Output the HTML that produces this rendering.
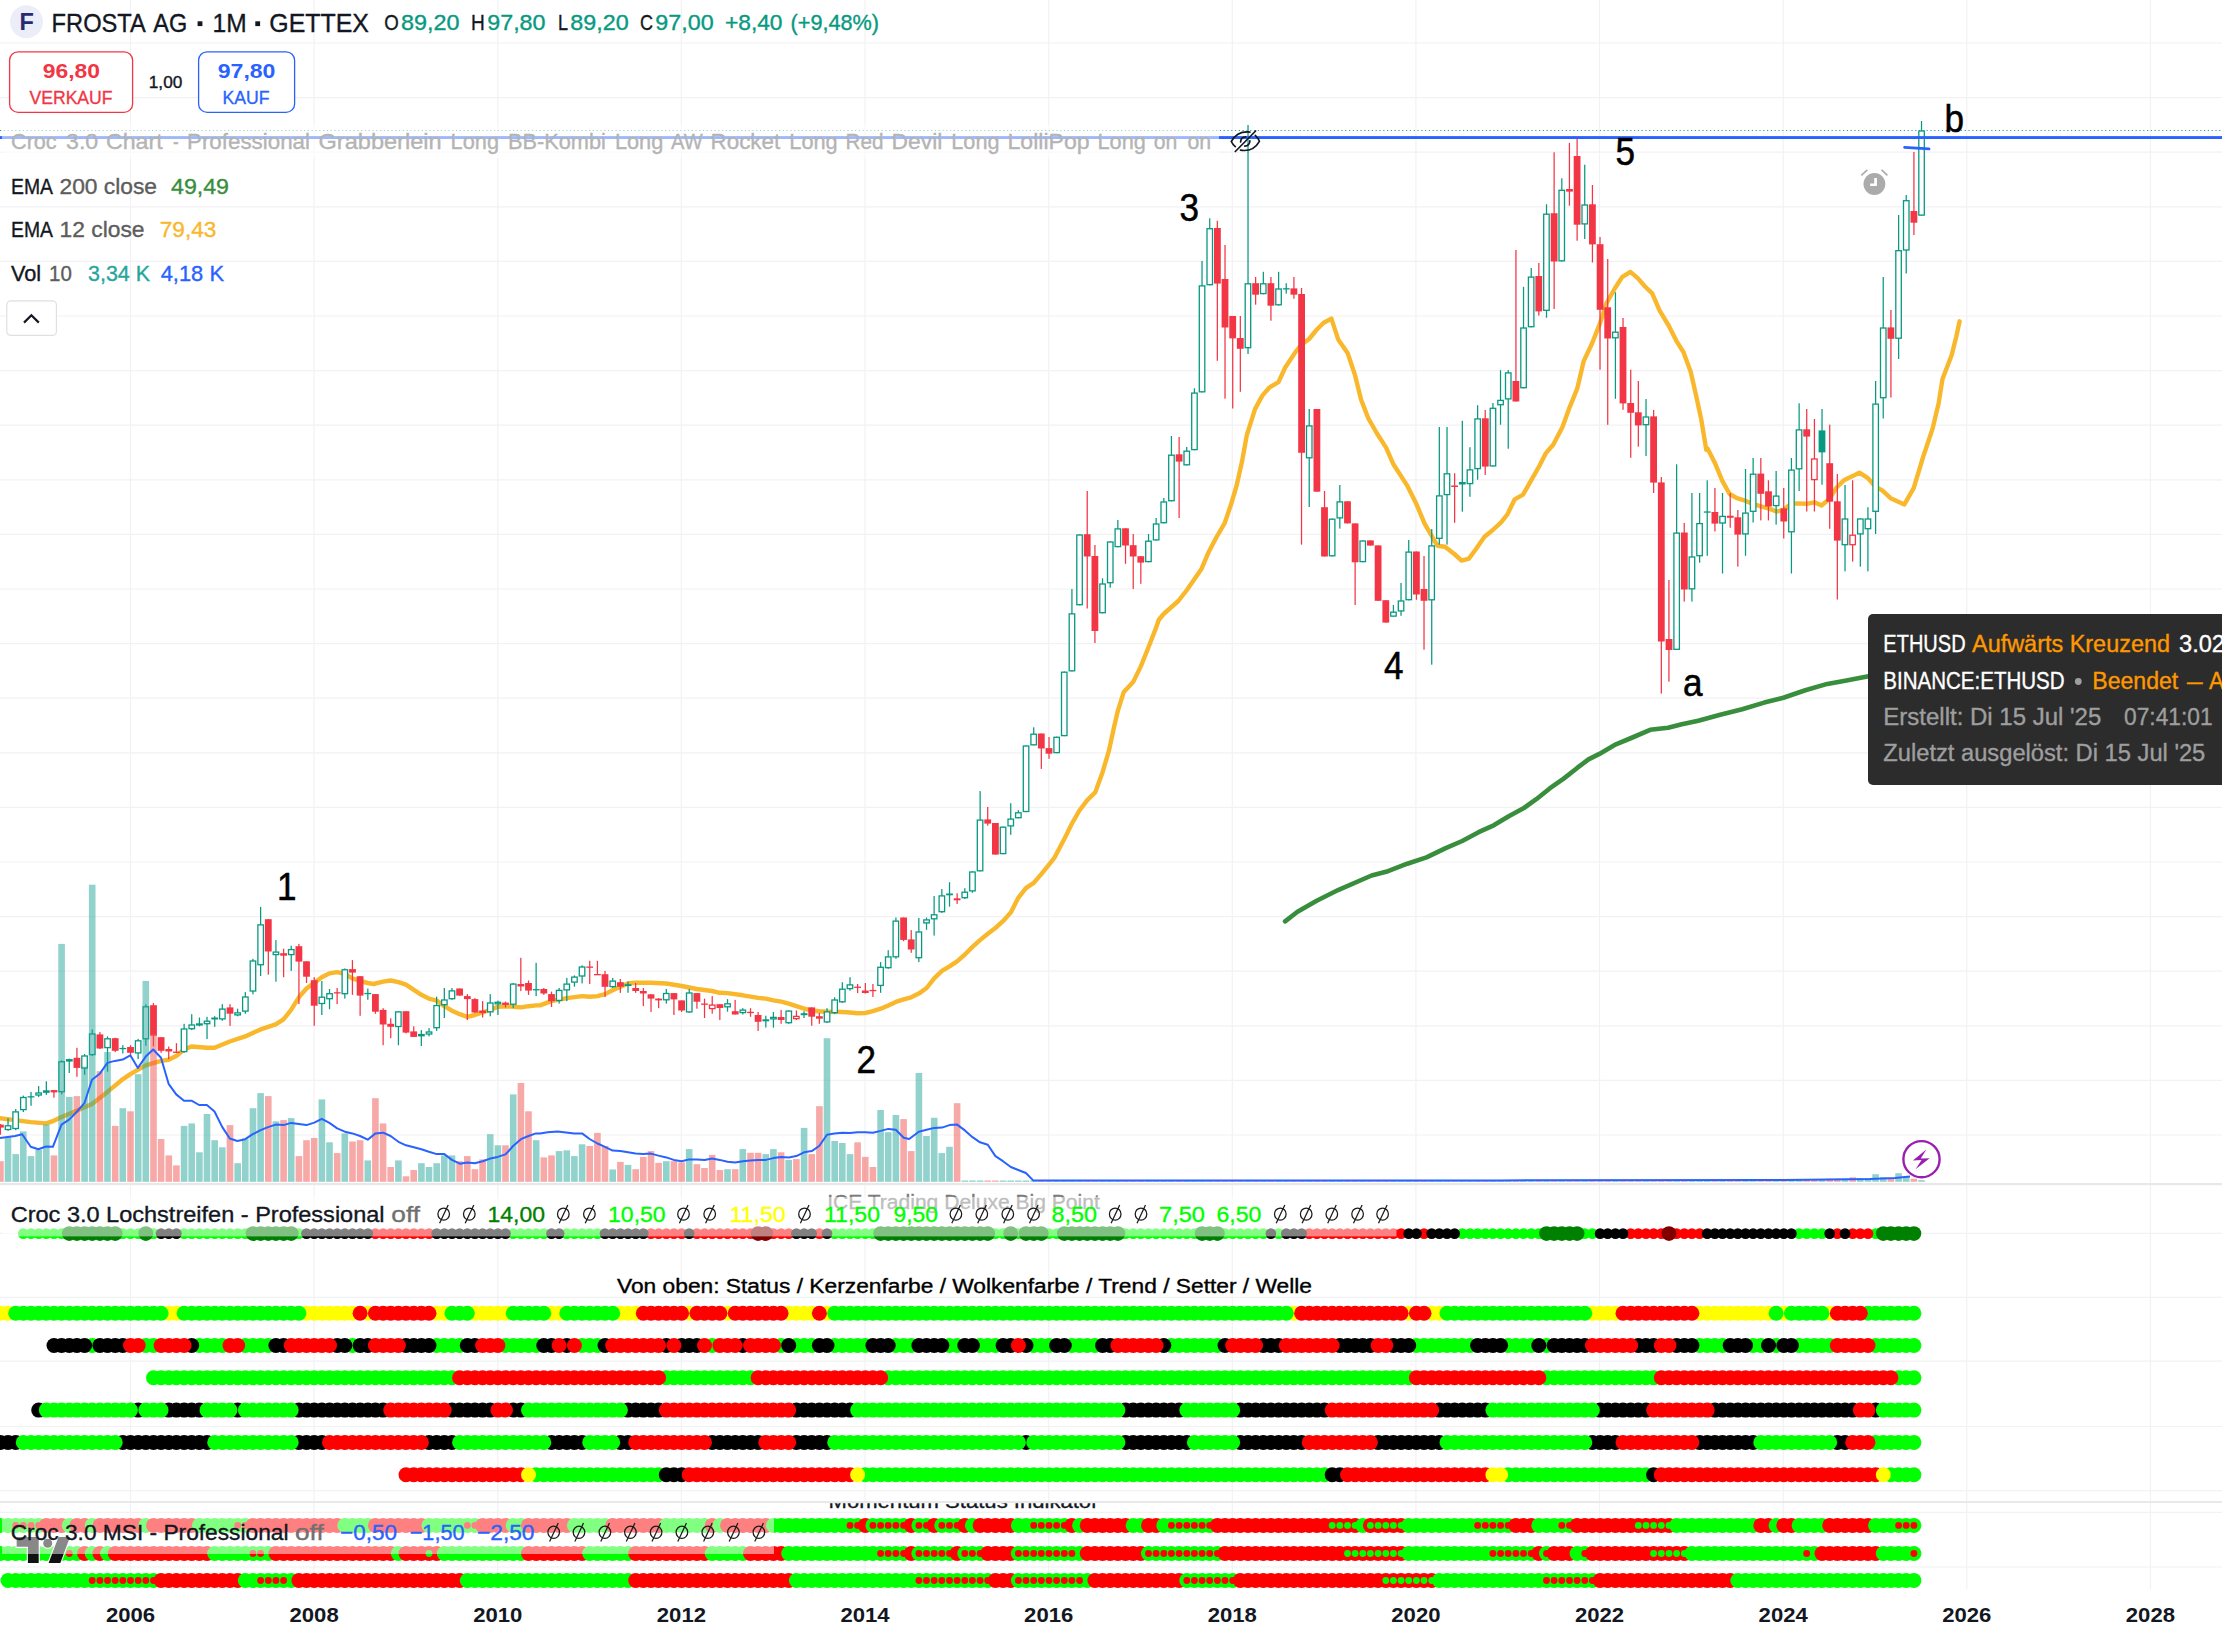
<!DOCTYPE html>
<html><head><meta charset="utf-8"><title>FROSTA AG</title>
<style>html,body{margin:0;padding:0;background:#fff;overflow:hidden}svg{display:block}text{font-family:"Liberation Sans",sans-serif;white-space:pre}</style>
</head><body>
<svg width="2222" height="1634" viewBox="0 0 2222 1634" font-family="Liberation Sans, sans-serif">
<rect width="2222" height="1634" fill="#fff"/>
<g stroke="#f2f2f4" stroke-width="1.2" fill="none">
<path d="M130.5 0V1589"/>
<path d="M314.1 0V1589"/>
<path d="M497.8 0V1589"/>
<path d="M681.4 0V1589"/>
<path d="M865 0V1589"/>
<path d="M1048.7 0V1589"/>
<path d="M1232.3 0V1589"/>
<path d="M1415.9 0V1589"/>
<path d="M1599.5 0V1589"/>
<path d="M1783.2 0V1589"/>
<path d="M1966.8 0V1589"/>
<path d="M2150.4 0V1589"/>
<path d="M0 43H2222"/>
<path d="M0 97.6H2222"/>
<path d="M0 152.2H2222"/>
<path d="M0 206.8H2222"/>
<path d="M0 261.4H2222"/>
<path d="M0 316H2222"/>
<path d="M0 370.6H2222"/>
<path d="M0 425.2H2222"/>
<path d="M0 479.8H2222"/>
<path d="M0 534.4H2222"/>
<path d="M0 589H2222"/>
<path d="M0 643.6H2222"/>
<path d="M0 698.2H2222"/>
<path d="M0 752.8H2222"/>
<path d="M0 807.4H2222"/>
<path d="M0 862H2222"/>
<path d="M0 916.6H2222"/>
<path d="M0 971.2H2222"/>
<path d="M0 1025.8H2222"/>
<path d="M0 1080.4H2222"/>
<path d="M0 1135H2222"/>
<path d="M0 1233.3H2222"/>
<path d="M0 1297.3H2222"/>
<path d="M0 1361.2H2222"/>
<path d="M0 1426.5H2222"/>
<path d="M0 1490.6H2222"/>
<path d="M0 1512.3H2222"/>
<path d="M0 1567H2222"/>
</g>
<rect x="0" y="1183" width="2222" height="2.2" fill="#e8e8ea"/>
<rect x="0" y="1501.1" width="2222" height="1.9" fill="#e8e8ea"/>
<path d="M1285.1 921.4 L1297.5 911.8 L1316.7 900.8 L1338.6 889.8 L1371.6 875.5 L1388 871.2 L1407.3 863.7 L1426.5 857.4 L1445.7 848.1 L1462.2 841 L1478.6 832.2 L1493.7 825.3 L1508.8 816.2 L1523.9 808 L1536.3 799.2 L1550 788.2 L1563.7 778.6 L1577.5 767.7 L1588.5 759.4 L1599.4 753.9 L1615.9 744.3 L1632.4 737.5 L1650.2 729.8 L1668.1 727.8 L1681.8 724.3 L1698.3 720.7 L1720.2 714.7 L1742.2 709.2 L1764.2 702.6 L1783.4 697.7 L1805.3 690.2 L1827.3 683.9 L1846.5 680.4 L1868.5 676.2 L1879.5 674.6" stroke="#388e3c" stroke-width="4.6" fill="none" stroke-linejoin="round" stroke-linecap="round"/>
<path d="M0 1118.3 L15.1 1120.1 L30.7 1122.1 L46.1 1123.4 L53.7 1120.8 L61.5 1117.1 L76.6 1110.8 L92 1104 L107.4 1091.9 L122.7 1079.3 L130.3 1074.2 L145.7 1065.4 L161 1060.9 L168.6 1059.8 L176.2 1056.1 L184 1049.5 L191.5 1046.5 L206.9 1047.8 L214.5 1047.8 L229.8 1041.5 L245.2 1036.4 L260.6 1029.4 L275.7 1024.3 L283.5 1019.3 L291.1 1009.9 L298.9 997.3 L306.5 988.5 L314.3 982.7 L321.8 977.2 L329.4 973.4 L337.2 972.1 L344.8 973.9 L352.3 978.4 L360.1 981 L367.7 983 L373.5 984 L383.1 981.7 L390.6 980.5 L398.4 982.2 L406 984.7 L413.8 989.8 L421.4 994.8 L428.9 998.6 L436.7 1000.6 L444.3 1006.2 L451.9 1010.7 L459.7 1014.2 L467.2 1016.8 L474.8 1015 L482.6 1012.5 L490.2 1009.9 L497.7 1006.9 L505.5 1006.2 L513.1 1006.7 L520.9 1007.4 L528.5 1006.2 L536 1005.4 L540 1005.4 L551.3 1001.1 L566.7 998.1 L582.1 996.1 L589.6 996.8 L597.5 996.1 L605 994.1 L612.6 990.3 L620.4 986.8 L628 983.5 L635.5 982.7 L650.9 982.7 L666.3 983.5 L681.6 986 L696.8 989 L712.1 991 L719.7 992.8 L727.5 993.1 L742.9 995.3 L758.2 997.9 L765.8 998.6 L773.4 1000.4 L781.2 1001.6 L788.7 1003.6 L796.3 1006.2 L804.1 1008.7 L811.7 1010.5 L819.2 1011.2 L827 1011.7 L834.6 1011.7 L842.4 1012 L850 1012.5 L857.5 1013.2 L865.4 1013 L872.9 1011.2 L880.7 1008.7 L888.3 1005.4 L895.8 1001.9 L903.7 999.4 L911.2 997.3 L918.8 993.6 L926.6 988 L934.2 978.4 L942 970.9 L949.5 966.4 L957.1 961.3 L964.9 954.5 L972.5 946.9 L980 940.1 L987.8 933.8 L995.4 928 L1003 921.2 L1010.8 912.4 L1018.3 897.8 L1025.9 888.2 L1033.4 883.2 L1041.5 873.9 L1051.6 861.3 L1054.7 857.3 L1064 839.6 L1071.7 824 L1079.4 810.5 L1087.3 800.1 L1095.2 792.4 L1102.3 773 L1108.8 751.2 L1114 727.3 L1117.9 710.6 L1123.8 691.9 L1133.1 682.1 L1140.6 666.9 L1148.5 647.2 L1156.2 627.4 L1158.7 620 L1163.6 614 L1178.3 601 L1186.9 590 L1201.6 568.7 L1208.3 552.8 L1216.3 537.5 L1224.8 522.8 L1231 504.5 L1236.5 486 L1242 461.6 L1246.9 434.7 L1248.8 428.9 L1255 409.1 L1262.3 395.6 L1269.6 387.3 L1278.5 382.1 L1285.2 367.5 L1295.6 351.9 L1301.4 344.6 L1309.1 339 L1316.4 330 L1323.7 322.8 L1331.4 318.6 L1338.2 339.4 L1347.6 352.9 L1354.9 374.8 L1361.1 399.8 L1368.4 418.5 L1376.7 433 L1386.1 447.6 L1393.4 464.3 L1406.9 485.1 L1416.3 503.8 L1424.6 523.6 L1434 540 L1437.7 545.7 L1445 546.7 L1454.3 554 L1461.6 560.6 L1468.9 558.6 L1476.2 548.8 L1484.5 536.7 L1492.8 530 L1501.1 522.3 L1507.4 514.4 L1514.7 499.3 L1523 494.7 L1531.3 480.1 L1539.6 465.5 L1545.9 453.1 L1553.2 444.7 L1562.5 427 L1568.8 409.4 L1577.3 388.4 L1583.6 361.4 L1591.9 343.7 L1600.2 322.9 L1606.5 303.1 L1614.8 288.5 L1622.1 277.1 L1630.4 271.9 L1637.7 278.1 L1645 286.5 L1652.2 293.3 L1659.5 310.4 L1668.9 326 L1676.2 340.6 L1683.4 352 L1690.7 371.8 L1695.9 394.7 L1701.1 418.6 L1706.3 449.8 L1707.7 448.7 L1715 463.2 L1722.3 480.9 L1729.6 494 L1736.9 498.2 L1745.2 500.7 L1752.5 503.8 L1760.8 506.3 L1768.5 508.4 L1776.4 511.5 L1783.7 510 L1788.9 505.5 L1796.2 503.4 L1806.6 503.8 L1814.5 502.3 L1821.5 505.5 L1829.7 498.6 L1836.3 487.8 L1844.4 479.9 L1852.6 476.1 L1859.4 472.6 L1867.5 477.8 L1875.6 486.7 L1882.5 490.7 L1890.6 498.2 L1904.4 504.4 L1913.7 488.2 L1923.1 457 L1932.5 428.9 L1938.7 402.9 L1942.5 379 L1951.7 355 L1956.3 336.5 L1959.6 321.3" stroke="#f9b72c" stroke-width="4.4" fill="none" stroke-linejoin="round" stroke-linecap="round"/>
<g>
<rect x="-0.2" y="1124.1" width="1.25" height="10.6" fill="#f23645"/>
<rect x="-3" y="1124.6" width="6.8" height="3" fill="#f23645"/>
<rect x="7.4" y="1118.3" width="1.25" height="12.6" fill="#089981"/>
<rect x="5.3" y="1125.8" width="5.5" height="3.7" fill="#fff" stroke="#089981" stroke-width="1.3"/>
<rect x="15.1" y="1109" width="1.25" height="21.2" fill="#089981"/>
<rect x="12.9" y="1111.9" width="5.5" height="16.6" fill="#fff" stroke="#089981" stroke-width="1.3"/>
<rect x="22.7" y="1095.6" width="1.25" height="16.4" fill="#089981"/>
<rect x="20.6" y="1097.5" width="5.5" height="12.1" fill="#fff" stroke="#089981" stroke-width="1.3"/>
<rect x="30.4" y="1091.9" width="1.25" height="13.9" fill="#089981"/>
<rect x="27.6" y="1096.2" width="6.8" height="1.3" fill="#089981"/>
<rect x="38" y="1086.1" width="1.25" height="10.8" fill="#089981"/>
<rect x="35.9" y="1093" width="5.5" height="2" fill="#fff" stroke="#089981" stroke-width="1.3"/>
<rect x="45.7" y="1081.3" width="1.25" height="13.6" fill="#089981"/>
<rect x="42.9" y="1090.3" width="6.8" height="2.5" fill="#089981"/>
<rect x="53.3" y="1090.1" width="1.25" height="7.6" fill="#f23645"/>
<rect x="50.6" y="1090.1" width="6.8" height="2.3" fill="#f23645"/>
<rect x="61" y="1060.4" width="1.25" height="34" fill="#089981"/>
<rect x="58.9" y="1061.8" width="5.5" height="29.9" fill="#fff" stroke="#089981" stroke-width="1.3"/>
<rect x="68.6" y="1058.6" width="1.25" height="14.4" fill="#089981"/>
<rect x="65.9" y="1059.1" width="6.8" height="2.5" fill="#089981"/>
<rect x="76.3" y="1047.8" width="1.25" height="29" fill="#f23645"/>
<rect x="73.5" y="1057.8" width="6.8" height="10.1" fill="#f23645"/>
<rect x="84" y="1054.1" width="1.25" height="20.7" fill="#089981"/>
<rect x="81.8" y="1056" width="5.5" height="12.1" fill="#fff" stroke="#089981" stroke-width="1.3"/>
<rect x="91.6" y="1029.4" width="1.25" height="26.7" fill="#089981"/>
<rect x="89.5" y="1034" width="5.5" height="20.6" fill="#fff" stroke="#089981" stroke-width="1.3"/>
<rect x="99.3" y="1032.1" width="1.25" height="16.9" fill="#f23645"/>
<rect x="96.5" y="1034.4" width="6.8" height="14.1" fill="#f23645"/>
<rect x="106.9" y="1036.4" width="1.25" height="35.3" fill="#089981"/>
<rect x="104.8" y="1038.8" width="5.5" height="8.8" fill="#fff" stroke="#089981" stroke-width="1.3"/>
<rect x="114.6" y="1037.7" width="1.25" height="14.4" fill="#f23645"/>
<rect x="111.8" y="1038.2" width="6.8" height="12.6" fill="#f23645"/>
<rect x="122.2" y="1045.2" width="1.25" height="8.3" fill="#089981"/>
<rect x="119.4" y="1047.9" width="6.8" height="1.3" fill="#089981"/>
<rect x="129.9" y="1045.2" width="1.25" height="10.1" fill="#f23645"/>
<rect x="127.1" y="1047" width="6.8" height="5.8" fill="#f23645"/>
<rect x="137.5" y="1038.9" width="1.25" height="20.2" fill="#089981"/>
<rect x="135.4" y="1040.8" width="5.5" height="12.1" fill="#fff" stroke="#089981" stroke-width="1.3"/>
<rect x="145.2" y="1004.2" width="1.25" height="41.6" fill="#089981"/>
<rect x="143.1" y="1006.8" width="5.5" height="32" fill="#fff" stroke="#089981" stroke-width="1.3"/>
<rect x="152.8" y="1003.1" width="1.25" height="43.3" fill="#f23645"/>
<rect x="150.1" y="1005.2" width="6.8" height="30.5" fill="#f23645"/>
<rect x="160.5" y="1037.2" width="1.25" height="15.6" fill="#f23645"/>
<rect x="157.7" y="1037.2" width="6.8" height="13.6" fill="#f23645"/>
<rect x="168.1" y="1046.5" width="1.25" height="12.6" fill="#f23645"/>
<rect x="165.4" y="1049" width="6.8" height="2.5" fill="#f23645"/>
<rect x="175.8" y="1043.2" width="1.25" height="9.6" fill="#f23645"/>
<rect x="173" y="1051.6" width="6.8" height="1.3" fill="#f23645"/>
<rect x="183.5" y="1023.8" width="1.25" height="29" fill="#089981"/>
<rect x="181.3" y="1029" width="5.5" height="22.6" fill="#fff" stroke="#089981" stroke-width="1.3"/>
<rect x="191.1" y="1014.2" width="1.25" height="15.9" fill="#089981"/>
<rect x="189" y="1025" width="5.5" height="3.7" fill="#fff" stroke="#089981" stroke-width="1.3"/>
<rect x="198.8" y="1017.5" width="1.25" height="8.8" fill="#089981"/>
<rect x="196" y="1023.3" width="6.8" height="2.3" fill="#089981"/>
<rect x="206.4" y="1016.8" width="1.25" height="22.2" fill="#089981"/>
<rect x="204.3" y="1021.2" width="5.5" height="2.5" fill="#fff" stroke="#089981" stroke-width="1.3"/>
<rect x="214.1" y="1016.2" width="1.25" height="10.6" fill="#089981"/>
<rect x="211.3" y="1017.5" width="6.8" height="2" fill="#089981"/>
<rect x="221.7" y="1004.2" width="1.25" height="16.6" fill="#089981"/>
<rect x="219.6" y="1009.1" width="5.5" height="9.8" fill="#fff" stroke="#089981" stroke-width="1.3"/>
<rect x="229.4" y="1004.2" width="1.25" height="21.7" fill="#f23645"/>
<rect x="226.6" y="1007.4" width="6.8" height="6.3" fill="#f23645"/>
<rect x="237" y="1008.7" width="1.25" height="7.6" fill="#089981"/>
<rect x="234.9" y="1012.9" width="5.5" height="2" fill="#fff" stroke="#089981" stroke-width="1.3"/>
<rect x="244.7" y="992.1" width="1.25" height="21.7" fill="#089981"/>
<rect x="242.6" y="997" width="5.5" height="14.1" fill="#fff" stroke="#089981" stroke-width="1.3"/>
<rect x="252.3" y="958.8" width="1.25" height="35.5" fill="#089981"/>
<rect x="250.2" y="961" width="5.5" height="30" fill="#fff" stroke="#089981" stroke-width="1.3"/>
<rect x="260" y="906.9" width="1.25" height="69.1" fill="#089981"/>
<rect x="257.9" y="924.9" width="5.5" height="39.8" fill="#fff" stroke="#089981" stroke-width="1.3"/>
<rect x="267.7" y="919.2" width="1.25" height="55.4" fill="#f23645"/>
<rect x="264.9" y="919.2" width="6.8" height="32.3" fill="#f23645"/>
<rect x="275.3" y="940.1" width="1.25" height="41.6" fill="#089981"/>
<rect x="273.2" y="952.1" width="5.5" height="2.5" fill="#fff" stroke="#089981" stroke-width="1.3"/>
<rect x="283" y="948.7" width="1.25" height="28.5" fill="#f23645"/>
<rect x="280.2" y="953.2" width="6.8" height="2.5" fill="#f23645"/>
<rect x="290.6" y="945.7" width="1.25" height="25.2" fill="#089981"/>
<rect x="288.5" y="949.6" width="5.5" height="5" fill="#fff" stroke="#089981" stroke-width="1.3"/>
<rect x="298.3" y="943.9" width="1.25" height="60.2" fill="#f23645"/>
<rect x="295.5" y="946.2" width="6.8" height="15.4" fill="#f23645"/>
<rect x="305.9" y="961.3" width="1.25" height="21.7" fill="#f23645"/>
<rect x="303.1" y="961.3" width="6.8" height="15.4" fill="#f23645"/>
<rect x="313.6" y="977.2" width="1.25" height="48.6" fill="#f23645"/>
<rect x="310.8" y="980.2" width="6.8" height="25.5" fill="#f23645"/>
<rect x="321.2" y="981" width="1.25" height="34" fill="#089981"/>
<rect x="319.1" y="997.2" width="5.5" height="6.3" fill="#fff" stroke="#089981" stroke-width="1.3"/>
<rect x="328.9" y="989" width="1.25" height="20.2" fill="#089981"/>
<rect x="326.8" y="993.7" width="5.5" height="5" fill="#fff" stroke="#089981" stroke-width="1.3"/>
<rect x="336.5" y="988" width="1.25" height="16.1" fill="#f23645"/>
<rect x="333.8" y="992.2" width="6.8" height="1.3" fill="#f23645"/>
<rect x="344.2" y="968.4" width="1.25" height="30.2" fill="#089981"/>
<rect x="342.1" y="969.8" width="5.5" height="23.9" fill="#fff" stroke="#089981" stroke-width="1.3"/>
<rect x="351.8" y="960.1" width="1.25" height="34.8" fill="#f23645"/>
<rect x="349.1" y="969.1" width="6.8" height="3.5" fill="#f23645"/>
<rect x="359.5" y="976.2" width="1.25" height="39.6" fill="#f23645"/>
<rect x="356.7" y="976.2" width="6.8" height="19.4" fill="#f23645"/>
<rect x="367.2" y="988.5" width="1.25" height="11.3" fill="#089981"/>
<rect x="364.4" y="992.9" width="6.8" height="1.3" fill="#089981"/>
<rect x="374.8" y="994.1" width="1.25" height="19.7" fill="#f23645"/>
<rect x="372" y="994.1" width="6.8" height="17.6" fill="#f23645"/>
<rect x="382.5" y="1008.2" width="1.25" height="37" fill="#f23645"/>
<rect x="379.7" y="1009.9" width="6.8" height="14.6" fill="#f23645"/>
<rect x="390.1" y="1018.3" width="1.25" height="19.9" fill="#f23645"/>
<rect x="387.3" y="1023.8" width="6.8" height="3" fill="#f23645"/>
<rect x="397.8" y="1011.2" width="1.25" height="34" fill="#089981"/>
<rect x="395.6" y="1011.9" width="5.5" height="14.6" fill="#fff" stroke="#089981" stroke-width="1.3"/>
<rect x="405.4" y="1011.2" width="1.25" height="22.2" fill="#f23645"/>
<rect x="402.6" y="1011.2" width="6.8" height="21.4" fill="#f23645"/>
<rect x="413.1" y="1026.3" width="1.25" height="10.6" fill="#f23645"/>
<rect x="410.3" y="1031.4" width="6.8" height="5.5" fill="#f23645"/>
<rect x="420.7" y="1030.1" width="1.25" height="15.9" fill="#089981"/>
<rect x="418" y="1033.9" width="6.8" height="2.5" fill="#089981"/>
<rect x="428.4" y="1028.1" width="1.25" height="8.3" fill="#089981"/>
<rect x="426.3" y="1032" width="5.5" height="2" fill="#fff" stroke="#089981" stroke-width="1.3"/>
<rect x="436" y="996.6" width="1.25" height="34.3" fill="#089981"/>
<rect x="433.9" y="1005.6" width="5.5" height="22.1" fill="#fff" stroke="#089981" stroke-width="1.3"/>
<rect x="443.7" y="988" width="1.25" height="30" fill="#089981"/>
<rect x="441.6" y="1000" width="5.5" height="4.7" fill="#fff" stroke="#089981" stroke-width="1.3"/>
<rect x="451.3" y="988" width="1.25" height="11.8" fill="#089981"/>
<rect x="449.2" y="990.9" width="5.5" height="7.8" fill="#fff" stroke="#089981" stroke-width="1.3"/>
<rect x="459" y="988.5" width="1.25" height="7.1" fill="#f23645"/>
<rect x="456.2" y="988.5" width="6.8" height="7.1" fill="#f23645"/>
<rect x="466.7" y="994.1" width="1.25" height="26" fill="#f23645"/>
<rect x="463.9" y="996.1" width="6.8" height="3" fill="#f23645"/>
<rect x="474.3" y="998.1" width="1.25" height="14.9" fill="#f23645"/>
<rect x="471.5" y="999.1" width="6.8" height="13.4" fill="#f23645"/>
<rect x="482" y="1001.1" width="1.25" height="16.4" fill="#f23645"/>
<rect x="479.2" y="1010.5" width="6.8" height="2.5" fill="#f23645"/>
<rect x="489.6" y="994.1" width="1.25" height="22.2" fill="#089981"/>
<rect x="487.5" y="1003" width="5.5" height="8.8" fill="#fff" stroke="#089981" stroke-width="1.3"/>
<rect x="497.3" y="1000.6" width="1.25" height="14.4" fill="#089981"/>
<rect x="495.1" y="1002.3" width="5.5" height="1.5" fill="#fff" stroke="#089981" stroke-width="1.3"/>
<rect x="504.9" y="1001.6" width="1.25" height="5.8" fill="#f23645"/>
<rect x="502.1" y="1002.6" width="6.8" height="2.3" fill="#f23645"/>
<rect x="512.6" y="983" width="1.25" height="24.9" fill="#089981"/>
<rect x="510.5" y="984.1" width="5.5" height="20.1" fill="#fff" stroke="#089981" stroke-width="1.3"/>
<rect x="520.2" y="957.8" width="1.25" height="33.3" fill="#f23645"/>
<rect x="517.5" y="984" width="6.8" height="2.5" fill="#f23645"/>
<rect x="527.9" y="980.5" width="1.25" height="14.4" fill="#f23645"/>
<rect x="525.1" y="983" width="6.8" height="7.6" fill="#f23645"/>
<rect x="535.5" y="962.8" width="1.25" height="33.3" fill="#089981"/>
<rect x="532.8" y="989.1" width="6.8" height="1.3" fill="#089981"/>
<rect x="543.2" y="988" width="1.25" height="6.8" fill="#f23645"/>
<rect x="540.4" y="989" width="6.8" height="4.5" fill="#f23645"/>
<rect x="550.9" y="991.6" width="1.25" height="15.4" fill="#f23645"/>
<rect x="548.1" y="994.1" width="6.8" height="7.1" fill="#f23645"/>
<rect x="558.5" y="988" width="1.25" height="15.6" fill="#089981"/>
<rect x="556.4" y="990.4" width="5.5" height="10" fill="#fff" stroke="#089981" stroke-width="1.3"/>
<rect x="566.2" y="977.9" width="1.25" height="23.2" fill="#089981"/>
<rect x="564" y="984.1" width="5.5" height="5.8" fill="#fff" stroke="#089981" stroke-width="1.3"/>
<rect x="573.8" y="975.4" width="1.25" height="11.3" fill="#089981"/>
<rect x="571.7" y="977.1" width="5.5" height="5" fill="#fff" stroke="#089981" stroke-width="1.3"/>
<rect x="581.5" y="965.3" width="1.25" height="18.1" fill="#089981"/>
<rect x="579.3" y="967" width="5.5" height="9" fill="#fff" stroke="#089981" stroke-width="1.3"/>
<rect x="589.1" y="960.8" width="1.25" height="23.2" fill="#f23645"/>
<rect x="586.3" y="966.5" width="6.8" height="1.3" fill="#f23645"/>
<rect x="596.8" y="960.8" width="1.25" height="14.1" fill="#f23645"/>
<rect x="594" y="974" width="6.8" height="1.3" fill="#f23645"/>
<rect x="604.4" y="970.9" width="1.25" height="26" fill="#f23645"/>
<rect x="601.6" y="974.2" width="6.8" height="12.6" fill="#f23645"/>
<rect x="612.1" y="977.9" width="1.25" height="10.1" fill="#089981"/>
<rect x="610" y="981.1" width="5.5" height="5.5" fill="#fff" stroke="#089981" stroke-width="1.3"/>
<rect x="619.7" y="979" width="1.25" height="13.9" fill="#f23645"/>
<rect x="617" y="982.2" width="6.8" height="4.5" fill="#f23645"/>
<rect x="627.4" y="981.5" width="1.25" height="11.3" fill="#089981"/>
<rect x="624.6" y="984.2" width="6.8" height="1.8" fill="#089981"/>
<rect x="635" y="983" width="1.25" height="9.8" fill="#f23645"/>
<rect x="632.3" y="988" width="6.8" height="3" fill="#f23645"/>
<rect x="642.7" y="988" width="1.25" height="18.1" fill="#f23645"/>
<rect x="639.9" y="991" width="6.8" height="2.5" fill="#f23645"/>
<rect x="650.4" y="994.3" width="1.25" height="17.6" fill="#f23645"/>
<rect x="647.6" y="994.3" width="6.8" height="4.3" fill="#f23645"/>
<rect x="658" y="998.1" width="1.25" height="10.1" fill="#f23645"/>
<rect x="655.2" y="998.6" width="6.8" height="1.8" fill="#f23645"/>
<rect x="665.7" y="989" width="1.25" height="14.6" fill="#089981"/>
<rect x="663.5" y="993.5" width="5.5" height="6.3" fill="#fff" stroke="#089981" stroke-width="1.3"/>
<rect x="673.3" y="993.1" width="1.25" height="21.9" fill="#f23645"/>
<rect x="670.5" y="993.1" width="6.8" height="6.3" fill="#f23645"/>
<rect x="681" y="1000.4" width="1.25" height="11.6" fill="#f23645"/>
<rect x="678.2" y="1000.4" width="6.8" height="10.1" fill="#f23645"/>
<rect x="688.6" y="989" width="1.25" height="23.9" fill="#089981"/>
<rect x="686.5" y="993" width="5.5" height="18.9" fill="#fff" stroke="#089981" stroke-width="1.3"/>
<rect x="696.3" y="993.1" width="1.25" height="15.6" fill="#f23645"/>
<rect x="693.5" y="993.1" width="6.8" height="8.6" fill="#f23645"/>
<rect x="703.9" y="998.6" width="1.25" height="19.4" fill="#f23645"/>
<rect x="701.1" y="1003.5" width="6.8" height="1.3" fill="#f23645"/>
<rect x="711.6" y="996.1" width="1.25" height="17.6" fill="#f23645"/>
<rect x="709.5" y="1005.1" width="5.5" height="3.5" fill="#fff" stroke="#f23645" stroke-width="1.3"/>
<rect x="719.2" y="1004.2" width="1.25" height="15.9" fill="#f23645"/>
<rect x="716.5" y="1004.2" width="6.8" height="3.8" fill="#f23645"/>
<rect x="726.9" y="999.1" width="1.25" height="12.6" fill="#089981"/>
<rect x="724.8" y="1003.8" width="5.5" height="3" fill="#fff" stroke="#089981" stroke-width="1.3"/>
<rect x="734.5" y="999.9" width="1.25" height="14.6" fill="#f23645"/>
<rect x="731.8" y="1011.2" width="6.8" height="3.3" fill="#f23645"/>
<rect x="742.2" y="1008.2" width="1.25" height="6.3" fill="#089981"/>
<rect x="740.1" y="1010.1" width="5.5" height="2.5" fill="#fff" stroke="#089981" stroke-width="1.3"/>
<rect x="749.9" y="1008.2" width="1.25" height="8.6" fill="#f23645"/>
<rect x="747.1" y="1011.8" width="6.8" height="1.3" fill="#f23645"/>
<rect x="757.5" y="1012" width="1.25" height="18.9" fill="#f23645"/>
<rect x="754.7" y="1015" width="6.8" height="6.8" fill="#f23645"/>
<rect x="765.2" y="1015.7" width="1.25" height="11.8" fill="#089981"/>
<rect x="762.4" y="1019.3" width="6.8" height="2" fill="#089981"/>
<rect x="772.8" y="1012" width="1.25" height="15.6" fill="#089981"/>
<rect x="770.7" y="1017.4" width="5.5" height="1.5" fill="#fff" stroke="#089981" stroke-width="1.3"/>
<rect x="780.5" y="1009.9" width="1.25" height="13.9" fill="#f23645"/>
<rect x="777.7" y="1017" width="6.8" height="3" fill="#f23645"/>
<rect x="788.1" y="1010.5" width="1.25" height="13.4" fill="#089981"/>
<rect x="786" y="1011.1" width="5.5" height="11.6" fill="#fff" stroke="#089981" stroke-width="1.3"/>
<rect x="795.8" y="1010.5" width="1.25" height="9.6" fill="#f23645"/>
<rect x="793.6" y="1016.4" width="5.5" height="2.2" fill="#fff" stroke="#f23645" stroke-width="1.3"/>
<rect x="803.4" y="1011.2" width="1.25" height="6.8" fill="#089981"/>
<rect x="800.7" y="1013.2" width="6.8" height="2" fill="#089981"/>
<rect x="811.1" y="1007.4" width="1.25" height="18.4" fill="#f23645"/>
<rect x="808.3" y="1007.4" width="6.8" height="9.3" fill="#f23645"/>
<rect x="818.7" y="1013" width="1.25" height="10.8" fill="#f23645"/>
<rect x="816" y="1016.2" width="6.8" height="2.5" fill="#f23645"/>
<rect x="826.4" y="1008.2" width="1.25" height="14.9" fill="#089981"/>
<rect x="824.3" y="1011.9" width="5.5" height="10" fill="#fff" stroke="#089981" stroke-width="1.3"/>
<rect x="834" y="997.3" width="1.25" height="16.9" fill="#089981"/>
<rect x="831.9" y="1000" width="5.5" height="12.6" fill="#fff" stroke="#089981" stroke-width="1.3"/>
<rect x="841.7" y="982.2" width="1.25" height="20.7" fill="#089981"/>
<rect x="839.6" y="989.2" width="5.5" height="12.6" fill="#fff" stroke="#089981" stroke-width="1.3"/>
<rect x="849.4" y="977.2" width="1.25" height="13.4" fill="#089981"/>
<rect x="847.2" y="984.9" width="5.5" height="3.7" fill="#fff" stroke="#089981" stroke-width="1.3"/>
<rect x="857" y="984" width="1.25" height="9.1" fill="#f23645"/>
<rect x="854.2" y="986.6" width="6.8" height="1.3" fill="#f23645"/>
<rect x="864.7" y="983" width="1.25" height="10.6" fill="#f23645"/>
<rect x="861.9" y="990.5" width="6.8" height="2.5" fill="#f23645"/>
<rect x="872.3" y="984" width="1.25" height="12.9" fill="#f23645"/>
<rect x="869.5" y="989.9" width="6.8" height="1.3" fill="#f23645"/>
<rect x="880" y="962.1" width="1.25" height="30.7" fill="#089981"/>
<rect x="877.8" y="967.3" width="5.5" height="18.1" fill="#fff" stroke="#089981" stroke-width="1.3"/>
<rect x="887.6" y="950.2" width="1.25" height="18.6" fill="#089981"/>
<rect x="885.5" y="956.9" width="5.5" height="10.8" fill="#fff" stroke="#089981" stroke-width="1.3"/>
<rect x="895.3" y="917.5" width="1.25" height="41.3" fill="#089981"/>
<rect x="893.1" y="921.1" width="5.5" height="35.7" fill="#fff" stroke="#089981" stroke-width="1.3"/>
<rect x="902.9" y="917.5" width="1.25" height="23.7" fill="#f23645"/>
<rect x="900.2" y="917.5" width="6.8" height="22.4" fill="#f23645"/>
<rect x="910.6" y="930.1" width="1.25" height="22.7" fill="#f23645"/>
<rect x="907.8" y="939.4" width="6.8" height="10.1" fill="#f23645"/>
<rect x="918.2" y="918" width="1.25" height="44.1" fill="#089981"/>
<rect x="916.1" y="932" width="5.5" height="25.7" fill="#fff" stroke="#089981" stroke-width="1.3"/>
<rect x="925.9" y="917.5" width="1.25" height="12.3" fill="#089981"/>
<rect x="923.8" y="919.9" width="5.5" height="3" fill="#fff" stroke="#089981" stroke-width="1.3"/>
<rect x="933.5" y="896" width="1.25" height="39.6" fill="#089981"/>
<rect x="931.4" y="914.8" width="5.5" height="4" fill="#fff" stroke="#089981" stroke-width="1.3"/>
<rect x="941.2" y="889" width="1.25" height="23.9" fill="#089981"/>
<rect x="939.1" y="895.9" width="5.5" height="15.8" fill="#fff" stroke="#089981" stroke-width="1.3"/>
<rect x="948.9" y="882.2" width="1.25" height="24.4" fill="#089981"/>
<rect x="946.1" y="893.5" width="6.8" height="1.8" fill="#089981"/>
<rect x="956.5" y="893.3" width="1.25" height="10.6" fill="#f23645"/>
<rect x="953.7" y="898.3" width="6.8" height="2" fill="#f23645"/>
<rect x="964.2" y="888.2" width="1.25" height="10.8" fill="#089981"/>
<rect x="962" y="892.2" width="5.5" height="5.5" fill="#fff" stroke="#089981" stroke-width="1.3"/>
<rect x="971.8" y="871.3" width="1.25" height="21.4" fill="#089981"/>
<rect x="969.7" y="872" width="5.5" height="18.9" fill="#fff" stroke="#089981" stroke-width="1.3"/>
<rect x="979.5" y="791.1" width="1.25" height="80.3" fill="#089981"/>
<rect x="977.3" y="820.1" width="5.5" height="50.7" fill="#fff" stroke="#089981" stroke-width="1.3"/>
<rect x="987.1" y="807" width="1.25" height="18.7" fill="#f23645"/>
<rect x="984.3" y="819.4" width="6.8" height="4.2" fill="#f23645"/>
<rect x="994.8" y="823" width="1.25" height="31.6" fill="#f23645"/>
<rect x="992" y="823" width="6.8" height="31.6" fill="#f23645"/>
<rect x="1002.4" y="826.5" width="1.25" height="27.7" fill="#089981"/>
<rect x="1000.3" y="827.2" width="5.5" height="26.4" fill="#fff" stroke="#089981" stroke-width="1.3"/>
<rect x="1010.1" y="803.2" width="1.25" height="31.6" fill="#089981"/>
<rect x="1008" y="819.1" width="5.5" height="6.8" fill="#fff" stroke="#089981" stroke-width="1.3"/>
<rect x="1017.7" y="810.1" width="1.25" height="8.3" fill="#089981"/>
<rect x="1015.6" y="812.8" width="5.5" height="4.9" fill="#fff" stroke="#089981" stroke-width="1.3"/>
<rect x="1025.4" y="745.4" width="1.25" height="66.8" fill="#089981"/>
<rect x="1023.3" y="746" width="5.5" height="65.5" fill="#fff" stroke="#089981" stroke-width="1.3"/>
<rect x="1033.1" y="727.3" width="1.25" height="18.1" fill="#089981"/>
<rect x="1030.9" y="734.2" width="5.5" height="10.6" fill="#fff" stroke="#089981" stroke-width="1.3"/>
<rect x="1040.7" y="733.5" width="1.25" height="35.4" fill="#f23645"/>
<rect x="1037.9" y="733.5" width="6.8" height="15" fill="#f23645"/>
<rect x="1048.4" y="737" width="1.25" height="21.8" fill="#f23645"/>
<rect x="1045.6" y="748.1" width="6.8" height="5.6" fill="#f23645"/>
<rect x="1056" y="736.6" width="1.25" height="16.6" fill="#089981"/>
<rect x="1053.9" y="737.3" width="5.5" height="15.3" fill="#fff" stroke="#089981" stroke-width="1.3"/>
<rect x="1063.7" y="671.5" width="1.25" height="64.7" fill="#089981"/>
<rect x="1061.5" y="672.2" width="5.5" height="63.4" fill="#fff" stroke="#089981" stroke-width="1.3"/>
<rect x="1071.3" y="589" width="1.25" height="82.5" fill="#089981"/>
<rect x="1069.2" y="613.9" width="5.5" height="56.9" fill="#fff" stroke="#089981" stroke-width="1.3"/>
<rect x="1079" y="534.4" width="1.25" height="71" fill="#089981"/>
<rect x="1076.8" y="535" width="5.5" height="69.7" fill="#fff" stroke="#089981" stroke-width="1.3"/>
<rect x="1086.6" y="491" width="1.25" height="117.5" fill="#f23645"/>
<rect x="1083.8" y="534.2" width="6.8" height="22.3" fill="#f23645"/>
<rect x="1094.3" y="545" width="1.25" height="98" fill="#f23645"/>
<rect x="1091.5" y="556" width="6.8" height="75" fill="#f23645"/>
<rect x="1101.9" y="578.3" width="1.25" height="35.1" fill="#089981"/>
<rect x="1099.8" y="584" width="5.5" height="28.7" fill="#fff" stroke="#089981" stroke-width="1.3"/>
<rect x="1109.6" y="541.4" width="1.25" height="46.3" fill="#089981"/>
<rect x="1107.5" y="542" width="5.5" height="40.7" fill="#fff" stroke="#089981" stroke-width="1.3"/>
<rect x="1117.2" y="520" width="1.25" height="27.3" fill="#089981"/>
<rect x="1115.1" y="528.9" width="5.5" height="17.7" fill="#fff" stroke="#089981" stroke-width="1.3"/>
<rect x="1124.9" y="528.3" width="1.25" height="35.5" fill="#f23645"/>
<rect x="1122.1" y="528.3" width="6.8" height="17.2" fill="#f23645"/>
<rect x="1132.6" y="534" width="1.25" height="55" fill="#f23645"/>
<rect x="1129.8" y="545.2" width="6.8" height="11.3" fill="#f23645"/>
<rect x="1140.2" y="556.2" width="1.25" height="27.6" fill="#f23645"/>
<rect x="1137.4" y="556.2" width="6.8" height="6.4" fill="#f23645"/>
<rect x="1147.9" y="534" width="1.25" height="28.3" fill="#089981"/>
<rect x="1145.7" y="541.2" width="5.5" height="20.4" fill="#fff" stroke="#089981" stroke-width="1.3"/>
<rect x="1155.5" y="518" width="1.25" height="22.6" fill="#089981"/>
<rect x="1153.4" y="524" width="5.5" height="15.9" fill="#fff" stroke="#089981" stroke-width="1.3"/>
<rect x="1163.2" y="498" width="1.25" height="25.4" fill="#089981"/>
<rect x="1161" y="502" width="5.5" height="20.7" fill="#fff" stroke="#089981" stroke-width="1.3"/>
<rect x="1170.8" y="436" width="1.25" height="65.4" fill="#089981"/>
<rect x="1168.7" y="455.2" width="5.5" height="45.5" fill="#fff" stroke="#089981" stroke-width="1.3"/>
<rect x="1178.5" y="437" width="1.25" height="81" fill="#f23645"/>
<rect x="1175.7" y="454.3" width="6.8" height="7.3" fill="#f23645"/>
<rect x="1186.1" y="447" width="1.25" height="18.5" fill="#089981"/>
<rect x="1184" y="451.2" width="5.5" height="13.6" fill="#fff" stroke="#089981" stroke-width="1.3"/>
<rect x="1193.8" y="388.3" width="1.25" height="62" fill="#089981"/>
<rect x="1191.7" y="393.1" width="5.5" height="56.5" fill="#fff" stroke="#089981" stroke-width="1.3"/>
<rect x="1201.4" y="261" width="1.25" height="131.5" fill="#089981"/>
<rect x="1199.3" y="285.9" width="5.5" height="105.9" fill="#fff" stroke="#089981" stroke-width="1.3"/>
<rect x="1209.1" y="218.3" width="1.25" height="67" fill="#089981"/>
<rect x="1207" y="228.7" width="5.5" height="56" fill="#fff" stroke="#089981" stroke-width="1.3"/>
<rect x="1216.7" y="220.8" width="1.25" height="140" fill="#f23645"/>
<rect x="1214" y="228" width="6.8" height="55.6" fill="#f23645"/>
<rect x="1224.4" y="245" width="1.25" height="153.7" fill="#f23645"/>
<rect x="1221.6" y="279" width="6.8" height="48.5" fill="#f23645"/>
<rect x="1232.1" y="316" width="1.25" height="92.5" fill="#f23645"/>
<rect x="1229.3" y="316" width="6.8" height="22.4" fill="#f23645"/>
<rect x="1239.7" y="316" width="1.25" height="75.8" fill="#f23645"/>
<rect x="1236.9" y="338" width="6.8" height="10.8" fill="#f23645"/>
<rect x="1247.4" y="125" width="1.25" height="229" fill="#089981"/>
<rect x="1245.2" y="283.8" width="5.5" height="63.9" fill="#fff" stroke="#089981" stroke-width="1.3"/>
<rect x="1255" y="277" width="1.25" height="27.7" fill="#f23645"/>
<rect x="1252.2" y="283.2" width="6.8" height="11.5" fill="#f23645"/>
<rect x="1262.7" y="271.8" width="1.25" height="22.5" fill="#089981"/>
<rect x="1260.5" y="283.8" width="5.5" height="9.8" fill="#fff" stroke="#089981" stroke-width="1.3"/>
<rect x="1270.3" y="277" width="1.25" height="43.7" fill="#f23645"/>
<rect x="1267.5" y="283.2" width="6.8" height="22.5" fill="#f23645"/>
<rect x="1278" y="271.8" width="1.25" height="33.7" fill="#089981"/>
<rect x="1275.8" y="289" width="5.5" height="15.8" fill="#fff" stroke="#089981" stroke-width="1.3"/>
<rect x="1285.6" y="283.2" width="1.25" height="10.4" fill="#089981"/>
<rect x="1282.9" y="288.2" width="6.8" height="1.3" fill="#089981"/>
<rect x="1293.3" y="277" width="1.25" height="21.8" fill="#f23645"/>
<rect x="1290.5" y="288.4" width="6.8" height="6.3" fill="#f23645"/>
<rect x="1300.9" y="288" width="1.25" height="256.6" fill="#f23645"/>
<rect x="1298.2" y="294" width="6.8" height="158.8" fill="#f23645"/>
<rect x="1308.6" y="409" width="1.25" height="98" fill="#089981"/>
<rect x="1306.5" y="425.9" width="5.5" height="31.9" fill="#fff" stroke="#089981" stroke-width="1.3"/>
<rect x="1316.2" y="409" width="1.25" height="82.7" fill="#f23645"/>
<rect x="1313.5" y="409" width="6.8" height="82.7" fill="#f23645"/>
<rect x="1323.9" y="491" width="1.25" height="65.5" fill="#f23645"/>
<rect x="1321.1" y="507.2" width="6.8" height="49.3" fill="#f23645"/>
<rect x="1331.6" y="518.6" width="1.25" height="37.9" fill="#089981"/>
<rect x="1329.4" y="519.2" width="5.5" height="36.6" fill="#fff" stroke="#089981" stroke-width="1.3"/>
<rect x="1339.2" y="485" width="1.25" height="43.6" fill="#089981"/>
<rect x="1337.1" y="501.9" width="5.5" height="16" fill="#fff" stroke="#089981" stroke-width="1.3"/>
<rect x="1346.9" y="501.3" width="1.25" height="22.1" fill="#f23645"/>
<rect x="1344.1" y="501.3" width="6.8" height="22.1" fill="#f23645"/>
<rect x="1354.5" y="523.4" width="1.25" height="81.6" fill="#f23645"/>
<rect x="1351.7" y="523.4" width="6.8" height="38.9" fill="#f23645"/>
<rect x="1362.2" y="540.4" width="1.25" height="21.9" fill="#089981"/>
<rect x="1360" y="541" width="5.5" height="20.6" fill="#fff" stroke="#089981" stroke-width="1.3"/>
<rect x="1369.8" y="540.4" width="1.25" height="5.2" fill="#f23645"/>
<rect x="1367" y="540.4" width="6.8" height="5.2" fill="#f23645"/>
<rect x="1377.5" y="545.4" width="1.25" height="55.4" fill="#f23645"/>
<rect x="1374.7" y="545.4" width="6.8" height="55.4" fill="#f23645"/>
<rect x="1385.1" y="600.2" width="1.25" height="22.4" fill="#f23645"/>
<rect x="1382.4" y="600.2" width="6.8" height="22.4" fill="#f23645"/>
<rect x="1392.8" y="605" width="1.25" height="11.8" fill="#089981"/>
<rect x="1390.7" y="612.2" width="5.5" height="3.9" fill="#fff" stroke="#089981" stroke-width="1.3"/>
<rect x="1400.4" y="583" width="1.25" height="32.8" fill="#089981"/>
<rect x="1398.3" y="601" width="5.5" height="9.9" fill="#fff" stroke="#089981" stroke-width="1.3"/>
<rect x="1408.1" y="540" width="1.25" height="60.4" fill="#089981"/>
<rect x="1406" y="552.1" width="5.5" height="47.6" fill="#fff" stroke="#089981" stroke-width="1.3"/>
<rect x="1415.8" y="551.5" width="1.25" height="48.3" fill="#f23645"/>
<rect x="1413" y="551.5" width="6.8" height="43" fill="#f23645"/>
<rect x="1423.4" y="556" width="1.25" height="93.7" fill="#f23645"/>
<rect x="1420.6" y="589" width="6.8" height="11.8" fill="#f23645"/>
<rect x="1431.1" y="529" width="1.25" height="135.7" fill="#089981"/>
<rect x="1428.9" y="545.9" width="5.5" height="53.9" fill="#fff" stroke="#089981" stroke-width="1.3"/>
<rect x="1438.7" y="427" width="1.25" height="117.6" fill="#089981"/>
<rect x="1436.6" y="495.9" width="5.5" height="42.4" fill="#fff" stroke="#089981" stroke-width="1.3"/>
<rect x="1446.4" y="427" width="1.25" height="117.6" fill="#089981"/>
<rect x="1444.2" y="473.8" width="5.5" height="20.8" fill="#fff" stroke="#089981" stroke-width="1.3"/>
<rect x="1454" y="473.2" width="1.25" height="49.6" fill="#f23645"/>
<rect x="1451.2" y="485.5" width="6.8" height="1.5" fill="#f23645"/>
<rect x="1461.7" y="420.8" width="1.25" height="90.9" fill="#089981"/>
<rect x="1458.9" y="482" width="6.8" height="2.5" fill="#089981"/>
<rect x="1469.3" y="447.2" width="1.25" height="49.6" fill="#089981"/>
<rect x="1467.2" y="469.9" width="5.5" height="13.7" fill="#fff" stroke="#089981" stroke-width="1.3"/>
<rect x="1477" y="405.2" width="1.25" height="74.5" fill="#089981"/>
<rect x="1474.9" y="418.9" width="5.5" height="49.7" fill="#fff" stroke="#089981" stroke-width="1.3"/>
<rect x="1484.6" y="410" width="1.25" height="65" fill="#f23645"/>
<rect x="1481.9" y="418.3" width="6.8" height="48.3" fill="#f23645"/>
<rect x="1492.3" y="403" width="1.25" height="63.6" fill="#089981"/>
<rect x="1490.2" y="408.3" width="5.5" height="57.6" fill="#fff" stroke="#089981" stroke-width="1.3"/>
<rect x="1499.9" y="370.2" width="1.25" height="54.5" fill="#089981"/>
<rect x="1497.8" y="400.4" width="5.5" height="4.3" fill="#fff" stroke="#089981" stroke-width="1.3"/>
<rect x="1507.6" y="370" width="1.25" height="78.7" fill="#089981"/>
<rect x="1505.5" y="372.9" width="5.5" height="26" fill="#fff" stroke="#089981" stroke-width="1.3"/>
<rect x="1515.3" y="250" width="1.25" height="151.5" fill="#f23645"/>
<rect x="1512.5" y="381" width="6.8" height="20.5" fill="#f23645"/>
<rect x="1522.9" y="286.9" width="1.25" height="101.5" fill="#089981"/>
<rect x="1520.8" y="328" width="5.5" height="59.7" fill="#fff" stroke="#089981" stroke-width="1.3"/>
<rect x="1530.6" y="268" width="1.25" height="59.4" fill="#089981"/>
<rect x="1528.4" y="277.1" width="5.5" height="49.6" fill="#fff" stroke="#089981" stroke-width="1.3"/>
<rect x="1538.2" y="263" width="1.25" height="52.6" fill="#f23645"/>
<rect x="1535.4" y="276" width="6.8" height="35.4" fill="#f23645"/>
<rect x="1545.9" y="204.3" width="1.25" height="113.4" fill="#089981"/>
<rect x="1543.7" y="214.2" width="5.5" height="96.1" fill="#fff" stroke="#089981" stroke-width="1.3"/>
<rect x="1553.5" y="152.3" width="1.25" height="156.7" fill="#f23645"/>
<rect x="1550.7" y="213.2" width="6.8" height="48.3" fill="#f23645"/>
<rect x="1561.2" y="178.3" width="1.25" height="83.2" fill="#089981"/>
<rect x="1559" y="190.3" width="5.5" height="70.5" fill="#fff" stroke="#089981" stroke-width="1.3"/>
<rect x="1568.8" y="142.9" width="1.25" height="62.8" fill="#f23645"/>
<rect x="1566.1" y="189" width="6.8" height="2.6" fill="#f23645"/>
<rect x="1576.5" y="138.7" width="1.25" height="102" fill="#f23645"/>
<rect x="1573.7" y="156" width="6.8" height="68.7" fill="#f23645"/>
<rect x="1584.1" y="164.7" width="1.25" height="74.3" fill="#089981"/>
<rect x="1582" y="205" width="5.5" height="18.9" fill="#fff" stroke="#089981" stroke-width="1.3"/>
<rect x="1591.8" y="185" width="1.25" height="77.5" fill="#f23645"/>
<rect x="1589" y="204.3" width="6.8" height="40.1" fill="#f23645"/>
<rect x="1599.4" y="237" width="1.25" height="132.7" fill="#f23645"/>
<rect x="1596.7" y="244.2" width="6.8" height="65.6" fill="#f23645"/>
<rect x="1607.1" y="259" width="1.25" height="165.8" fill="#f23645"/>
<rect x="1604.3" y="307.3" width="6.8" height="31.2" fill="#f23645"/>
<rect x="1614.8" y="292.3" width="1.25" height="106.5" fill="#089981"/>
<rect x="1612.6" y="332.2" width="5.5" height="5.6" fill="#fff" stroke="#089981" stroke-width="1.3"/>
<rect x="1622.4" y="318" width="1.25" height="91.8" fill="#f23645"/>
<rect x="1619.6" y="327" width="6.8" height="76.4" fill="#f23645"/>
<rect x="1630.1" y="369.7" width="1.25" height="88.1" fill="#f23645"/>
<rect x="1627.3" y="403" width="6.8" height="9.8" fill="#f23645"/>
<rect x="1637.7" y="381" width="1.25" height="65.6" fill="#f23645"/>
<rect x="1634.9" y="412.3" width="6.8" height="13.1" fill="#f23645"/>
<rect x="1645.4" y="399" width="1.25" height="57" fill="#089981"/>
<rect x="1643.2" y="417" width="5.5" height="7.7" fill="#fff" stroke="#089981" stroke-width="1.3"/>
<rect x="1653" y="410" width="1.25" height="83" fill="#f23645"/>
<rect x="1650.2" y="416.4" width="6.8" height="66.2" fill="#f23645"/>
<rect x="1660.7" y="477" width="1.25" height="216.6" fill="#f23645"/>
<rect x="1657.9" y="482.4" width="6.8" height="159.1" fill="#f23645"/>
<rect x="1668.3" y="580" width="1.25" height="101.7" fill="#f23645"/>
<rect x="1665.6" y="639" width="6.8" height="11" fill="#f23645"/>
<rect x="1676" y="464.3" width="1.25" height="185.7" fill="#089981"/>
<rect x="1673.9" y="533.1" width="5.5" height="116.2" fill="#fff" stroke="#089981" stroke-width="1.3"/>
<rect x="1683.6" y="523" width="1.25" height="78.6" fill="#f23645"/>
<rect x="1680.9" y="532.5" width="6.8" height="57" fill="#f23645"/>
<rect x="1691.3" y="493" width="1.25" height="108.6" fill="#089981"/>
<rect x="1689.2" y="557" width="5.5" height="31.8" fill="#fff" stroke="#089981" stroke-width="1.3"/>
<rect x="1699" y="493" width="1.25" height="69.7" fill="#089981"/>
<rect x="1696.8" y="523.6" width="5.5" height="32.1" fill="#fff" stroke="#089981" stroke-width="1.3"/>
<rect x="1706.6" y="480.3" width="1.25" height="75.5" fill="#089981"/>
<rect x="1703.8" y="511.4" width="6.8" height="1.3" fill="#089981"/>
<rect x="1714.3" y="488" width="1.25" height="43.5" fill="#f23645"/>
<rect x="1711.5" y="512" width="6.8" height="11.6" fill="#f23645"/>
<rect x="1721.9" y="493" width="1.25" height="80.5" fill="#089981"/>
<rect x="1719.8" y="516.4" width="5.5" height="6.6" fill="#fff" stroke="#089981" stroke-width="1.3"/>
<rect x="1729.6" y="493" width="1.25" height="34.7" fill="#f23645"/>
<rect x="1726.8" y="515.7" width="6.8" height="2.1" fill="#f23645"/>
<rect x="1737.2" y="510" width="1.25" height="56.6" fill="#f23645"/>
<rect x="1734.4" y="517.3" width="6.8" height="17.3" fill="#f23645"/>
<rect x="1744.9" y="469" width="1.25" height="86.8" fill="#089981"/>
<rect x="1742.7" y="513.1" width="5.5" height="20.8" fill="#fff" stroke="#089981" stroke-width="1.3"/>
<rect x="1752.5" y="458" width="1.25" height="64.5" fill="#089981"/>
<rect x="1750.4" y="474.2" width="5.5" height="37.1" fill="#fff" stroke="#089981" stroke-width="1.3"/>
<rect x="1760.2" y="458" width="1.25" height="62.4" fill="#f23645"/>
<rect x="1757.4" y="473.6" width="6.8" height="20.2" fill="#f23645"/>
<rect x="1767.8" y="480.3" width="1.25" height="40.1" fill="#f23645"/>
<rect x="1765.1" y="491.3" width="6.8" height="15.2" fill="#f23645"/>
<rect x="1775.5" y="471" width="1.25" height="53.6" fill="#089981"/>
<rect x="1773.4" y="496.1" width="5.5" height="9.5" fill="#fff" stroke="#089981" stroke-width="1.3"/>
<rect x="1783.1" y="488" width="1.25" height="50.5" fill="#f23645"/>
<rect x="1780.4" y="508.4" width="6.8" height="13.1" fill="#f23645"/>
<rect x="1790.8" y="458" width="1.25" height="115.5" fill="#089981"/>
<rect x="1788.7" y="470.1" width="5.5" height="61.7" fill="#fff" stroke="#089981" stroke-width="1.3"/>
<rect x="1798.5" y="403.3" width="1.25" height="87.7" fill="#089981"/>
<rect x="1796.3" y="429.9" width="5.5" height="38.9" fill="#fff" stroke="#089981" stroke-width="1.3"/>
<rect x="1806.1" y="409" width="1.25" height="102.5" fill="#f23645"/>
<rect x="1803.3" y="429.3" width="6.8" height="7.3" fill="#f23645"/>
<rect x="1813.8" y="419" width="1.25" height="92.5" fill="#f23645"/>
<rect x="1811.6" y="459" width="5.5" height="20.6" fill="#fff" stroke="#f23645" stroke-width="1.3"/>
<rect x="1821.4" y="409" width="1.25" height="75.7" fill="#089981"/>
<rect x="1818.6" y="430.4" width="6.8" height="22" fill="#089981"/>
<rect x="1829.1" y="424.7" width="1.25" height="104.1" fill="#f23645"/>
<rect x="1826.3" y="463.2" width="6.8" height="38.5" fill="#f23645"/>
<rect x="1836.7" y="474" width="1.25" height="125.5" fill="#f23645"/>
<rect x="1833.9" y="501.3" width="6.8" height="39.3" fill="#f23645"/>
<rect x="1844.4" y="485" width="1.25" height="86.4" fill="#089981"/>
<rect x="1842.2" y="519" width="5.5" height="25.7" fill="#fff" stroke="#089981" stroke-width="1.3"/>
<rect x="1852" y="480.3" width="1.25" height="81.3" fill="#f23645"/>
<rect x="1849.9" y="535.2" width="5.5" height="9.5" fill="#fff" stroke="#f23645" stroke-width="1.3"/>
<rect x="1859.7" y="518.4" width="1.25" height="48.2" fill="#089981"/>
<rect x="1857.6" y="519" width="5.5" height="14.9" fill="#fff" stroke="#089981" stroke-width="1.3"/>
<rect x="1867.3" y="507.3" width="1.25" height="64.1" fill="#089981"/>
<rect x="1865.2" y="519" width="5.5" height="9.7" fill="#fff" stroke="#089981" stroke-width="1.3"/>
<rect x="1875" y="381" width="1.25" height="153" fill="#089981"/>
<rect x="1872.9" y="404.1" width="5.5" height="107.2" fill="#fff" stroke="#089981" stroke-width="1.3"/>
<rect x="1882.6" y="277" width="1.25" height="141.5" fill="#089981"/>
<rect x="1880.5" y="328" width="5.5" height="69.7" fill="#fff" stroke="#089981" stroke-width="1.3"/>
<rect x="1890.3" y="310" width="1.25" height="87.5" fill="#f23645"/>
<rect x="1887.5" y="327.4" width="6.8" height="11.4" fill="#f23645"/>
<rect x="1898" y="215" width="1.25" height="144" fill="#089981"/>
<rect x="1895.8" y="250.7" width="5.5" height="87.5" fill="#fff" stroke="#089981" stroke-width="1.3"/>
<rect x="1905.6" y="195" width="1.25" height="78.5" fill="#089981"/>
<rect x="1903.5" y="200.7" width="5.5" height="49.3" fill="#fff" stroke="#089981" stroke-width="1.3"/>
<rect x="1913.3" y="152" width="1.25" height="83" fill="#f23645"/>
<rect x="1910.5" y="211" width="6.8" height="11.7" fill="#f23645"/>
<rect x="1920.9" y="121" width="1.25" height="94.7" fill="#089981"/>
<rect x="1918.8" y="131" width="5.5" height="84.1" fill="#fff" stroke="#089981" stroke-width="1.3"/>
</g>
<g fill-opacity="0.5">
<rect x="-2.9" y="1161.2" width="6.6" height="20.6" fill="#ef5350"/>
<rect x="4.7" y="1137.2" width="6.6" height="44.6" fill="#26a69a"/>
<rect x="12.4" y="1154.1" width="6.6" height="27.7" fill="#26a69a"/>
<rect x="20" y="1131.4" width="6.6" height="50.4" fill="#26a69a"/>
<rect x="27.7" y="1156.1" width="6.6" height="25.7" fill="#26a69a"/>
<rect x="35.4" y="1149.8" width="6.6" height="32" fill="#26a69a"/>
<rect x="43" y="1124.6" width="6.6" height="57.2" fill="#26a69a"/>
<rect x="50.7" y="1155.4" width="6.6" height="26.4" fill="#ef5350"/>
<rect x="58.3" y="943.9" width="6.6" height="237.9" fill="#26a69a"/>
<rect x="66" y="1096.9" width="6.6" height="84.9" fill="#26a69a"/>
<rect x="73.6" y="1096.1" width="6.6" height="85.7" fill="#ef5350"/>
<rect x="81.3" y="1066.7" width="6.6" height="115.1" fill="#26a69a"/>
<rect x="88.9" y="884.7" width="6.6" height="297.1" fill="#26a69a"/>
<rect x="96.6" y="1071.2" width="6.6" height="110.6" fill="#ef5350"/>
<rect x="104.2" y="1052" width="6.6" height="129.8" fill="#26a69a"/>
<rect x="111.9" y="1125.9" width="6.6" height="55.9" fill="#ef5350"/>
<rect x="119.5" y="1108.2" width="6.6" height="73.6" fill="#26a69a"/>
<rect x="127.2" y="1111.3" width="6.6" height="70.5" fill="#ef5350"/>
<rect x="134.9" y="1074.2" width="6.6" height="107.6" fill="#26a69a"/>
<rect x="142.5" y="981" width="6.6" height="200.8" fill="#26a69a"/>
<rect x="150.2" y="1033.9" width="6.6" height="147.9" fill="#ef5350"/>
<rect x="157.8" y="1139" width="6.6" height="42.8" fill="#ef5350"/>
<rect x="165.5" y="1155.4" width="6.6" height="26.4" fill="#ef5350"/>
<rect x="173.1" y="1165.4" width="6.6" height="16.4" fill="#ef5350"/>
<rect x="180.8" y="1125.9" width="6.6" height="55.9" fill="#26a69a"/>
<rect x="188.4" y="1123.4" width="6.6" height="58.4" fill="#26a69a"/>
<rect x="196.1" y="1152.3" width="6.6" height="29.5" fill="#26a69a"/>
<rect x="203.7" y="1114" width="6.6" height="67.8" fill="#26a69a"/>
<rect x="211.4" y="1140.2" width="6.6" height="41.6" fill="#26a69a"/>
<rect x="219" y="1147.3" width="6.6" height="34.5" fill="#26a69a"/>
<rect x="226.7" y="1125.1" width="6.6" height="56.7" fill="#ef5350"/>
<rect x="234.4" y="1163.2" width="6.6" height="18.6" fill="#26a69a"/>
<rect x="242" y="1138.5" width="6.6" height="43.3" fill="#26a69a"/>
<rect x="249.7" y="1108.2" width="6.6" height="73.6" fill="#26a69a"/>
<rect x="257.3" y="1093.1" width="6.6" height="88.7" fill="#26a69a"/>
<rect x="265" y="1096.1" width="6.6" height="85.7" fill="#ef5350"/>
<rect x="272.6" y="1121.3" width="6.6" height="60.5" fill="#26a69a"/>
<rect x="280.3" y="1120.1" width="6.6" height="61.7" fill="#ef5350"/>
<rect x="287.9" y="1118.1" width="6.6" height="63.7" fill="#26a69a"/>
<rect x="295.6" y="1156.1" width="6.6" height="25.7" fill="#ef5350"/>
<rect x="303.2" y="1140.2" width="6.6" height="41.6" fill="#ef5350"/>
<rect x="310.9" y="1138" width="6.6" height="43.8" fill="#ef5350"/>
<rect x="318.6" y="1099.4" width="6.6" height="82.4" fill="#26a69a"/>
<rect x="326.2" y="1142.3" width="6.6" height="39.5" fill="#26a69a"/>
<rect x="333.9" y="1153.1" width="6.6" height="28.7" fill="#ef5350"/>
<rect x="341.5" y="1133.4" width="6.6" height="48.4" fill="#26a69a"/>
<rect x="349.2" y="1141.5" width="6.6" height="40.3" fill="#ef5350"/>
<rect x="356.8" y="1140.2" width="6.6" height="41.6" fill="#ef5350"/>
<rect x="364.5" y="1160.4" width="6.6" height="21.4" fill="#26a69a"/>
<rect x="372.1" y="1098.2" width="6.6" height="83.6" fill="#ef5350"/>
<rect x="379.8" y="1123.4" width="6.6" height="58.4" fill="#ef5350"/>
<rect x="387.4" y="1167" width="6.6" height="14.8" fill="#ef5350"/>
<rect x="395.1" y="1160.4" width="6.6" height="21.4" fill="#26a69a"/>
<rect x="402.7" y="1176.3" width="6.6" height="5.5" fill="#ef5350"/>
<rect x="410.4" y="1170" width="6.6" height="11.8" fill="#ef5350"/>
<rect x="418.1" y="1163.2" width="6.6" height="18.6" fill="#26a69a"/>
<rect x="425.7" y="1167" width="6.6" height="14.8" fill="#26a69a"/>
<rect x="433.4" y="1163.2" width="6.6" height="18.6" fill="#26a69a"/>
<rect x="441" y="1155.4" width="6.6" height="26.4" fill="#26a69a"/>
<rect x="448.7" y="1155.4" width="6.6" height="26.4" fill="#26a69a"/>
<rect x="456.3" y="1161.2" width="6.6" height="20.6" fill="#ef5350"/>
<rect x="464" y="1156.1" width="6.6" height="25.7" fill="#ef5350"/>
<rect x="471.6" y="1169.2" width="6.6" height="12.6" fill="#ef5350"/>
<rect x="479.3" y="1159.4" width="6.6" height="22.4" fill="#ef5350"/>
<rect x="486.9" y="1134.2" width="6.6" height="47.6" fill="#26a69a"/>
<rect x="494.6" y="1145.3" width="6.6" height="36.5" fill="#26a69a"/>
<rect x="502.2" y="1145.3" width="6.6" height="36.5" fill="#ef5350"/>
<rect x="509.9" y="1094.4" width="6.6" height="87.4" fill="#26a69a"/>
<rect x="517.6" y="1083" width="6.6" height="98.8" fill="#ef5350"/>
<rect x="525.2" y="1111.3" width="6.6" height="70.5" fill="#ef5350"/>
<rect x="532.9" y="1140.2" width="6.6" height="41.6" fill="#26a69a"/>
<rect x="540.5" y="1157.4" width="6.6" height="24.4" fill="#ef5350"/>
<rect x="548.2" y="1155.4" width="6.6" height="26.4" fill="#ef5350"/>
<rect x="555.8" y="1151.1" width="6.6" height="30.7" fill="#26a69a"/>
<rect x="563.5" y="1150.3" width="6.6" height="31.5" fill="#26a69a"/>
<rect x="571.1" y="1156.1" width="6.6" height="25.7" fill="#26a69a"/>
<rect x="578.8" y="1144.3" width="6.6" height="37.5" fill="#26a69a"/>
<rect x="586.4" y="1146" width="6.6" height="35.8" fill="#ef5350"/>
<rect x="594.1" y="1132.9" width="6.6" height="48.9" fill="#ef5350"/>
<rect x="601.7" y="1146" width="6.6" height="35.8" fill="#ef5350"/>
<rect x="609.4" y="1169.5" width="6.6" height="12.3" fill="#26a69a"/>
<rect x="617.1" y="1161.9" width="6.6" height="19.9" fill="#ef5350"/>
<rect x="624.7" y="1164.9" width="6.6" height="16.9" fill="#26a69a"/>
<rect x="632.4" y="1169.2" width="6.6" height="12.6" fill="#ef5350"/>
<rect x="640" y="1156.9" width="6.6" height="24.9" fill="#ef5350"/>
<rect x="647.7" y="1151.1" width="6.6" height="30.7" fill="#ef5350"/>
<rect x="655.3" y="1162.9" width="6.6" height="18.9" fill="#ef5350"/>
<rect x="663" y="1161.2" width="6.6" height="20.6" fill="#26a69a"/>
<rect x="670.6" y="1161.2" width="6.6" height="20.6" fill="#ef5350"/>
<rect x="678.3" y="1162.4" width="6.6" height="19.4" fill="#ef5350"/>
<rect x="685.9" y="1149.1" width="6.6" height="32.7" fill="#26a69a"/>
<rect x="693.6" y="1164.2" width="6.6" height="17.6" fill="#ef5350"/>
<rect x="701.2" y="1168" width="6.6" height="13.8" fill="#ef5350"/>
<rect x="708.9" y="1154.9" width="6.6" height="26.9" fill="#ef5350"/>
<rect x="716.6" y="1170" width="6.6" height="11.8" fill="#ef5350"/>
<rect x="724.2" y="1169.2" width="6.6" height="12.6" fill="#26a69a"/>
<rect x="731.9" y="1169.2" width="6.6" height="12.6" fill="#ef5350"/>
<rect x="739.5" y="1149.1" width="6.6" height="32.7" fill="#26a69a"/>
<rect x="747.2" y="1152.8" width="6.6" height="29" fill="#ef5350"/>
<rect x="754.8" y="1152.8" width="6.6" height="29" fill="#ef5350"/>
<rect x="762.5" y="1154.1" width="6.6" height="27.7" fill="#26a69a"/>
<rect x="770.1" y="1149.1" width="6.6" height="32.7" fill="#26a69a"/>
<rect x="777.8" y="1152.3" width="6.6" height="29.5" fill="#ef5350"/>
<rect x="785.4" y="1159.9" width="6.6" height="21.9" fill="#26a69a"/>
<rect x="793.1" y="1159.1" width="6.6" height="22.7" fill="#ef5350"/>
<rect x="800.8" y="1127.9" width="6.6" height="53.9" fill="#26a69a"/>
<rect x="808.4" y="1154.1" width="6.6" height="27.7" fill="#ef5350"/>
<rect x="816.1" y="1106.2" width="6.6" height="75.6" fill="#ef5350"/>
<rect x="823.7" y="1038.2" width="6.6" height="143.6" fill="#26a69a"/>
<rect x="831.4" y="1141" width="6.6" height="40.8" fill="#26a69a"/>
<rect x="839" y="1143" width="6.6" height="38.8" fill="#26a69a"/>
<rect x="846.7" y="1154.1" width="6.6" height="27.7" fill="#26a69a"/>
<rect x="854.3" y="1142.3" width="6.6" height="39.5" fill="#ef5350"/>
<rect x="862" y="1156.9" width="6.6" height="24.9" fill="#ef5350"/>
<rect x="869.6" y="1167" width="6.6" height="14.8" fill="#ef5350"/>
<rect x="877.3" y="1110" width="6.6" height="71.8" fill="#26a69a"/>
<rect x="884.9" y="1132.2" width="6.6" height="49.6" fill="#26a69a"/>
<rect x="892.6" y="1115" width="6.6" height="66.8" fill="#26a69a"/>
<rect x="900.3" y="1119.1" width="6.6" height="62.7" fill="#ef5350"/>
<rect x="907.9" y="1151.1" width="6.6" height="30.7" fill="#ef5350"/>
<rect x="915.6" y="1073" width="6.6" height="108.8" fill="#26a69a"/>
<rect x="923.2" y="1136" width="6.6" height="45.8" fill="#26a69a"/>
<rect x="930.9" y="1117.8" width="6.6" height="64" fill="#26a69a"/>
<rect x="938.5" y="1153.1" width="6.6" height="28.7" fill="#26a69a"/>
<rect x="946.2" y="1146.8" width="6.6" height="35" fill="#26a69a"/>
<rect x="953.8" y="1103.2" width="6.6" height="78.6" fill="#ef5350"/>
<rect x="961.5" y="1180.5" width="6.6" height="1.3" fill="#26a69a"/>
<rect x="969.1" y="1180.5" width="6.6" height="1.3" fill="#26a69a"/>
<rect x="976.8" y="1180.5" width="6.6" height="1.3" fill="#26a69a"/>
<rect x="984.4" y="1180.5" width="6.6" height="1.3" fill="#ef5350"/>
<rect x="992.1" y="1180.5" width="6.6" height="1.3" fill="#ef5350"/>
<rect x="999.8" y="1180.5" width="6.6" height="1.3" fill="#26a69a"/>
<rect x="1007.4" y="1180.5" width="6.6" height="1.3" fill="#26a69a"/>
<rect x="1015.1" y="1180.5" width="6.6" height="1.3" fill="#26a69a"/>
<rect x="1022.7" y="1180.5" width="6.6" height="1.3" fill="#26a69a"/>
<rect x="1030.4" y="1180.5" width="6.6" height="1.3" fill="#26a69a"/>
<rect x="1038" y="1180.5" width="6.6" height="1.3" fill="#ef5350"/>
<rect x="1045.7" y="1180.5" width="6.6" height="1.3" fill="#ef5350"/>
<rect x="1053.3" y="1180.5" width="6.6" height="1.3" fill="#26a69a"/>
<rect x="1061" y="1180.5" width="6.6" height="1.3" fill="#26a69a"/>
<rect x="1068.6" y="1180.5" width="6.6" height="1.3" fill="#26a69a"/>
<rect x="1076.3" y="1180.5" width="6.6" height="1.3" fill="#26a69a"/>
<rect x="1084" y="1180.5" width="6.6" height="1.3" fill="#ef5350"/>
<rect x="1091.6" y="1180.5" width="6.6" height="1.3" fill="#ef5350"/>
<rect x="1099.3" y="1180.5" width="6.6" height="1.3" fill="#26a69a"/>
<rect x="1106.9" y="1180.5" width="6.6" height="1.3" fill="#26a69a"/>
<rect x="1114.6" y="1180.5" width="6.6" height="1.3" fill="#26a69a"/>
<rect x="1122.2" y="1180.5" width="6.6" height="1.3" fill="#ef5350"/>
<rect x="1129.9" y="1180.5" width="6.6" height="1.3" fill="#ef5350"/>
<rect x="1137.5" y="1180.5" width="6.6" height="1.3" fill="#ef5350"/>
<rect x="1145.2" y="1180.5" width="6.6" height="1.3" fill="#26a69a"/>
<rect x="1152.8" y="1180.5" width="6.6" height="1.3" fill="#26a69a"/>
<rect x="1160.5" y="1180.5" width="6.6" height="1.3" fill="#26a69a"/>
<rect x="1168.1" y="1180.5" width="6.6" height="1.3" fill="#26a69a"/>
<rect x="1175.8" y="1180.5" width="6.6" height="1.3" fill="#ef5350"/>
<rect x="1183.5" y="1180.5" width="6.6" height="1.3" fill="#26a69a"/>
<rect x="1191.1" y="1180.5" width="6.6" height="1.3" fill="#26a69a"/>
<rect x="1198.8" y="1180.5" width="6.6" height="1.3" fill="#26a69a"/>
<rect x="1206.4" y="1180.5" width="6.6" height="1.3" fill="#26a69a"/>
<rect x="1214.1" y="1180.5" width="6.6" height="1.3" fill="#ef5350"/>
<rect x="1221.7" y="1180.5" width="6.6" height="1.3" fill="#ef5350"/>
<rect x="1229.4" y="1180.5" width="6.6" height="1.3" fill="#ef5350"/>
<rect x="1237" y="1180.5" width="6.6" height="1.3" fill="#ef5350"/>
<rect x="1244.7" y="1180.5" width="6.6" height="1.3" fill="#26a69a"/>
<rect x="1252.3" y="1180.5" width="6.6" height="1.3" fill="#ef5350"/>
<rect x="1260" y="1180.5" width="6.6" height="1.3" fill="#26a69a"/>
<rect x="1267.6" y="1180.5" width="6.6" height="1.3" fill="#ef5350"/>
<rect x="1275.3" y="1180.5" width="6.6" height="1.3" fill="#26a69a"/>
<rect x="1283" y="1180.5" width="6.6" height="1.3" fill="#26a69a"/>
<rect x="1290.6" y="1180.5" width="6.6" height="1.3" fill="#ef5350"/>
<rect x="1298.3" y="1180.5" width="6.6" height="1.3" fill="#ef5350"/>
<rect x="1305.9" y="1180.5" width="6.6" height="1.3" fill="#26a69a"/>
<rect x="1313.6" y="1180.5" width="6.6" height="1.3" fill="#ef5350"/>
<rect x="1321.2" y="1180.5" width="6.6" height="1.3" fill="#ef5350"/>
<rect x="1328.9" y="1180.5" width="6.6" height="1.3" fill="#26a69a"/>
<rect x="1336.5" y="1180.5" width="6.6" height="1.3" fill="#26a69a"/>
<rect x="1344.2" y="1180.5" width="6.6" height="1.3" fill="#ef5350"/>
<rect x="1351.8" y="1180.5" width="6.6" height="1.3" fill="#ef5350"/>
<rect x="1359.5" y="1180.5" width="6.6" height="1.3" fill="#26a69a"/>
<rect x="1367.1" y="1180.5" width="6.6" height="1.3" fill="#ef5350"/>
<rect x="1374.8" y="1180.5" width="6.6" height="1.3" fill="#ef5350"/>
<rect x="1382.5" y="1180.5" width="6.6" height="1.3" fill="#ef5350"/>
<rect x="1390.1" y="1180.5" width="6.6" height="1.3" fill="#26a69a"/>
<rect x="1397.8" y="1180.5" width="6.6" height="1.3" fill="#26a69a"/>
<rect x="1405.4" y="1180.5" width="6.6" height="1.3" fill="#26a69a"/>
<rect x="1413.1" y="1180.5" width="6.6" height="1.3" fill="#ef5350"/>
<rect x="1420.7" y="1180.5" width="6.6" height="1.3" fill="#ef5350"/>
<rect x="1428.4" y="1180.5" width="6.6" height="1.3" fill="#26a69a"/>
<rect x="1436" y="1180.5" width="6.6" height="1.3" fill="#26a69a"/>
<rect x="1443.7" y="1180.5" width="6.6" height="1.3" fill="#26a69a"/>
<rect x="1451.3" y="1180.5" width="6.6" height="1.3" fill="#ef5350"/>
<rect x="1459" y="1180.5" width="6.6" height="1.3" fill="#26a69a"/>
<rect x="1466.7" y="1180.5" width="6.6" height="1.3" fill="#26a69a"/>
<rect x="1474.3" y="1180.5" width="6.6" height="1.3" fill="#26a69a"/>
<rect x="1482" y="1180.5" width="6.6" height="1.3" fill="#ef5350"/>
<rect x="1489.6" y="1180.5" width="6.6" height="1.3" fill="#26a69a"/>
<rect x="1497.3" y="1180.5" width="6.6" height="1.3" fill="#26a69a"/>
<rect x="1504.9" y="1180.5" width="6.6" height="1.3" fill="#26a69a"/>
<rect x="1512.6" y="1180.5" width="6.6" height="1.3" fill="#ef5350"/>
<rect x="1520.2" y="1180.5" width="6.6" height="1.3" fill="#26a69a"/>
<rect x="1527.9" y="1180.5" width="6.6" height="1.3" fill="#26a69a"/>
<rect x="1535.5" y="1180.5" width="6.6" height="1.3" fill="#ef5350"/>
<rect x="1543.2" y="1180.5" width="6.6" height="1.3" fill="#26a69a"/>
<rect x="1550.8" y="1180.5" width="6.6" height="1.3" fill="#ef5350"/>
<rect x="1558.5" y="1180.5" width="6.6" height="1.3" fill="#26a69a"/>
<rect x="1566.2" y="1180.5" width="6.6" height="1.3" fill="#ef5350"/>
<rect x="1573.8" y="1180.5" width="6.6" height="1.3" fill="#ef5350"/>
<rect x="1581.5" y="1180.5" width="6.6" height="1.3" fill="#26a69a"/>
<rect x="1589.1" y="1180.5" width="6.6" height="1.3" fill="#ef5350"/>
<rect x="1596.8" y="1180.5" width="6.6" height="1.3" fill="#ef5350"/>
<rect x="1604.4" y="1180.5" width="6.6" height="1.3" fill="#ef5350"/>
<rect x="1612.1" y="1180.5" width="6.6" height="1.3" fill="#26a69a"/>
<rect x="1619.7" y="1180.5" width="6.6" height="1.3" fill="#ef5350"/>
<rect x="1627.4" y="1180.5" width="6.6" height="1.3" fill="#ef5350"/>
<rect x="1635" y="1180.5" width="6.6" height="1.3" fill="#ef5350"/>
<rect x="1642.7" y="1180.5" width="6.6" height="1.3" fill="#26a69a"/>
<rect x="1650.3" y="1180.5" width="6.6" height="1.3" fill="#ef5350"/>
<rect x="1658" y="1180.5" width="6.6" height="1.3" fill="#ef5350"/>
<rect x="1665.7" y="1180.5" width="6.6" height="1.3" fill="#ef5350"/>
<rect x="1673.3" y="1180.5" width="6.6" height="1.3" fill="#26a69a"/>
<rect x="1681" y="1180.5" width="6.6" height="1.3" fill="#ef5350"/>
<rect x="1688.6" y="1180.5" width="6.6" height="1.3" fill="#26a69a"/>
<rect x="1696.3" y="1180.5" width="6.6" height="1.3" fill="#26a69a"/>
<rect x="1703.9" y="1180.5" width="6.6" height="1.3" fill="#26a69a"/>
<rect x="1711.6" y="1180.5" width="6.6" height="1.3" fill="#ef5350"/>
<rect x="1719.2" y="1180.5" width="6.6" height="1.3" fill="#26a69a"/>
<rect x="1726.9" y="1180.5" width="6.6" height="1.3" fill="#ef5350"/>
<rect x="1734.5" y="1180.5" width="6.6" height="1.3" fill="#ef5350"/>
<rect x="1742.2" y="1180.5" width="6.6" height="1.3" fill="#26a69a"/>
<rect x="1749.8" y="1179" width="6.6" height="2.8" fill="#26a69a"/>
<rect x="1757.5" y="1179" width="6.6" height="2.8" fill="#ef5350"/>
<rect x="1765.2" y="1179" width="6.6" height="2.8" fill="#ef5350"/>
<rect x="1772.8" y="1179" width="6.6" height="2.8" fill="#26a69a"/>
<rect x="1780.5" y="1179" width="6.6" height="2.8" fill="#ef5350"/>
<rect x="1788.1" y="1179" width="6.6" height="2.8" fill="#26a69a"/>
<rect x="1795.8" y="1179" width="6.6" height="2.8" fill="#26a69a"/>
<rect x="1803.4" y="1179" width="6.6" height="2.8" fill="#ef5350"/>
<rect x="1811.1" y="1179" width="6.6" height="2.8" fill="#ef5350"/>
<rect x="1818.7" y="1179" width="6.6" height="2.8" fill="#26a69a"/>
<rect x="1826.4" y="1178.6" width="6.6" height="3.2" fill="#ef5350"/>
<rect x="1834" y="1178.6" width="6.6" height="3.2" fill="#ef5350"/>
<rect x="1841.7" y="1178.6" width="6.6" height="3.2" fill="#26a69a"/>
<rect x="1849.4" y="1177.3" width="6.6" height="4.5" fill="#ef5350"/>
<rect x="1857" y="1178" width="6.6" height="3.8" fill="#26a69a"/>
<rect x="1864.7" y="1178" width="6.6" height="3.8" fill="#26a69a"/>
<rect x="1872.3" y="1174.2" width="6.6" height="7.6" fill="#26a69a"/>
<rect x="1880" y="1177.3" width="6.6" height="4.5" fill="#26a69a"/>
<rect x="1887.6" y="1178.6" width="6.6" height="3.2" fill="#ef5350"/>
<rect x="1895.3" y="1173.2" width="6.6" height="8.6" fill="#26a69a"/>
<rect x="1902.9" y="1176.8" width="6.6" height="5" fill="#26a69a"/>
<rect x="1910.6" y="1178.8" width="6.6" height="3" fill="#ef5350"/>
<rect x="1918.2" y="1180.2" width="6.6" height="1.6" fill="#26a69a"/>
</g>
<path d="M0 1138 L15.1 1136 L22.2 1134.2 L30.7 1146.8 L38.3 1149.3 L46.1 1146.5 L52.9 1146.8 L61.5 1124.6 L69.1 1119.6 L76.6 1112 L84.4 1103.2 L92 1079.8 L99.8 1073.7 L107.4 1062.9 L114.9 1060.9 L122.7 1059.6 L130.3 1055.3 L137.9 1067.9 L145.7 1056.6 L153.2 1049.5 L161 1057.8 L168.6 1083.8 L176.2 1094.4 L184 1100.7 L191.5 1100.7 L199.1 1105 L206.9 1105 L214.5 1111.5 L222.3 1127.1 L229.8 1138.5 L237.4 1141 L245.2 1139.2 L252.8 1134.2 L260.6 1130.2 L268.1 1127.1 L275.7 1124.6 L283.5 1125.1 L291.1 1122.9 L298.9 1123.9 L306.5 1125.1 L314.3 1122.6 L321.8 1118.8 L329.4 1122.9 L337.2 1128.4 L344.8 1131.7 L352.3 1133.4 L360.1 1136 L367.7 1139.7 L375.5 1133.4 L383.1 1132.7 L390.6 1136 L398.4 1141.8 L406 1145.3 L413.8 1147.3 L421.4 1149.3 L428.9 1151.8 L436.7 1154.1 L444.3 1154.1 L451.9 1159.9 L459.7 1163.7 L467.2 1162.4 L474.8 1163.2 L482.6 1161.2 L490.2 1158.6 L497.7 1156.9 L505.5 1154.4 L513.1 1146 L520.9 1139.2 L528.5 1136 L536 1133.4 L540 1133.4 L547.6 1132.2 L557.6 1131.4 L574.3 1133.4 L582.1 1133.4 L589.6 1139 L597.5 1143.5 L605 1146.8 L612.6 1150.6 L620.4 1151.1 L628 1152.3 L635.5 1153.6 L643.3 1154.1 L650.9 1153.6 L658.4 1155.6 L666.3 1157.4 L673.8 1159.9 L681.6 1161.2 L689.2 1159.4 L696.8 1159.4 L704.6 1159.9 L712.1 1158.6 L719.7 1159.9 L727.5 1161.7 L735.1 1162.4 L742.9 1161.2 L750.4 1160.4 L758.2 1159.9 L765.8 1159.9 L773.4 1158.1 L781.2 1156.9 L788.7 1157.4 L796.3 1156.1 L804.1 1152.3 L811.7 1151.1 L819.2 1146 L827 1134.7 L834.6 1133.4 L842.4 1132.7 L850 1132.9 L857.5 1132.2 L865.4 1132.2 L872.9 1132.7 L880.7 1130.9 L888.3 1128.9 L895.8 1129.7 L903.7 1137.7 L909.2 1139 L918.8 1131.7 L926.6 1129.7 L934.2 1127.9 L942 1127.6 L949.5 1125.1 L957.1 1124.6 L964.9 1130.4 L972.5 1137.2 L980 1142.3 L987.8 1144.8 L995.4 1156.1 L1003 1161.2 L1010.8 1167 L1018.3 1170 L1025.9 1173 L1033.4 1180.6 L1500 1180.4 L1784 1180 L1830 1179.6 L1870 1179 L1895 1178 L1910 1176.5" stroke="#2962ff" stroke-width="2" fill="none" stroke-linejoin="round"/>
<rect x="0" y="136.1" width="2222" height="2.9" fill="#2962ff"/>
<path d="M0 130.5H2222" stroke="#26a69a" stroke-width="1.1" stroke-dasharray="1.2 2.6" fill="none"/>
<path d="M1904.5 147.4L1929.1 148.9" stroke="#2962ff" stroke-width="2.6" stroke-linecap="round" fill="none"/>
<text x="277" y="900.3" font-size="38" fill="#000" stroke="#000" stroke-width="0.55" textLength="19.5" lengthAdjust="spacingAndGlyphs" >1</text>
<text x="856.5" y="1073" font-size="38" fill="#000" stroke="#000" stroke-width="0.55" textLength="19.5" lengthAdjust="spacingAndGlyphs" >2</text>
<text x="1179.5" y="220.5" font-size="38" fill="#000" stroke="#000" stroke-width="0.55" textLength="19.5" lengthAdjust="spacingAndGlyphs" >3</text>
<text x="1384" y="679.3" font-size="38" fill="#000" stroke="#000" stroke-width="0.55" textLength="19.5" lengthAdjust="spacingAndGlyphs" >4</text>
<text x="1615.5" y="165.4" font-size="38" fill="#000" stroke="#000" stroke-width="0.55" textLength="19.5" lengthAdjust="spacingAndGlyphs" >5</text>
<text x="1683" y="696.3" font-size="38" fill="#000" stroke="#000" stroke-width="0.55" textLength="19.5" lengthAdjust="spacingAndGlyphs" >a</text>
<text x="1944.5" y="132" font-size="38" fill="#000" stroke="#000" stroke-width="0.55" textLength="19.5" lengthAdjust="spacingAndGlyphs" >b</text>
<g transform="translate(1874.4 184)"><circle r="10.9" fill="#ababab"/><path d="M-13.1 -8.55L-7.1 -14.2M13 -8.55L7.1 -14.2" stroke="#ababab" stroke-width="1.6" fill="none"/><path d="M-0.2 -5.95H2.5V2H-4.2V-0.4H-0.2Z" fill="#fff"/></g>
<g transform="translate(1921.5 1159.2)"><circle r="18.1" fill="#fff" stroke="#9a1fb0" stroke-width="2.4"/><path d="M4.8 -9.8L-8.65 1.2L0.1 0.85L-5.95 10.1L8.2 -1L-0.75 -0.7Z" fill="#9a1fb0"/></g>
<g>
<g fill="#00ff00"><circle cx="23.3" cy="1233.6" r="5.35"/><circle cx="31" cy="1233.6" r="5.35"/><circle cx="38.7" cy="1233.6" r="5.35"/><circle cx="46.3" cy="1233.6" r="5.35"/><circle cx="54" cy="1233.6" r="5.35"/><circle cx="61.6" cy="1233.6" r="5.35"/><circle cx="122.8" cy="1233.6" r="5.35"/><circle cx="130.5" cy="1233.6" r="5.35"/><circle cx="138.2" cy="1233.6" r="5.35"/><circle cx="153.5" cy="1233.6" r="5.35"/><circle cx="184.1" cy="1233.6" r="5.35"/><circle cx="191.7" cy="1233.6" r="5.35"/><circle cx="199.4" cy="1233.6" r="5.35"/><circle cx="207" cy="1233.6" r="5.35"/><circle cx="214.7" cy="1233.6" r="5.35"/><circle cx="222.3" cy="1233.6" r="5.35"/><circle cx="230" cy="1233.6" r="5.35"/><circle cx="237.7" cy="1233.6" r="5.35"/><circle cx="245.3" cy="1233.6" r="5.35"/><circle cx="298.9" cy="1233.6" r="5.35"/><circle cx="513.2" cy="1233.6" r="5.35"/><circle cx="520.9" cy="1233.6" r="5.35"/><circle cx="528.5" cy="1233.6" r="5.35"/><circle cx="536.2" cy="1233.6" r="5.35"/><circle cx="543.8" cy="1233.6" r="5.35"/><circle cx="566.8" cy="1233.6" r="5.35"/><circle cx="574.4" cy="1233.6" r="5.35"/><circle cx="582.1" cy="1233.6" r="5.35"/><circle cx="589.7" cy="1233.6" r="5.35"/><circle cx="597.4" cy="1233.6" r="5.35"/><circle cx="834.7" cy="1233.6" r="5.35"/><circle cx="842.3" cy="1233.6" r="5.35"/><circle cx="850" cy="1233.6" r="5.35"/><circle cx="857.6" cy="1233.6" r="5.35"/><circle cx="865.3" cy="1233.6" r="5.35"/><circle cx="872.9" cy="1233.6" r="5.35"/><circle cx="995.4" cy="1233.6" r="5.35"/><circle cx="1003.1" cy="1233.6" r="5.35"/><circle cx="1018.4" cy="1233.6" r="5.35"/><circle cx="1049" cy="1233.6" r="5.35"/><circle cx="1056.6" cy="1233.6" r="5.35"/><circle cx="1125.5" cy="1233.6" r="5.35"/><circle cx="1133.2" cy="1233.6" r="5.35"/><circle cx="1140.8" cy="1233.6" r="5.35"/><circle cx="1148.5" cy="1233.6" r="5.35"/><circle cx="1156.1" cy="1233.6" r="5.35"/><circle cx="1163.8" cy="1233.6" r="5.35"/><circle cx="1171.4" cy="1233.6" r="5.35"/><circle cx="1179.1" cy="1233.6" r="5.35"/><circle cx="1186.8" cy="1233.6" r="5.35"/><circle cx="1194.4" cy="1233.6" r="5.35"/><circle cx="1225" cy="1233.6" r="5.35"/><circle cx="1232.7" cy="1233.6" r="5.35"/><circle cx="1240.3" cy="1233.6" r="5.35"/><circle cx="1248" cy="1233.6" r="5.35"/><circle cx="1255.6" cy="1233.6" r="5.35"/><circle cx="1263.3" cy="1233.6" r="5.35"/><circle cx="1278.6" cy="1233.6" r="5.35"/><circle cx="1462.3" cy="1233.6" r="5.35"/><circle cx="1470" cy="1233.6" r="5.35"/><circle cx="1477.6" cy="1233.6" r="5.35"/><circle cx="1485.3" cy="1233.6" r="5.35"/><circle cx="1492.9" cy="1233.6" r="5.35"/><circle cx="1500.6" cy="1233.6" r="5.35"/><circle cx="1508.2" cy="1233.6" r="5.35"/><circle cx="1515.9" cy="1233.6" r="5.35"/><circle cx="1523.5" cy="1233.6" r="5.35"/><circle cx="1531.2" cy="1233.6" r="5.35"/><circle cx="1538.8" cy="1233.6" r="5.35"/><circle cx="1584.8" cy="1233.6" r="5.35"/><circle cx="1592.4" cy="1233.6" r="5.35"/><circle cx="1799.1" cy="1233.6" r="5.35"/><circle cx="1806.7" cy="1233.6" r="5.35"/><circle cx="1814.4" cy="1233.6" r="5.35"/><circle cx="1822" cy="1233.6" r="5.35"/><circle cx="1875.6" cy="1233.6" r="5.35"/></g>
<g fill="#ff0000"><circle cx="375.4" cy="1233.6" r="5.35"/><circle cx="383.1" cy="1233.6" r="5.35"/><circle cx="390.7" cy="1233.6" r="5.35"/><circle cx="398.4" cy="1233.6" r="5.35"/><circle cx="406" cy="1233.6" r="5.35"/><circle cx="413.7" cy="1233.6" r="5.35"/><circle cx="421.4" cy="1233.6" r="5.35"/><circle cx="429" cy="1233.6" r="5.35"/><circle cx="651" cy="1233.6" r="5.35"/><circle cx="658.6" cy="1233.6" r="5.35"/><circle cx="666.3" cy="1233.6" r="5.35"/><circle cx="673.9" cy="1233.6" r="5.35"/><circle cx="681.6" cy="1233.6" r="5.35"/><circle cx="696.9" cy="1233.6" r="5.35"/><circle cx="704.5" cy="1233.6" r="5.35"/><circle cx="712.2" cy="1233.6" r="5.35"/><circle cx="719.9" cy="1233.6" r="5.35"/><circle cx="727.5" cy="1233.6" r="5.35"/><circle cx="735.2" cy="1233.6" r="5.35"/><circle cx="742.8" cy="1233.6" r="5.35"/><circle cx="750.5" cy="1233.6" r="5.35"/><circle cx="773.4" cy="1233.6" r="5.35"/><circle cx="781.1" cy="1233.6" r="5.35"/><circle cx="788.7" cy="1233.6" r="5.35"/><circle cx="819.4" cy="1233.6" r="5.35"/><circle cx="1309.2" cy="1233.6" r="5.35"/><circle cx="1316.9" cy="1233.6" r="5.35"/><circle cx="1324.5" cy="1233.6" r="5.35"/><circle cx="1332.2" cy="1233.6" r="5.35"/><circle cx="1339.8" cy="1233.6" r="5.35"/><circle cx="1347.5" cy="1233.6" r="5.35"/><circle cx="1355.1" cy="1233.6" r="5.35"/><circle cx="1362.8" cy="1233.6" r="5.35"/><circle cx="1370.4" cy="1233.6" r="5.35"/><circle cx="1378.1" cy="1233.6" r="5.35"/><circle cx="1385.8" cy="1233.6" r="5.35"/><circle cx="1393.4" cy="1233.6" r="5.35"/><circle cx="1401.1" cy="1233.6" r="5.35"/><circle cx="1424" cy="1233.6" r="5.35"/><circle cx="1630.7" cy="1233.6" r="5.35"/><circle cx="1638.3" cy="1233.6" r="5.35"/><circle cx="1646" cy="1233.6" r="5.35"/><circle cx="1653.6" cy="1233.6" r="5.35"/><circle cx="1661.3" cy="1233.6" r="5.35"/><circle cx="1676.6" cy="1233.6" r="5.35"/><circle cx="1684.3" cy="1233.6" r="5.35"/><circle cx="1691.9" cy="1233.6" r="5.35"/><circle cx="1699.6" cy="1233.6" r="5.35"/><circle cx="1837.3" cy="1233.6" r="5.35"/><circle cx="1852.7" cy="1233.6" r="5.35"/><circle cx="1860.3" cy="1233.6" r="5.35"/><circle cx="1868" cy="1233.6" r="5.35"/></g>
<g fill="#000000"><circle cx="161.1" cy="1233.6" r="5.35"/><circle cx="168.8" cy="1233.6" r="5.35"/><circle cx="176.4" cy="1233.6" r="5.35"/><circle cx="306.5" cy="1233.6" r="5.35"/><circle cx="314.2" cy="1233.6" r="5.35"/><circle cx="321.9" cy="1233.6" r="5.35"/><circle cx="329.5" cy="1233.6" r="5.35"/><circle cx="337.2" cy="1233.6" r="5.35"/><circle cx="344.8" cy="1233.6" r="5.35"/><circle cx="352.5" cy="1233.6" r="5.35"/><circle cx="360.1" cy="1233.6" r="5.35"/><circle cx="367.8" cy="1233.6" r="5.35"/><circle cx="436.7" cy="1233.6" r="5.35"/><circle cx="444.3" cy="1233.6" r="5.35"/><circle cx="452" cy="1233.6" r="5.35"/><circle cx="459.6" cy="1233.6" r="5.35"/><circle cx="467.3" cy="1233.6" r="5.35"/><circle cx="474.9" cy="1233.6" r="5.35"/><circle cx="482.6" cy="1233.6" r="5.35"/><circle cx="490.2" cy="1233.6" r="5.35"/><circle cx="497.9" cy="1233.6" r="5.35"/><circle cx="505.5" cy="1233.6" r="5.35"/><circle cx="551.5" cy="1233.6" r="5.35"/><circle cx="559.1" cy="1233.6" r="5.35"/><circle cx="605" cy="1233.6" r="5.35"/><circle cx="612.7" cy="1233.6" r="5.35"/><circle cx="620.4" cy="1233.6" r="5.35"/><circle cx="628" cy="1233.6" r="5.35"/><circle cx="635.7" cy="1233.6" r="5.35"/><circle cx="643.3" cy="1233.6" r="5.35"/><circle cx="689.2" cy="1233.6" r="5.35"/><circle cx="796.4" cy="1233.6" r="5.35"/><circle cx="804.1" cy="1233.6" r="5.35"/><circle cx="811.7" cy="1233.6" r="5.35"/><circle cx="827" cy="1233.6" r="5.35"/><circle cx="1270.9" cy="1233.6" r="5.35"/><circle cx="1286.3" cy="1233.6" r="5.35"/><circle cx="1293.9" cy="1233.6" r="5.35"/><circle cx="1301.6" cy="1233.6" r="5.35"/><circle cx="1408.7" cy="1233.6" r="5.35"/><circle cx="1416.4" cy="1233.6" r="5.35"/><circle cx="1431.7" cy="1233.6" r="5.35"/><circle cx="1439.3" cy="1233.6" r="5.35"/><circle cx="1447" cy="1233.6" r="5.35"/><circle cx="1454.6" cy="1233.6" r="5.35"/><circle cx="1600.1" cy="1233.6" r="5.35"/><circle cx="1607.7" cy="1233.6" r="5.35"/><circle cx="1615.4" cy="1233.6" r="5.35"/><circle cx="1623" cy="1233.6" r="5.35"/><circle cx="1707.2" cy="1233.6" r="5.35"/><circle cx="1714.9" cy="1233.6" r="5.35"/><circle cx="1722.5" cy="1233.6" r="5.35"/><circle cx="1730.2" cy="1233.6" r="5.35"/><circle cx="1737.8" cy="1233.6" r="5.35"/><circle cx="1745.5" cy="1233.6" r="5.35"/><circle cx="1753.1" cy="1233.6" r="5.35"/><circle cx="1760.8" cy="1233.6" r="5.35"/><circle cx="1768.5" cy="1233.6" r="5.35"/><circle cx="1776.1" cy="1233.6" r="5.35"/><circle cx="1783.8" cy="1233.6" r="5.35"/><circle cx="1791.4" cy="1233.6" r="5.35"/><circle cx="1829.7" cy="1233.6" r="5.35"/><circle cx="1845" cy="1233.6" r="5.35"/></g>
<g fill="#008000"><circle cx="69.3" cy="1233.6" r="7.4"/><circle cx="76.9" cy="1233.6" r="7.4"/><circle cx="84.6" cy="1233.6" r="7.4"/><circle cx="92.2" cy="1233.6" r="7.4"/><circle cx="99.9" cy="1233.6" r="7.4"/><circle cx="107.5" cy="1233.6" r="7.4"/><circle cx="115.2" cy="1233.6" r="7.4"/><circle cx="145.8" cy="1233.6" r="7.4"/><circle cx="253" cy="1233.6" r="7.4"/><circle cx="260.6" cy="1233.6" r="7.4"/><circle cx="268.3" cy="1233.6" r="7.4"/><circle cx="275.9" cy="1233.6" r="7.4"/><circle cx="283.6" cy="1233.6" r="7.4"/><circle cx="291.2" cy="1233.6" r="7.4"/><circle cx="880.6" cy="1233.6" r="7.4"/><circle cx="888.2" cy="1233.6" r="7.4"/><circle cx="895.9" cy="1233.6" r="7.4"/><circle cx="903.6" cy="1233.6" r="7.4"/><circle cx="911.2" cy="1233.6" r="7.4"/><circle cx="918.9" cy="1233.6" r="7.4"/><circle cx="926.5" cy="1233.6" r="7.4"/><circle cx="934.2" cy="1233.6" r="7.4"/><circle cx="941.8" cy="1233.6" r="7.4"/><circle cx="949.5" cy="1233.6" r="7.4"/><circle cx="957.1" cy="1233.6" r="7.4"/><circle cx="964.8" cy="1233.6" r="7.4"/><circle cx="972.4" cy="1233.6" r="7.4"/><circle cx="980.1" cy="1233.6" r="7.4"/><circle cx="987.7" cy="1233.6" r="7.4"/><circle cx="1010.7" cy="1233.6" r="7.4"/><circle cx="1026" cy="1233.6" r="7.4"/><circle cx="1033.7" cy="1233.6" r="7.4"/><circle cx="1041.3" cy="1233.6" r="7.4"/><circle cx="1064.3" cy="1233.6" r="7.4"/><circle cx="1071.9" cy="1233.6" r="7.4"/><circle cx="1079.6" cy="1233.6" r="7.4"/><circle cx="1087.2" cy="1233.6" r="7.4"/><circle cx="1094.9" cy="1233.6" r="7.4"/><circle cx="1102.6" cy="1233.6" r="7.4"/><circle cx="1110.2" cy="1233.6" r="7.4"/><circle cx="1117.9" cy="1233.6" r="7.4"/><circle cx="1202.1" cy="1233.6" r="7.4"/><circle cx="1209.7" cy="1233.6" r="7.4"/><circle cx="1217.4" cy="1233.6" r="7.4"/><circle cx="1546.5" cy="1233.6" r="7.4"/><circle cx="1554.1" cy="1233.6" r="7.4"/><circle cx="1561.8" cy="1233.6" r="7.4"/><circle cx="1569.5" cy="1233.6" r="7.4"/><circle cx="1577.1" cy="1233.6" r="7.4"/><circle cx="1883.3" cy="1233.6" r="7.4"/><circle cx="1890.9" cy="1233.6" r="7.4"/><circle cx="1898.6" cy="1233.6" r="7.4"/><circle cx="1906.2" cy="1233.6" r="7.4"/><circle cx="1913.9" cy="1233.6" r="7.4"/></g>
<g fill="#800000"><circle cx="758.1" cy="1233.6" r="7.4"/><circle cx="765.8" cy="1233.6" r="7.4"/><circle cx="1669" cy="1233.6" r="7.4"/></g>
</g>
<g>
<g fill="#ffff00"><circle cx="0.4" cy="1313.2" r="7.5"/><circle cx="8" cy="1313.2" r="7.5"/><circle cx="168.8" cy="1313.2" r="7.5"/><circle cx="176.4" cy="1313.2" r="7.5"/><circle cx="306.5" cy="1313.2" r="7.5"/><circle cx="314.2" cy="1313.2" r="7.5"/><circle cx="321.9" cy="1313.2" r="7.5"/><circle cx="329.5" cy="1313.2" r="7.5"/><circle cx="337.2" cy="1313.2" r="7.5"/><circle cx="344.8" cy="1313.2" r="7.5"/><circle cx="352.5" cy="1313.2" r="7.5"/><circle cx="367.8" cy="1313.2" r="7.5"/><circle cx="436.7" cy="1313.2" r="7.5"/><circle cx="444.3" cy="1313.2" r="7.5"/><circle cx="474.9" cy="1313.2" r="7.5"/><circle cx="482.6" cy="1313.2" r="7.5"/><circle cx="490.2" cy="1313.2" r="7.5"/><circle cx="497.9" cy="1313.2" r="7.5"/><circle cx="505.5" cy="1313.2" r="7.5"/><circle cx="551.5" cy="1313.2" r="7.5"/><circle cx="559.1" cy="1313.2" r="7.5"/><circle cx="620.4" cy="1313.2" r="7.5"/><circle cx="628" cy="1313.2" r="7.5"/><circle cx="635.7" cy="1313.2" r="7.5"/><circle cx="689.2" cy="1313.2" r="7.5"/><circle cx="727.5" cy="1313.2" r="7.5"/><circle cx="788.7" cy="1313.2" r="7.5"/><circle cx="796.4" cy="1313.2" r="7.5"/><circle cx="804.1" cy="1313.2" r="7.5"/><circle cx="811.7" cy="1313.2" r="7.5"/><circle cx="827" cy="1313.2" r="7.5"/><circle cx="1293.9" cy="1313.2" r="7.5"/><circle cx="1408.7" cy="1313.2" r="7.5"/><circle cx="1431.7" cy="1313.2" r="7.5"/><circle cx="1439.3" cy="1313.2" r="7.5"/><circle cx="1592.4" cy="1313.2" r="7.5"/><circle cx="1600.1" cy="1313.2" r="7.5"/><circle cx="1607.7" cy="1313.2" r="7.5"/><circle cx="1615.4" cy="1313.2" r="7.5"/><circle cx="1699.6" cy="1313.2" r="7.5"/><circle cx="1707.2" cy="1313.2" r="7.5"/><circle cx="1714.9" cy="1313.2" r="7.5"/><circle cx="1722.5" cy="1313.2" r="7.5"/><circle cx="1730.2" cy="1313.2" r="7.5"/><circle cx="1737.8" cy="1313.2" r="7.5"/><circle cx="1745.5" cy="1313.2" r="7.5"/><circle cx="1753.1" cy="1313.2" r="7.5"/><circle cx="1760.8" cy="1313.2" r="7.5"/><circle cx="1768.5" cy="1313.2" r="7.5"/><circle cx="1783.8" cy="1313.2" r="7.5"/><circle cx="1829.7" cy="1313.2" r="7.5"/></g>
<g fill="#00ff00"><circle cx="15.7" cy="1313.2" r="7.5"/><circle cx="23.3" cy="1313.2" r="7.5"/><circle cx="31" cy="1313.2" r="7.5"/><circle cx="38.7" cy="1313.2" r="7.5"/><circle cx="46.3" cy="1313.2" r="7.5"/><circle cx="54" cy="1313.2" r="7.5"/><circle cx="61.6" cy="1313.2" r="7.5"/><circle cx="69.3" cy="1313.2" r="7.5"/><circle cx="76.9" cy="1313.2" r="7.5"/><circle cx="84.6" cy="1313.2" r="7.5"/><circle cx="92.2" cy="1313.2" r="7.5"/><circle cx="99.9" cy="1313.2" r="7.5"/><circle cx="107.5" cy="1313.2" r="7.5"/><circle cx="115.2" cy="1313.2" r="7.5"/><circle cx="122.8" cy="1313.2" r="7.5"/><circle cx="130.5" cy="1313.2" r="7.5"/><circle cx="138.2" cy="1313.2" r="7.5"/><circle cx="145.8" cy="1313.2" r="7.5"/><circle cx="153.5" cy="1313.2" r="7.5"/><circle cx="161.1" cy="1313.2" r="7.5"/><circle cx="184.1" cy="1313.2" r="7.5"/><circle cx="191.7" cy="1313.2" r="7.5"/><circle cx="199.4" cy="1313.2" r="7.5"/><circle cx="207" cy="1313.2" r="7.5"/><circle cx="214.7" cy="1313.2" r="7.5"/><circle cx="222.3" cy="1313.2" r="7.5"/><circle cx="230" cy="1313.2" r="7.5"/><circle cx="237.7" cy="1313.2" r="7.5"/><circle cx="245.3" cy="1313.2" r="7.5"/><circle cx="253" cy="1313.2" r="7.5"/><circle cx="260.6" cy="1313.2" r="7.5"/><circle cx="268.3" cy="1313.2" r="7.5"/><circle cx="275.9" cy="1313.2" r="7.5"/><circle cx="283.6" cy="1313.2" r="7.5"/><circle cx="291.2" cy="1313.2" r="7.5"/><circle cx="298.9" cy="1313.2" r="7.5"/><circle cx="452" cy="1313.2" r="7.5"/><circle cx="459.6" cy="1313.2" r="7.5"/><circle cx="467.3" cy="1313.2" r="7.5"/><circle cx="513.2" cy="1313.2" r="7.5"/><circle cx="520.9" cy="1313.2" r="7.5"/><circle cx="528.5" cy="1313.2" r="7.5"/><circle cx="536.2" cy="1313.2" r="7.5"/><circle cx="543.8" cy="1313.2" r="7.5"/><circle cx="566.8" cy="1313.2" r="7.5"/><circle cx="574.4" cy="1313.2" r="7.5"/><circle cx="582.1" cy="1313.2" r="7.5"/><circle cx="589.7" cy="1313.2" r="7.5"/><circle cx="597.4" cy="1313.2" r="7.5"/><circle cx="605" cy="1313.2" r="7.5"/><circle cx="612.7" cy="1313.2" r="7.5"/><circle cx="834.7" cy="1313.2" r="7.5"/><circle cx="842.3" cy="1313.2" r="7.5"/><circle cx="850" cy="1313.2" r="7.5"/><circle cx="857.6" cy="1313.2" r="7.5"/><circle cx="865.3" cy="1313.2" r="7.5"/><circle cx="872.9" cy="1313.2" r="7.5"/><circle cx="880.6" cy="1313.2" r="7.5"/><circle cx="888.2" cy="1313.2" r="7.5"/><circle cx="895.9" cy="1313.2" r="7.5"/><circle cx="903.6" cy="1313.2" r="7.5"/><circle cx="911.2" cy="1313.2" r="7.5"/><circle cx="918.9" cy="1313.2" r="7.5"/><circle cx="926.5" cy="1313.2" r="7.5"/><circle cx="934.2" cy="1313.2" r="7.5"/><circle cx="941.8" cy="1313.2" r="7.5"/><circle cx="949.5" cy="1313.2" r="7.5"/><circle cx="957.1" cy="1313.2" r="7.5"/><circle cx="964.8" cy="1313.2" r="7.5"/><circle cx="972.4" cy="1313.2" r="7.5"/><circle cx="980.1" cy="1313.2" r="7.5"/><circle cx="987.7" cy="1313.2" r="7.5"/><circle cx="995.4" cy="1313.2" r="7.5"/><circle cx="1003.1" cy="1313.2" r="7.5"/><circle cx="1010.7" cy="1313.2" r="7.5"/><circle cx="1018.4" cy="1313.2" r="7.5"/><circle cx="1026" cy="1313.2" r="7.5"/><circle cx="1033.7" cy="1313.2" r="7.5"/><circle cx="1041.3" cy="1313.2" r="7.5"/><circle cx="1049" cy="1313.2" r="7.5"/><circle cx="1056.6" cy="1313.2" r="7.5"/><circle cx="1064.3" cy="1313.2" r="7.5"/><circle cx="1071.9" cy="1313.2" r="7.5"/><circle cx="1079.6" cy="1313.2" r="7.5"/><circle cx="1087.2" cy="1313.2" r="7.5"/><circle cx="1094.9" cy="1313.2" r="7.5"/><circle cx="1102.6" cy="1313.2" r="7.5"/><circle cx="1110.2" cy="1313.2" r="7.5"/><circle cx="1117.9" cy="1313.2" r="7.5"/><circle cx="1125.5" cy="1313.2" r="7.5"/><circle cx="1133.2" cy="1313.2" r="7.5"/><circle cx="1140.8" cy="1313.2" r="7.5"/><circle cx="1148.5" cy="1313.2" r="7.5"/><circle cx="1156.1" cy="1313.2" r="7.5"/><circle cx="1163.8" cy="1313.2" r="7.5"/><circle cx="1171.4" cy="1313.2" r="7.5"/><circle cx="1179.1" cy="1313.2" r="7.5"/><circle cx="1186.8" cy="1313.2" r="7.5"/><circle cx="1194.4" cy="1313.2" r="7.5"/><circle cx="1202.1" cy="1313.2" r="7.5"/><circle cx="1209.7" cy="1313.2" r="7.5"/><circle cx="1217.4" cy="1313.2" r="7.5"/><circle cx="1225" cy="1313.2" r="7.5"/><circle cx="1232.7" cy="1313.2" r="7.5"/><circle cx="1240.3" cy="1313.2" r="7.5"/><circle cx="1248" cy="1313.2" r="7.5"/><circle cx="1255.6" cy="1313.2" r="7.5"/><circle cx="1263.3" cy="1313.2" r="7.5"/><circle cx="1270.9" cy="1313.2" r="7.5"/><circle cx="1278.6" cy="1313.2" r="7.5"/><circle cx="1286.3" cy="1313.2" r="7.5"/><circle cx="1447" cy="1313.2" r="7.5"/><circle cx="1454.6" cy="1313.2" r="7.5"/><circle cx="1462.3" cy="1313.2" r="7.5"/><circle cx="1470" cy="1313.2" r="7.5"/><circle cx="1477.6" cy="1313.2" r="7.5"/><circle cx="1485.3" cy="1313.2" r="7.5"/><circle cx="1492.9" cy="1313.2" r="7.5"/><circle cx="1500.6" cy="1313.2" r="7.5"/><circle cx="1508.2" cy="1313.2" r="7.5"/><circle cx="1515.9" cy="1313.2" r="7.5"/><circle cx="1523.5" cy="1313.2" r="7.5"/><circle cx="1531.2" cy="1313.2" r="7.5"/><circle cx="1538.8" cy="1313.2" r="7.5"/><circle cx="1546.5" cy="1313.2" r="7.5"/><circle cx="1554.1" cy="1313.2" r="7.5"/><circle cx="1561.8" cy="1313.2" r="7.5"/><circle cx="1569.5" cy="1313.2" r="7.5"/><circle cx="1577.1" cy="1313.2" r="7.5"/><circle cx="1584.8" cy="1313.2" r="7.5"/><circle cx="1776.1" cy="1313.2" r="7.5"/><circle cx="1791.4" cy="1313.2" r="7.5"/><circle cx="1799.1" cy="1313.2" r="7.5"/><circle cx="1806.7" cy="1313.2" r="7.5"/><circle cx="1814.4" cy="1313.2" r="7.5"/><circle cx="1822" cy="1313.2" r="7.5"/><circle cx="1868" cy="1313.2" r="7.5"/><circle cx="1875.6" cy="1313.2" r="7.5"/><circle cx="1883.3" cy="1313.2" r="7.5"/><circle cx="1890.9" cy="1313.2" r="7.5"/><circle cx="1898.6" cy="1313.2" r="7.5"/><circle cx="1906.2" cy="1313.2" r="7.5"/><circle cx="1913.9" cy="1313.2" r="7.5"/></g>
<g fill="#ff0000"><circle cx="360.1" cy="1313.2" r="7.5"/><circle cx="375.4" cy="1313.2" r="7.5"/><circle cx="383.1" cy="1313.2" r="7.5"/><circle cx="390.7" cy="1313.2" r="7.5"/><circle cx="398.4" cy="1313.2" r="7.5"/><circle cx="406" cy="1313.2" r="7.5"/><circle cx="413.7" cy="1313.2" r="7.5"/><circle cx="421.4" cy="1313.2" r="7.5"/><circle cx="429" cy="1313.2" r="7.5"/><circle cx="643.3" cy="1313.2" r="7.5"/><circle cx="651" cy="1313.2" r="7.5"/><circle cx="658.6" cy="1313.2" r="7.5"/><circle cx="666.3" cy="1313.2" r="7.5"/><circle cx="673.9" cy="1313.2" r="7.5"/><circle cx="681.6" cy="1313.2" r="7.5"/><circle cx="696.9" cy="1313.2" r="7.5"/><circle cx="704.5" cy="1313.2" r="7.5"/><circle cx="712.2" cy="1313.2" r="7.5"/><circle cx="719.9" cy="1313.2" r="7.5"/><circle cx="735.2" cy="1313.2" r="7.5"/><circle cx="742.8" cy="1313.2" r="7.5"/><circle cx="750.5" cy="1313.2" r="7.5"/><circle cx="758.1" cy="1313.2" r="7.5"/><circle cx="765.8" cy="1313.2" r="7.5"/><circle cx="773.4" cy="1313.2" r="7.5"/><circle cx="781.1" cy="1313.2" r="7.5"/><circle cx="819.4" cy="1313.2" r="7.5"/><circle cx="1301.6" cy="1313.2" r="7.5"/><circle cx="1309.2" cy="1313.2" r="7.5"/><circle cx="1316.9" cy="1313.2" r="7.5"/><circle cx="1324.5" cy="1313.2" r="7.5"/><circle cx="1332.2" cy="1313.2" r="7.5"/><circle cx="1339.8" cy="1313.2" r="7.5"/><circle cx="1347.5" cy="1313.2" r="7.5"/><circle cx="1355.1" cy="1313.2" r="7.5"/><circle cx="1362.8" cy="1313.2" r="7.5"/><circle cx="1370.4" cy="1313.2" r="7.5"/><circle cx="1378.1" cy="1313.2" r="7.5"/><circle cx="1385.8" cy="1313.2" r="7.5"/><circle cx="1393.4" cy="1313.2" r="7.5"/><circle cx="1401.1" cy="1313.2" r="7.5"/><circle cx="1416.4" cy="1313.2" r="7.5"/><circle cx="1424" cy="1313.2" r="7.5"/><circle cx="1623" cy="1313.2" r="7.5"/><circle cx="1630.7" cy="1313.2" r="7.5"/><circle cx="1638.3" cy="1313.2" r="7.5"/><circle cx="1646" cy="1313.2" r="7.5"/><circle cx="1653.6" cy="1313.2" r="7.5"/><circle cx="1661.3" cy="1313.2" r="7.5"/><circle cx="1669" cy="1313.2" r="7.5"/><circle cx="1676.6" cy="1313.2" r="7.5"/><circle cx="1684.3" cy="1313.2" r="7.5"/><circle cx="1691.9" cy="1313.2" r="7.5"/><circle cx="1837.3" cy="1313.2" r="7.5"/><circle cx="1845" cy="1313.2" r="7.5"/><circle cx="1852.7" cy="1313.2" r="7.5"/><circle cx="1860.3" cy="1313.2" r="7.5"/></g>
</g>
<g>
<g fill="#00ff00"><circle cx="92.2" cy="1345.5" r="7.5"/><circle cx="145.8" cy="1345.5" r="7.5"/><circle cx="153.5" cy="1345.5" r="7.5"/><circle cx="199.4" cy="1345.5" r="7.5"/><circle cx="207" cy="1345.5" r="7.5"/><circle cx="214.7" cy="1345.5" r="7.5"/><circle cx="222.3" cy="1345.5" r="7.5"/><circle cx="245.3" cy="1345.5" r="7.5"/><circle cx="253" cy="1345.5" r="7.5"/><circle cx="260.6" cy="1345.5" r="7.5"/><circle cx="268.3" cy="1345.5" r="7.5"/><circle cx="352.5" cy="1345.5" r="7.5"/><circle cx="436.7" cy="1345.5" r="7.5"/><circle cx="444.3" cy="1345.5" r="7.5"/><circle cx="452" cy="1345.5" r="7.5"/><circle cx="459.6" cy="1345.5" r="7.5"/><circle cx="505.5" cy="1345.5" r="7.5"/><circle cx="513.2" cy="1345.5" r="7.5"/><circle cx="520.9" cy="1345.5" r="7.5"/><circle cx="528.5" cy="1345.5" r="7.5"/><circle cx="536.2" cy="1345.5" r="7.5"/><circle cx="582.1" cy="1345.5" r="7.5"/><circle cx="589.7" cy="1345.5" r="7.5"/><circle cx="597.4" cy="1345.5" r="7.5"/><circle cx="712.2" cy="1345.5" r="7.5"/><circle cx="781.1" cy="1345.5" r="7.5"/><circle cx="796.4" cy="1345.5" r="7.5"/><circle cx="804.1" cy="1345.5" r="7.5"/><circle cx="811.7" cy="1345.5" r="7.5"/><circle cx="834.7" cy="1345.5" r="7.5"/><circle cx="842.3" cy="1345.5" r="7.5"/><circle cx="850" cy="1345.5" r="7.5"/><circle cx="857.6" cy="1345.5" r="7.5"/><circle cx="865.3" cy="1345.5" r="7.5"/><circle cx="895.9" cy="1345.5" r="7.5"/><circle cx="903.6" cy="1345.5" r="7.5"/><circle cx="911.2" cy="1345.5" r="7.5"/><circle cx="949.5" cy="1345.5" r="7.5"/><circle cx="957.1" cy="1345.5" r="7.5"/><circle cx="980.1" cy="1345.5" r="7.5"/><circle cx="987.7" cy="1345.5" r="7.5"/><circle cx="995.4" cy="1345.5" r="7.5"/><circle cx="1033.7" cy="1345.5" r="7.5"/><circle cx="1041.3" cy="1345.5" r="7.5"/><circle cx="1049" cy="1345.5" r="7.5"/><circle cx="1071.9" cy="1345.5" r="7.5"/><circle cx="1079.6" cy="1345.5" r="7.5"/><circle cx="1087.2" cy="1345.5" r="7.5"/><circle cx="1094.9" cy="1345.5" r="7.5"/><circle cx="1171.4" cy="1345.5" r="7.5"/><circle cx="1179.1" cy="1345.5" r="7.5"/><circle cx="1186.8" cy="1345.5" r="7.5"/><circle cx="1194.4" cy="1345.5" r="7.5"/><circle cx="1202.1" cy="1345.5" r="7.5"/><circle cx="1209.7" cy="1345.5" r="7.5"/><circle cx="1217.4" cy="1345.5" r="7.5"/><circle cx="1416.4" cy="1345.5" r="7.5"/><circle cx="1424" cy="1345.5" r="7.5"/><circle cx="1431.7" cy="1345.5" r="7.5"/><circle cx="1439.3" cy="1345.5" r="7.5"/><circle cx="1447" cy="1345.5" r="7.5"/><circle cx="1454.6" cy="1345.5" r="7.5"/><circle cx="1462.3" cy="1345.5" r="7.5"/><circle cx="1470" cy="1345.5" r="7.5"/><circle cx="1508.2" cy="1345.5" r="7.5"/><circle cx="1515.9" cy="1345.5" r="7.5"/><circle cx="1523.5" cy="1345.5" r="7.5"/><circle cx="1531.2" cy="1345.5" r="7.5"/><circle cx="1546.5" cy="1345.5" r="7.5"/><circle cx="1699.6" cy="1345.5" r="7.5"/><circle cx="1707.2" cy="1345.5" r="7.5"/><circle cx="1714.9" cy="1345.5" r="7.5"/><circle cx="1722.5" cy="1345.5" r="7.5"/><circle cx="1753.1" cy="1345.5" r="7.5"/><circle cx="1760.8" cy="1345.5" r="7.5"/><circle cx="1776.1" cy="1345.5" r="7.5"/><circle cx="1799.1" cy="1345.5" r="7.5"/><circle cx="1806.7" cy="1345.5" r="7.5"/><circle cx="1814.4" cy="1345.5" r="7.5"/><circle cx="1822" cy="1345.5" r="7.5"/><circle cx="1829.7" cy="1345.5" r="7.5"/><circle cx="1875.6" cy="1345.5" r="7.5"/><circle cx="1883.3" cy="1345.5" r="7.5"/><circle cx="1890.9" cy="1345.5" r="7.5"/><circle cx="1898.6" cy="1345.5" r="7.5"/><circle cx="1906.2" cy="1345.5" r="7.5"/><circle cx="1913.9" cy="1345.5" r="7.5"/></g>
<g fill="#000000"><circle cx="54" cy="1345.5" r="7.5"/><circle cx="61.6" cy="1345.5" r="7.5"/><circle cx="69.3" cy="1345.5" r="7.5"/><circle cx="76.9" cy="1345.5" r="7.5"/><circle cx="84.6" cy="1345.5" r="7.5"/><circle cx="99.9" cy="1345.5" r="7.5"/><circle cx="107.5" cy="1345.5" r="7.5"/><circle cx="115.2" cy="1345.5" r="7.5"/><circle cx="122.8" cy="1345.5" r="7.5"/><circle cx="191.7" cy="1345.5" r="7.5"/><circle cx="275.9" cy="1345.5" r="7.5"/><circle cx="283.6" cy="1345.5" r="7.5"/><circle cx="337.2" cy="1345.5" r="7.5"/><circle cx="344.8" cy="1345.5" r="7.5"/><circle cx="360.1" cy="1345.5" r="7.5"/><circle cx="367.8" cy="1345.5" r="7.5"/><circle cx="406" cy="1345.5" r="7.5"/><circle cx="413.7" cy="1345.5" r="7.5"/><circle cx="421.4" cy="1345.5" r="7.5"/><circle cx="429" cy="1345.5" r="7.5"/><circle cx="467.3" cy="1345.5" r="7.5"/><circle cx="474.9" cy="1345.5" r="7.5"/><circle cx="543.8" cy="1345.5" r="7.5"/><circle cx="551.5" cy="1345.5" r="7.5"/><circle cx="566.8" cy="1345.5" r="7.5"/><circle cx="605" cy="1345.5" r="7.5"/><circle cx="666.3" cy="1345.5" r="7.5"/><circle cx="681.6" cy="1345.5" r="7.5"/><circle cx="689.2" cy="1345.5" r="7.5"/><circle cx="696.9" cy="1345.5" r="7.5"/><circle cx="742.8" cy="1345.5" r="7.5"/><circle cx="788.7" cy="1345.5" r="7.5"/><circle cx="819.4" cy="1345.5" r="7.5"/><circle cx="827" cy="1345.5" r="7.5"/><circle cx="872.9" cy="1345.5" r="7.5"/><circle cx="880.6" cy="1345.5" r="7.5"/><circle cx="888.2" cy="1345.5" r="7.5"/><circle cx="918.9" cy="1345.5" r="7.5"/><circle cx="926.5" cy="1345.5" r="7.5"/><circle cx="934.2" cy="1345.5" r="7.5"/><circle cx="941.8" cy="1345.5" r="7.5"/><circle cx="964.8" cy="1345.5" r="7.5"/><circle cx="972.4" cy="1345.5" r="7.5"/><circle cx="1003.1" cy="1345.5" r="7.5"/><circle cx="1010.7" cy="1345.5" r="7.5"/><circle cx="1026" cy="1345.5" r="7.5"/><circle cx="1056.6" cy="1345.5" r="7.5"/><circle cx="1064.3" cy="1345.5" r="7.5"/><circle cx="1102.6" cy="1345.5" r="7.5"/><circle cx="1110.2" cy="1345.5" r="7.5"/><circle cx="1163.8" cy="1345.5" r="7.5"/><circle cx="1225" cy="1345.5" r="7.5"/><circle cx="1263.3" cy="1345.5" r="7.5"/><circle cx="1270.9" cy="1345.5" r="7.5"/><circle cx="1278.6" cy="1345.5" r="7.5"/><circle cx="1339.8" cy="1345.5" r="7.5"/><circle cx="1347.5" cy="1345.5" r="7.5"/><circle cx="1355.1" cy="1345.5" r="7.5"/><circle cx="1362.8" cy="1345.5" r="7.5"/><circle cx="1370.4" cy="1345.5" r="7.5"/><circle cx="1393.4" cy="1345.5" r="7.5"/><circle cx="1401.1" cy="1345.5" r="7.5"/><circle cx="1408.7" cy="1345.5" r="7.5"/><circle cx="1477.6" cy="1345.5" r="7.5"/><circle cx="1485.3" cy="1345.5" r="7.5"/><circle cx="1492.9" cy="1345.5" r="7.5"/><circle cx="1500.6" cy="1345.5" r="7.5"/><circle cx="1538.8" cy="1345.5" r="7.5"/><circle cx="1554.1" cy="1345.5" r="7.5"/><circle cx="1561.8" cy="1345.5" r="7.5"/><circle cx="1569.5" cy="1345.5" r="7.5"/><circle cx="1577.1" cy="1345.5" r="7.5"/><circle cx="1584.8" cy="1345.5" r="7.5"/><circle cx="1638.3" cy="1345.5" r="7.5"/><circle cx="1646" cy="1345.5" r="7.5"/><circle cx="1653.6" cy="1345.5" r="7.5"/><circle cx="1676.6" cy="1345.5" r="7.5"/><circle cx="1684.3" cy="1345.5" r="7.5"/><circle cx="1691.9" cy="1345.5" r="7.5"/><circle cx="1730.2" cy="1345.5" r="7.5"/><circle cx="1737.8" cy="1345.5" r="7.5"/><circle cx="1745.5" cy="1345.5" r="7.5"/><circle cx="1768.5" cy="1345.5" r="7.5"/><circle cx="1783.8" cy="1345.5" r="7.5"/><circle cx="1791.4" cy="1345.5" r="7.5"/></g>
<g fill="#ff0000"><circle cx="130.5" cy="1345.5" r="7.5"/><circle cx="138.2" cy="1345.5" r="7.5"/><circle cx="161.1" cy="1345.5" r="7.5"/><circle cx="168.8" cy="1345.5" r="7.5"/><circle cx="176.4" cy="1345.5" r="7.5"/><circle cx="184.1" cy="1345.5" r="7.5"/><circle cx="230" cy="1345.5" r="7.5"/><circle cx="237.7" cy="1345.5" r="7.5"/><circle cx="291.2" cy="1345.5" r="7.5"/><circle cx="298.9" cy="1345.5" r="7.5"/><circle cx="306.5" cy="1345.5" r="7.5"/><circle cx="314.2" cy="1345.5" r="7.5"/><circle cx="321.9" cy="1345.5" r="7.5"/><circle cx="329.5" cy="1345.5" r="7.5"/><circle cx="375.4" cy="1345.5" r="7.5"/><circle cx="383.1" cy="1345.5" r="7.5"/><circle cx="390.7" cy="1345.5" r="7.5"/><circle cx="398.4" cy="1345.5" r="7.5"/><circle cx="482.6" cy="1345.5" r="7.5"/><circle cx="490.2" cy="1345.5" r="7.5"/><circle cx="497.9" cy="1345.5" r="7.5"/><circle cx="559.1" cy="1345.5" r="7.5"/><circle cx="574.4" cy="1345.5" r="7.5"/><circle cx="612.7" cy="1345.5" r="7.5"/><circle cx="620.4" cy="1345.5" r="7.5"/><circle cx="628" cy="1345.5" r="7.5"/><circle cx="635.7" cy="1345.5" r="7.5"/><circle cx="643.3" cy="1345.5" r="7.5"/><circle cx="651" cy="1345.5" r="7.5"/><circle cx="658.6" cy="1345.5" r="7.5"/><circle cx="673.9" cy="1345.5" r="7.5"/><circle cx="704.5" cy="1345.5" r="7.5"/><circle cx="719.9" cy="1345.5" r="7.5"/><circle cx="727.5" cy="1345.5" r="7.5"/><circle cx="735.2" cy="1345.5" r="7.5"/><circle cx="750.5" cy="1345.5" r="7.5"/><circle cx="758.1" cy="1345.5" r="7.5"/><circle cx="765.8" cy="1345.5" r="7.5"/><circle cx="773.4" cy="1345.5" r="7.5"/><circle cx="1018.4" cy="1345.5" r="7.5"/><circle cx="1117.9" cy="1345.5" r="7.5"/><circle cx="1125.5" cy="1345.5" r="7.5"/><circle cx="1133.2" cy="1345.5" r="7.5"/><circle cx="1140.8" cy="1345.5" r="7.5"/><circle cx="1148.5" cy="1345.5" r="7.5"/><circle cx="1156.1" cy="1345.5" r="7.5"/><circle cx="1232.7" cy="1345.5" r="7.5"/><circle cx="1240.3" cy="1345.5" r="7.5"/><circle cx="1248" cy="1345.5" r="7.5"/><circle cx="1255.6" cy="1345.5" r="7.5"/><circle cx="1286.3" cy="1345.5" r="7.5"/><circle cx="1293.9" cy="1345.5" r="7.5"/><circle cx="1301.6" cy="1345.5" r="7.5"/><circle cx="1309.2" cy="1345.5" r="7.5"/><circle cx="1316.9" cy="1345.5" r="7.5"/><circle cx="1324.5" cy="1345.5" r="7.5"/><circle cx="1332.2" cy="1345.5" r="7.5"/><circle cx="1378.1" cy="1345.5" r="7.5"/><circle cx="1385.8" cy="1345.5" r="7.5"/><circle cx="1592.4" cy="1345.5" r="7.5"/><circle cx="1600.1" cy="1345.5" r="7.5"/><circle cx="1607.7" cy="1345.5" r="7.5"/><circle cx="1615.4" cy="1345.5" r="7.5"/><circle cx="1623" cy="1345.5" r="7.5"/><circle cx="1630.7" cy="1345.5" r="7.5"/><circle cx="1661.3" cy="1345.5" r="7.5"/><circle cx="1669" cy="1345.5" r="7.5"/><circle cx="1837.3" cy="1345.5" r="7.5"/><circle cx="1845" cy="1345.5" r="7.5"/><circle cx="1852.7" cy="1345.5" r="7.5"/><circle cx="1860.3" cy="1345.5" r="7.5"/><circle cx="1868" cy="1345.5" r="7.5"/></g>
</g>
<g>
<g fill="#00ff00"><circle cx="153.5" cy="1377.8" r="7.5"/><circle cx="161.1" cy="1377.8" r="7.5"/><circle cx="168.8" cy="1377.8" r="7.5"/><circle cx="176.4" cy="1377.8" r="7.5"/><circle cx="184.1" cy="1377.8" r="7.5"/><circle cx="191.7" cy="1377.8" r="7.5"/><circle cx="199.4" cy="1377.8" r="7.5"/><circle cx="207" cy="1377.8" r="7.5"/><circle cx="214.7" cy="1377.8" r="7.5"/><circle cx="222.3" cy="1377.8" r="7.5"/><circle cx="230" cy="1377.8" r="7.5"/><circle cx="237.7" cy="1377.8" r="7.5"/><circle cx="245.3" cy="1377.8" r="7.5"/><circle cx="253" cy="1377.8" r="7.5"/><circle cx="260.6" cy="1377.8" r="7.5"/><circle cx="268.3" cy="1377.8" r="7.5"/><circle cx="275.9" cy="1377.8" r="7.5"/><circle cx="283.6" cy="1377.8" r="7.5"/><circle cx="291.2" cy="1377.8" r="7.5"/><circle cx="298.9" cy="1377.8" r="7.5"/><circle cx="306.5" cy="1377.8" r="7.5"/><circle cx="314.2" cy="1377.8" r="7.5"/><circle cx="321.9" cy="1377.8" r="7.5"/><circle cx="329.5" cy="1377.8" r="7.5"/><circle cx="337.2" cy="1377.8" r="7.5"/><circle cx="344.8" cy="1377.8" r="7.5"/><circle cx="352.5" cy="1377.8" r="7.5"/><circle cx="360.1" cy="1377.8" r="7.5"/><circle cx="367.8" cy="1377.8" r="7.5"/><circle cx="375.4" cy="1377.8" r="7.5"/><circle cx="383.1" cy="1377.8" r="7.5"/><circle cx="390.7" cy="1377.8" r="7.5"/><circle cx="398.4" cy="1377.8" r="7.5"/><circle cx="406" cy="1377.8" r="7.5"/><circle cx="413.7" cy="1377.8" r="7.5"/><circle cx="421.4" cy="1377.8" r="7.5"/><circle cx="429" cy="1377.8" r="7.5"/><circle cx="436.7" cy="1377.8" r="7.5"/><circle cx="444.3" cy="1377.8" r="7.5"/><circle cx="452" cy="1377.8" r="7.5"/><circle cx="666.3" cy="1377.8" r="7.5"/><circle cx="673.9" cy="1377.8" r="7.5"/><circle cx="681.6" cy="1377.8" r="7.5"/><circle cx="689.2" cy="1377.8" r="7.5"/><circle cx="696.9" cy="1377.8" r="7.5"/><circle cx="704.5" cy="1377.8" r="7.5"/><circle cx="712.2" cy="1377.8" r="7.5"/><circle cx="719.9" cy="1377.8" r="7.5"/><circle cx="727.5" cy="1377.8" r="7.5"/><circle cx="735.2" cy="1377.8" r="7.5"/><circle cx="742.8" cy="1377.8" r="7.5"/><circle cx="750.5" cy="1377.8" r="7.5"/><circle cx="888.2" cy="1377.8" r="7.5"/><circle cx="895.9" cy="1377.8" r="7.5"/><circle cx="903.6" cy="1377.8" r="7.5"/><circle cx="911.2" cy="1377.8" r="7.5"/><circle cx="918.9" cy="1377.8" r="7.5"/><circle cx="926.5" cy="1377.8" r="7.5"/><circle cx="934.2" cy="1377.8" r="7.5"/><circle cx="941.8" cy="1377.8" r="7.5"/><circle cx="949.5" cy="1377.8" r="7.5"/><circle cx="957.1" cy="1377.8" r="7.5"/><circle cx="964.8" cy="1377.8" r="7.5"/><circle cx="972.4" cy="1377.8" r="7.5"/><circle cx="980.1" cy="1377.8" r="7.5"/><circle cx="987.7" cy="1377.8" r="7.5"/><circle cx="995.4" cy="1377.8" r="7.5"/><circle cx="1003.1" cy="1377.8" r="7.5"/><circle cx="1010.7" cy="1377.8" r="7.5"/><circle cx="1018.4" cy="1377.8" r="7.5"/><circle cx="1026" cy="1377.8" r="7.5"/><circle cx="1033.7" cy="1377.8" r="7.5"/><circle cx="1041.3" cy="1377.8" r="7.5"/><circle cx="1049" cy="1377.8" r="7.5"/><circle cx="1056.6" cy="1377.8" r="7.5"/><circle cx="1064.3" cy="1377.8" r="7.5"/><circle cx="1071.9" cy="1377.8" r="7.5"/><circle cx="1079.6" cy="1377.8" r="7.5"/><circle cx="1087.2" cy="1377.8" r="7.5"/><circle cx="1094.9" cy="1377.8" r="7.5"/><circle cx="1102.6" cy="1377.8" r="7.5"/><circle cx="1110.2" cy="1377.8" r="7.5"/><circle cx="1117.9" cy="1377.8" r="7.5"/><circle cx="1125.5" cy="1377.8" r="7.5"/><circle cx="1133.2" cy="1377.8" r="7.5"/><circle cx="1140.8" cy="1377.8" r="7.5"/><circle cx="1148.5" cy="1377.8" r="7.5"/><circle cx="1156.1" cy="1377.8" r="7.5"/><circle cx="1163.8" cy="1377.8" r="7.5"/><circle cx="1171.4" cy="1377.8" r="7.5"/><circle cx="1179.1" cy="1377.8" r="7.5"/><circle cx="1186.8" cy="1377.8" r="7.5"/><circle cx="1194.4" cy="1377.8" r="7.5"/><circle cx="1202.1" cy="1377.8" r="7.5"/><circle cx="1209.7" cy="1377.8" r="7.5"/><circle cx="1217.4" cy="1377.8" r="7.5"/><circle cx="1225" cy="1377.8" r="7.5"/><circle cx="1232.7" cy="1377.8" r="7.5"/><circle cx="1240.3" cy="1377.8" r="7.5"/><circle cx="1248" cy="1377.8" r="7.5"/><circle cx="1255.6" cy="1377.8" r="7.5"/><circle cx="1263.3" cy="1377.8" r="7.5"/><circle cx="1270.9" cy="1377.8" r="7.5"/><circle cx="1278.6" cy="1377.8" r="7.5"/><circle cx="1286.3" cy="1377.8" r="7.5"/><circle cx="1293.9" cy="1377.8" r="7.5"/><circle cx="1301.6" cy="1377.8" r="7.5"/><circle cx="1309.2" cy="1377.8" r="7.5"/><circle cx="1316.9" cy="1377.8" r="7.5"/><circle cx="1324.5" cy="1377.8" r="7.5"/><circle cx="1332.2" cy="1377.8" r="7.5"/><circle cx="1339.8" cy="1377.8" r="7.5"/><circle cx="1347.5" cy="1377.8" r="7.5"/><circle cx="1355.1" cy="1377.8" r="7.5"/><circle cx="1362.8" cy="1377.8" r="7.5"/><circle cx="1370.4" cy="1377.8" r="7.5"/><circle cx="1378.1" cy="1377.8" r="7.5"/><circle cx="1385.8" cy="1377.8" r="7.5"/><circle cx="1393.4" cy="1377.8" r="7.5"/><circle cx="1401.1" cy="1377.8" r="7.5"/><circle cx="1408.7" cy="1377.8" r="7.5"/><circle cx="1546.5" cy="1377.8" r="7.5"/><circle cx="1554.1" cy="1377.8" r="7.5"/><circle cx="1561.8" cy="1377.8" r="7.5"/><circle cx="1569.5" cy="1377.8" r="7.5"/><circle cx="1577.1" cy="1377.8" r="7.5"/><circle cx="1584.8" cy="1377.8" r="7.5"/><circle cx="1592.4" cy="1377.8" r="7.5"/><circle cx="1600.1" cy="1377.8" r="7.5"/><circle cx="1607.7" cy="1377.8" r="7.5"/><circle cx="1615.4" cy="1377.8" r="7.5"/><circle cx="1623" cy="1377.8" r="7.5"/><circle cx="1630.7" cy="1377.8" r="7.5"/><circle cx="1638.3" cy="1377.8" r="7.5"/><circle cx="1646" cy="1377.8" r="7.5"/><circle cx="1653.6" cy="1377.8" r="7.5"/><circle cx="1898.6" cy="1377.8" r="7.5"/><circle cx="1906.2" cy="1377.8" r="7.5"/><circle cx="1913.9" cy="1377.8" r="7.5"/></g>
<g fill="#ff0000"><circle cx="459.6" cy="1377.8" r="7.5"/><circle cx="467.3" cy="1377.8" r="7.5"/><circle cx="474.9" cy="1377.8" r="7.5"/><circle cx="482.6" cy="1377.8" r="7.5"/><circle cx="490.2" cy="1377.8" r="7.5"/><circle cx="497.9" cy="1377.8" r="7.5"/><circle cx="505.5" cy="1377.8" r="7.5"/><circle cx="513.2" cy="1377.8" r="7.5"/><circle cx="520.9" cy="1377.8" r="7.5"/><circle cx="528.5" cy="1377.8" r="7.5"/><circle cx="536.2" cy="1377.8" r="7.5"/><circle cx="543.8" cy="1377.8" r="7.5"/><circle cx="551.5" cy="1377.8" r="7.5"/><circle cx="559.1" cy="1377.8" r="7.5"/><circle cx="566.8" cy="1377.8" r="7.5"/><circle cx="574.4" cy="1377.8" r="7.5"/><circle cx="582.1" cy="1377.8" r="7.5"/><circle cx="589.7" cy="1377.8" r="7.5"/><circle cx="597.4" cy="1377.8" r="7.5"/><circle cx="605" cy="1377.8" r="7.5"/><circle cx="612.7" cy="1377.8" r="7.5"/><circle cx="620.4" cy="1377.8" r="7.5"/><circle cx="628" cy="1377.8" r="7.5"/><circle cx="635.7" cy="1377.8" r="7.5"/><circle cx="643.3" cy="1377.8" r="7.5"/><circle cx="651" cy="1377.8" r="7.5"/><circle cx="658.6" cy="1377.8" r="7.5"/><circle cx="758.1" cy="1377.8" r="7.5"/><circle cx="765.8" cy="1377.8" r="7.5"/><circle cx="773.4" cy="1377.8" r="7.5"/><circle cx="781.1" cy="1377.8" r="7.5"/><circle cx="788.7" cy="1377.8" r="7.5"/><circle cx="796.4" cy="1377.8" r="7.5"/><circle cx="804.1" cy="1377.8" r="7.5"/><circle cx="811.7" cy="1377.8" r="7.5"/><circle cx="819.4" cy="1377.8" r="7.5"/><circle cx="827" cy="1377.8" r="7.5"/><circle cx="834.7" cy="1377.8" r="7.5"/><circle cx="842.3" cy="1377.8" r="7.5"/><circle cx="850" cy="1377.8" r="7.5"/><circle cx="857.6" cy="1377.8" r="7.5"/><circle cx="865.3" cy="1377.8" r="7.5"/><circle cx="872.9" cy="1377.8" r="7.5"/><circle cx="880.6" cy="1377.8" r="7.5"/><circle cx="1416.4" cy="1377.8" r="7.5"/><circle cx="1424" cy="1377.8" r="7.5"/><circle cx="1431.7" cy="1377.8" r="7.5"/><circle cx="1439.3" cy="1377.8" r="7.5"/><circle cx="1447" cy="1377.8" r="7.5"/><circle cx="1454.6" cy="1377.8" r="7.5"/><circle cx="1462.3" cy="1377.8" r="7.5"/><circle cx="1470" cy="1377.8" r="7.5"/><circle cx="1477.6" cy="1377.8" r="7.5"/><circle cx="1485.3" cy="1377.8" r="7.5"/><circle cx="1492.9" cy="1377.8" r="7.5"/><circle cx="1500.6" cy="1377.8" r="7.5"/><circle cx="1508.2" cy="1377.8" r="7.5"/><circle cx="1515.9" cy="1377.8" r="7.5"/><circle cx="1523.5" cy="1377.8" r="7.5"/><circle cx="1531.2" cy="1377.8" r="7.5"/><circle cx="1538.8" cy="1377.8" r="7.5"/><circle cx="1661.3" cy="1377.8" r="7.5"/><circle cx="1669" cy="1377.8" r="7.5"/><circle cx="1676.6" cy="1377.8" r="7.5"/><circle cx="1684.3" cy="1377.8" r="7.5"/><circle cx="1691.9" cy="1377.8" r="7.5"/><circle cx="1699.6" cy="1377.8" r="7.5"/><circle cx="1707.2" cy="1377.8" r="7.5"/><circle cx="1714.9" cy="1377.8" r="7.5"/><circle cx="1722.5" cy="1377.8" r="7.5"/><circle cx="1730.2" cy="1377.8" r="7.5"/><circle cx="1737.8" cy="1377.8" r="7.5"/><circle cx="1745.5" cy="1377.8" r="7.5"/><circle cx="1753.1" cy="1377.8" r="7.5"/><circle cx="1760.8" cy="1377.8" r="7.5"/><circle cx="1768.5" cy="1377.8" r="7.5"/><circle cx="1776.1" cy="1377.8" r="7.5"/><circle cx="1783.8" cy="1377.8" r="7.5"/><circle cx="1791.4" cy="1377.8" r="7.5"/><circle cx="1799.1" cy="1377.8" r="7.5"/><circle cx="1806.7" cy="1377.8" r="7.5"/><circle cx="1814.4" cy="1377.8" r="7.5"/><circle cx="1822" cy="1377.8" r="7.5"/><circle cx="1829.7" cy="1377.8" r="7.5"/><circle cx="1837.3" cy="1377.8" r="7.5"/><circle cx="1845" cy="1377.8" r="7.5"/><circle cx="1852.7" cy="1377.8" r="7.5"/><circle cx="1860.3" cy="1377.8" r="7.5"/><circle cx="1868" cy="1377.8" r="7.5"/><circle cx="1875.6" cy="1377.8" r="7.5"/><circle cx="1883.3" cy="1377.8" r="7.5"/><circle cx="1890.9" cy="1377.8" r="7.5"/></g>
</g>
<g>
<g fill="#000000"><circle cx="38.7" cy="1410.1" r="7.5"/><circle cx="138.2" cy="1410.1" r="7.5"/><circle cx="168.8" cy="1410.1" r="7.5"/><circle cx="176.4" cy="1410.1" r="7.5"/><circle cx="184.1" cy="1410.1" r="7.5"/><circle cx="191.7" cy="1410.1" r="7.5"/><circle cx="199.4" cy="1410.1" r="7.5"/><circle cx="237.7" cy="1410.1" r="7.5"/><circle cx="298.9" cy="1410.1" r="7.5"/><circle cx="306.5" cy="1410.1" r="7.5"/><circle cx="314.2" cy="1410.1" r="7.5"/><circle cx="321.9" cy="1410.1" r="7.5"/><circle cx="329.5" cy="1410.1" r="7.5"/><circle cx="337.2" cy="1410.1" r="7.5"/><circle cx="344.8" cy="1410.1" r="7.5"/><circle cx="352.5" cy="1410.1" r="7.5"/><circle cx="360.1" cy="1410.1" r="7.5"/><circle cx="367.8" cy="1410.1" r="7.5"/><circle cx="375.4" cy="1410.1" r="7.5"/><circle cx="383.1" cy="1410.1" r="7.5"/><circle cx="452" cy="1410.1" r="7.5"/><circle cx="459.6" cy="1410.1" r="7.5"/><circle cx="467.3" cy="1410.1" r="7.5"/><circle cx="474.9" cy="1410.1" r="7.5"/><circle cx="482.6" cy="1410.1" r="7.5"/><circle cx="490.2" cy="1410.1" r="7.5"/><circle cx="513.2" cy="1410.1" r="7.5"/><circle cx="520.9" cy="1410.1" r="7.5"/><circle cx="628" cy="1410.1" r="7.5"/><circle cx="635.7" cy="1410.1" r="7.5"/><circle cx="643.3" cy="1410.1" r="7.5"/><circle cx="651" cy="1410.1" r="7.5"/><circle cx="658.6" cy="1410.1" r="7.5"/><circle cx="796.4" cy="1410.1" r="7.5"/><circle cx="804.1" cy="1410.1" r="7.5"/><circle cx="811.7" cy="1410.1" r="7.5"/><circle cx="819.4" cy="1410.1" r="7.5"/><circle cx="827" cy="1410.1" r="7.5"/><circle cx="834.7" cy="1410.1" r="7.5"/><circle cx="842.3" cy="1410.1" r="7.5"/><circle cx="850" cy="1410.1" r="7.5"/><circle cx="1125.5" cy="1410.1" r="7.5"/><circle cx="1133.2" cy="1410.1" r="7.5"/><circle cx="1140.8" cy="1410.1" r="7.5"/><circle cx="1148.5" cy="1410.1" r="7.5"/><circle cx="1156.1" cy="1410.1" r="7.5"/><circle cx="1163.8" cy="1410.1" r="7.5"/><circle cx="1171.4" cy="1410.1" r="7.5"/><circle cx="1179.1" cy="1410.1" r="7.5"/><circle cx="1240.3" cy="1410.1" r="7.5"/><circle cx="1248" cy="1410.1" r="7.5"/><circle cx="1255.6" cy="1410.1" r="7.5"/><circle cx="1263.3" cy="1410.1" r="7.5"/><circle cx="1270.9" cy="1410.1" r="7.5"/><circle cx="1278.6" cy="1410.1" r="7.5"/><circle cx="1286.3" cy="1410.1" r="7.5"/><circle cx="1293.9" cy="1410.1" r="7.5"/><circle cx="1301.6" cy="1410.1" r="7.5"/><circle cx="1309.2" cy="1410.1" r="7.5"/><circle cx="1316.9" cy="1410.1" r="7.5"/><circle cx="1324.5" cy="1410.1" r="7.5"/><circle cx="1439.3" cy="1410.1" r="7.5"/><circle cx="1447" cy="1410.1" r="7.5"/><circle cx="1454.6" cy="1410.1" r="7.5"/><circle cx="1462.3" cy="1410.1" r="7.5"/><circle cx="1470" cy="1410.1" r="7.5"/><circle cx="1477.6" cy="1410.1" r="7.5"/><circle cx="1485.3" cy="1410.1" r="7.5"/><circle cx="1600.1" cy="1410.1" r="7.5"/><circle cx="1607.7" cy="1410.1" r="7.5"/><circle cx="1615.4" cy="1410.1" r="7.5"/><circle cx="1623" cy="1410.1" r="7.5"/><circle cx="1630.7" cy="1410.1" r="7.5"/><circle cx="1638.3" cy="1410.1" r="7.5"/><circle cx="1646" cy="1410.1" r="7.5"/><circle cx="1714.9" cy="1410.1" r="7.5"/><circle cx="1722.5" cy="1410.1" r="7.5"/><circle cx="1730.2" cy="1410.1" r="7.5"/><circle cx="1737.8" cy="1410.1" r="7.5"/><circle cx="1745.5" cy="1410.1" r="7.5"/><circle cx="1753.1" cy="1410.1" r="7.5"/><circle cx="1760.8" cy="1410.1" r="7.5"/><circle cx="1768.5" cy="1410.1" r="7.5"/><circle cx="1776.1" cy="1410.1" r="7.5"/><circle cx="1783.8" cy="1410.1" r="7.5"/><circle cx="1791.4" cy="1410.1" r="7.5"/><circle cx="1799.1" cy="1410.1" r="7.5"/><circle cx="1806.7" cy="1410.1" r="7.5"/><circle cx="1814.4" cy="1410.1" r="7.5"/><circle cx="1822" cy="1410.1" r="7.5"/><circle cx="1829.7" cy="1410.1" r="7.5"/><circle cx="1837.3" cy="1410.1" r="7.5"/><circle cx="1845" cy="1410.1" r="7.5"/><circle cx="1852.7" cy="1410.1" r="7.5"/><circle cx="1875.6" cy="1410.1" r="7.5"/></g>
<g fill="#00ff00"><circle cx="46.3" cy="1410.1" r="7.5"/><circle cx="54" cy="1410.1" r="7.5"/><circle cx="61.6" cy="1410.1" r="7.5"/><circle cx="69.3" cy="1410.1" r="7.5"/><circle cx="76.9" cy="1410.1" r="7.5"/><circle cx="84.6" cy="1410.1" r="7.5"/><circle cx="92.2" cy="1410.1" r="7.5"/><circle cx="99.9" cy="1410.1" r="7.5"/><circle cx="107.5" cy="1410.1" r="7.5"/><circle cx="115.2" cy="1410.1" r="7.5"/><circle cx="122.8" cy="1410.1" r="7.5"/><circle cx="130.5" cy="1410.1" r="7.5"/><circle cx="145.8" cy="1410.1" r="7.5"/><circle cx="153.5" cy="1410.1" r="7.5"/><circle cx="161.1" cy="1410.1" r="7.5"/><circle cx="207" cy="1410.1" r="7.5"/><circle cx="214.7" cy="1410.1" r="7.5"/><circle cx="222.3" cy="1410.1" r="7.5"/><circle cx="230" cy="1410.1" r="7.5"/><circle cx="245.3" cy="1410.1" r="7.5"/><circle cx="253" cy="1410.1" r="7.5"/><circle cx="260.6" cy="1410.1" r="7.5"/><circle cx="268.3" cy="1410.1" r="7.5"/><circle cx="275.9" cy="1410.1" r="7.5"/><circle cx="283.6" cy="1410.1" r="7.5"/><circle cx="291.2" cy="1410.1" r="7.5"/><circle cx="528.5" cy="1410.1" r="7.5"/><circle cx="536.2" cy="1410.1" r="7.5"/><circle cx="543.8" cy="1410.1" r="7.5"/><circle cx="551.5" cy="1410.1" r="7.5"/><circle cx="559.1" cy="1410.1" r="7.5"/><circle cx="566.8" cy="1410.1" r="7.5"/><circle cx="574.4" cy="1410.1" r="7.5"/><circle cx="582.1" cy="1410.1" r="7.5"/><circle cx="589.7" cy="1410.1" r="7.5"/><circle cx="597.4" cy="1410.1" r="7.5"/><circle cx="605" cy="1410.1" r="7.5"/><circle cx="612.7" cy="1410.1" r="7.5"/><circle cx="620.4" cy="1410.1" r="7.5"/><circle cx="857.6" cy="1410.1" r="7.5"/><circle cx="865.3" cy="1410.1" r="7.5"/><circle cx="872.9" cy="1410.1" r="7.5"/><circle cx="880.6" cy="1410.1" r="7.5"/><circle cx="888.2" cy="1410.1" r="7.5"/><circle cx="895.9" cy="1410.1" r="7.5"/><circle cx="903.6" cy="1410.1" r="7.5"/><circle cx="911.2" cy="1410.1" r="7.5"/><circle cx="918.9" cy="1410.1" r="7.5"/><circle cx="926.5" cy="1410.1" r="7.5"/><circle cx="934.2" cy="1410.1" r="7.5"/><circle cx="941.8" cy="1410.1" r="7.5"/><circle cx="949.5" cy="1410.1" r="7.5"/><circle cx="957.1" cy="1410.1" r="7.5"/><circle cx="964.8" cy="1410.1" r="7.5"/><circle cx="972.4" cy="1410.1" r="7.5"/><circle cx="980.1" cy="1410.1" r="7.5"/><circle cx="987.7" cy="1410.1" r="7.5"/><circle cx="995.4" cy="1410.1" r="7.5"/><circle cx="1003.1" cy="1410.1" r="7.5"/><circle cx="1010.7" cy="1410.1" r="7.5"/><circle cx="1018.4" cy="1410.1" r="7.5"/><circle cx="1026" cy="1410.1" r="7.5"/><circle cx="1033.7" cy="1410.1" r="7.5"/><circle cx="1041.3" cy="1410.1" r="7.5"/><circle cx="1049" cy="1410.1" r="7.5"/><circle cx="1056.6" cy="1410.1" r="7.5"/><circle cx="1064.3" cy="1410.1" r="7.5"/><circle cx="1071.9" cy="1410.1" r="7.5"/><circle cx="1079.6" cy="1410.1" r="7.5"/><circle cx="1087.2" cy="1410.1" r="7.5"/><circle cx="1094.9" cy="1410.1" r="7.5"/><circle cx="1102.6" cy="1410.1" r="7.5"/><circle cx="1110.2" cy="1410.1" r="7.5"/><circle cx="1117.9" cy="1410.1" r="7.5"/><circle cx="1186.8" cy="1410.1" r="7.5"/><circle cx="1194.4" cy="1410.1" r="7.5"/><circle cx="1202.1" cy="1410.1" r="7.5"/><circle cx="1209.7" cy="1410.1" r="7.5"/><circle cx="1217.4" cy="1410.1" r="7.5"/><circle cx="1225" cy="1410.1" r="7.5"/><circle cx="1232.7" cy="1410.1" r="7.5"/><circle cx="1492.9" cy="1410.1" r="7.5"/><circle cx="1500.6" cy="1410.1" r="7.5"/><circle cx="1508.2" cy="1410.1" r="7.5"/><circle cx="1515.9" cy="1410.1" r="7.5"/><circle cx="1523.5" cy="1410.1" r="7.5"/><circle cx="1531.2" cy="1410.1" r="7.5"/><circle cx="1538.8" cy="1410.1" r="7.5"/><circle cx="1546.5" cy="1410.1" r="7.5"/><circle cx="1554.1" cy="1410.1" r="7.5"/><circle cx="1561.8" cy="1410.1" r="7.5"/><circle cx="1569.5" cy="1410.1" r="7.5"/><circle cx="1577.1" cy="1410.1" r="7.5"/><circle cx="1584.8" cy="1410.1" r="7.5"/><circle cx="1592.4" cy="1410.1" r="7.5"/><circle cx="1883.3" cy="1410.1" r="7.5"/><circle cx="1890.9" cy="1410.1" r="7.5"/><circle cx="1898.6" cy="1410.1" r="7.5"/><circle cx="1906.2" cy="1410.1" r="7.5"/><circle cx="1913.9" cy="1410.1" r="7.5"/></g>
<g fill="#ff0000"><circle cx="390.7" cy="1410.1" r="7.5"/><circle cx="398.4" cy="1410.1" r="7.5"/><circle cx="406" cy="1410.1" r="7.5"/><circle cx="413.7" cy="1410.1" r="7.5"/><circle cx="421.4" cy="1410.1" r="7.5"/><circle cx="429" cy="1410.1" r="7.5"/><circle cx="436.7" cy="1410.1" r="7.5"/><circle cx="444.3" cy="1410.1" r="7.5"/><circle cx="497.9" cy="1410.1" r="7.5"/><circle cx="505.5" cy="1410.1" r="7.5"/><circle cx="666.3" cy="1410.1" r="7.5"/><circle cx="673.9" cy="1410.1" r="7.5"/><circle cx="681.6" cy="1410.1" r="7.5"/><circle cx="689.2" cy="1410.1" r="7.5"/><circle cx="696.9" cy="1410.1" r="7.5"/><circle cx="704.5" cy="1410.1" r="7.5"/><circle cx="712.2" cy="1410.1" r="7.5"/><circle cx="719.9" cy="1410.1" r="7.5"/><circle cx="727.5" cy="1410.1" r="7.5"/><circle cx="735.2" cy="1410.1" r="7.5"/><circle cx="742.8" cy="1410.1" r="7.5"/><circle cx="750.5" cy="1410.1" r="7.5"/><circle cx="758.1" cy="1410.1" r="7.5"/><circle cx="765.8" cy="1410.1" r="7.5"/><circle cx="773.4" cy="1410.1" r="7.5"/><circle cx="781.1" cy="1410.1" r="7.5"/><circle cx="788.7" cy="1410.1" r="7.5"/><circle cx="1332.2" cy="1410.1" r="7.5"/><circle cx="1339.8" cy="1410.1" r="7.5"/><circle cx="1347.5" cy="1410.1" r="7.5"/><circle cx="1355.1" cy="1410.1" r="7.5"/><circle cx="1362.8" cy="1410.1" r="7.5"/><circle cx="1370.4" cy="1410.1" r="7.5"/><circle cx="1378.1" cy="1410.1" r="7.5"/><circle cx="1385.8" cy="1410.1" r="7.5"/><circle cx="1393.4" cy="1410.1" r="7.5"/><circle cx="1401.1" cy="1410.1" r="7.5"/><circle cx="1408.7" cy="1410.1" r="7.5"/><circle cx="1416.4" cy="1410.1" r="7.5"/><circle cx="1424" cy="1410.1" r="7.5"/><circle cx="1431.7" cy="1410.1" r="7.5"/><circle cx="1653.6" cy="1410.1" r="7.5"/><circle cx="1661.3" cy="1410.1" r="7.5"/><circle cx="1669" cy="1410.1" r="7.5"/><circle cx="1676.6" cy="1410.1" r="7.5"/><circle cx="1684.3" cy="1410.1" r="7.5"/><circle cx="1691.9" cy="1410.1" r="7.5"/><circle cx="1699.6" cy="1410.1" r="7.5"/><circle cx="1707.2" cy="1410.1" r="7.5"/><circle cx="1860.3" cy="1410.1" r="7.5"/><circle cx="1868" cy="1410.1" r="7.5"/></g>
</g>
<g>
<g fill="#000000"><circle cx="0.4" cy="1442.4" r="7.5"/><circle cx="8" cy="1442.4" r="7.5"/><circle cx="15.7" cy="1442.4" r="7.5"/><circle cx="122.8" cy="1442.4" r="7.5"/><circle cx="130.5" cy="1442.4" r="7.5"/><circle cx="138.2" cy="1442.4" r="7.5"/><circle cx="145.8" cy="1442.4" r="7.5"/><circle cx="153.5" cy="1442.4" r="7.5"/><circle cx="161.1" cy="1442.4" r="7.5"/><circle cx="168.8" cy="1442.4" r="7.5"/><circle cx="176.4" cy="1442.4" r="7.5"/><circle cx="184.1" cy="1442.4" r="7.5"/><circle cx="191.7" cy="1442.4" r="7.5"/><circle cx="199.4" cy="1442.4" r="7.5"/><circle cx="207" cy="1442.4" r="7.5"/><circle cx="298.9" cy="1442.4" r="7.5"/><circle cx="306.5" cy="1442.4" r="7.5"/><circle cx="314.2" cy="1442.4" r="7.5"/><circle cx="321.9" cy="1442.4" r="7.5"/><circle cx="429" cy="1442.4" r="7.5"/><circle cx="436.7" cy="1442.4" r="7.5"/><circle cx="444.3" cy="1442.4" r="7.5"/><circle cx="452" cy="1442.4" r="7.5"/><circle cx="551.5" cy="1442.4" r="7.5"/><circle cx="559.1" cy="1442.4" r="7.5"/><circle cx="566.8" cy="1442.4" r="7.5"/><circle cx="574.4" cy="1442.4" r="7.5"/><circle cx="582.1" cy="1442.4" r="7.5"/><circle cx="620.4" cy="1442.4" r="7.5"/><circle cx="628" cy="1442.4" r="7.5"/><circle cx="712.2" cy="1442.4" r="7.5"/><circle cx="719.9" cy="1442.4" r="7.5"/><circle cx="727.5" cy="1442.4" r="7.5"/><circle cx="735.2" cy="1442.4" r="7.5"/><circle cx="742.8" cy="1442.4" r="7.5"/><circle cx="750.5" cy="1442.4" r="7.5"/><circle cx="758.1" cy="1442.4" r="7.5"/><circle cx="796.4" cy="1442.4" r="7.5"/><circle cx="804.1" cy="1442.4" r="7.5"/><circle cx="811.7" cy="1442.4" r="7.5"/><circle cx="819.4" cy="1442.4" r="7.5"/><circle cx="827" cy="1442.4" r="7.5"/><circle cx="1026" cy="1442.4" r="7.5"/><circle cx="1125.5" cy="1442.4" r="7.5"/><circle cx="1133.2" cy="1442.4" r="7.5"/><circle cx="1140.8" cy="1442.4" r="7.5"/><circle cx="1148.5" cy="1442.4" r="7.5"/><circle cx="1156.1" cy="1442.4" r="7.5"/><circle cx="1163.8" cy="1442.4" r="7.5"/><circle cx="1171.4" cy="1442.4" r="7.5"/><circle cx="1179.1" cy="1442.4" r="7.5"/><circle cx="1186.8" cy="1442.4" r="7.5"/><circle cx="1240.3" cy="1442.4" r="7.5"/><circle cx="1248" cy="1442.4" r="7.5"/><circle cx="1255.6" cy="1442.4" r="7.5"/><circle cx="1263.3" cy="1442.4" r="7.5"/><circle cx="1270.9" cy="1442.4" r="7.5"/><circle cx="1278.6" cy="1442.4" r="7.5"/><circle cx="1286.3" cy="1442.4" r="7.5"/><circle cx="1293.9" cy="1442.4" r="7.5"/><circle cx="1301.6" cy="1442.4" r="7.5"/><circle cx="1378.1" cy="1442.4" r="7.5"/><circle cx="1385.8" cy="1442.4" r="7.5"/><circle cx="1393.4" cy="1442.4" r="7.5"/><circle cx="1401.1" cy="1442.4" r="7.5"/><circle cx="1408.7" cy="1442.4" r="7.5"/><circle cx="1416.4" cy="1442.4" r="7.5"/><circle cx="1424" cy="1442.4" r="7.5"/><circle cx="1431.7" cy="1442.4" r="7.5"/><circle cx="1439.3" cy="1442.4" r="7.5"/><circle cx="1592.4" cy="1442.4" r="7.5"/><circle cx="1600.1" cy="1442.4" r="7.5"/><circle cx="1607.7" cy="1442.4" r="7.5"/><circle cx="1615.4" cy="1442.4" r="7.5"/><circle cx="1699.6" cy="1442.4" r="7.5"/><circle cx="1707.2" cy="1442.4" r="7.5"/><circle cx="1714.9" cy="1442.4" r="7.5"/><circle cx="1722.5" cy="1442.4" r="7.5"/><circle cx="1730.2" cy="1442.4" r="7.5"/><circle cx="1737.8" cy="1442.4" r="7.5"/><circle cx="1745.5" cy="1442.4" r="7.5"/><circle cx="1753.1" cy="1442.4" r="7.5"/><circle cx="1837.3" cy="1442.4" r="7.5"/><circle cx="1845" cy="1442.4" r="7.5"/></g>
<g fill="#00ff00"><circle cx="23.3" cy="1442.4" r="7.5"/><circle cx="31" cy="1442.4" r="7.5"/><circle cx="38.7" cy="1442.4" r="7.5"/><circle cx="46.3" cy="1442.4" r="7.5"/><circle cx="54" cy="1442.4" r="7.5"/><circle cx="61.6" cy="1442.4" r="7.5"/><circle cx="69.3" cy="1442.4" r="7.5"/><circle cx="76.9" cy="1442.4" r="7.5"/><circle cx="84.6" cy="1442.4" r="7.5"/><circle cx="92.2" cy="1442.4" r="7.5"/><circle cx="99.9" cy="1442.4" r="7.5"/><circle cx="107.5" cy="1442.4" r="7.5"/><circle cx="115.2" cy="1442.4" r="7.5"/><circle cx="214.7" cy="1442.4" r="7.5"/><circle cx="222.3" cy="1442.4" r="7.5"/><circle cx="230" cy="1442.4" r="7.5"/><circle cx="237.7" cy="1442.4" r="7.5"/><circle cx="245.3" cy="1442.4" r="7.5"/><circle cx="253" cy="1442.4" r="7.5"/><circle cx="260.6" cy="1442.4" r="7.5"/><circle cx="268.3" cy="1442.4" r="7.5"/><circle cx="275.9" cy="1442.4" r="7.5"/><circle cx="283.6" cy="1442.4" r="7.5"/><circle cx="291.2" cy="1442.4" r="7.5"/><circle cx="459.6" cy="1442.4" r="7.5"/><circle cx="467.3" cy="1442.4" r="7.5"/><circle cx="474.9" cy="1442.4" r="7.5"/><circle cx="482.6" cy="1442.4" r="7.5"/><circle cx="490.2" cy="1442.4" r="7.5"/><circle cx="497.9" cy="1442.4" r="7.5"/><circle cx="505.5" cy="1442.4" r="7.5"/><circle cx="513.2" cy="1442.4" r="7.5"/><circle cx="520.9" cy="1442.4" r="7.5"/><circle cx="528.5" cy="1442.4" r="7.5"/><circle cx="536.2" cy="1442.4" r="7.5"/><circle cx="543.8" cy="1442.4" r="7.5"/><circle cx="589.7" cy="1442.4" r="7.5"/><circle cx="597.4" cy="1442.4" r="7.5"/><circle cx="605" cy="1442.4" r="7.5"/><circle cx="612.7" cy="1442.4" r="7.5"/><circle cx="834.7" cy="1442.4" r="7.5"/><circle cx="842.3" cy="1442.4" r="7.5"/><circle cx="850" cy="1442.4" r="7.5"/><circle cx="857.6" cy="1442.4" r="7.5"/><circle cx="865.3" cy="1442.4" r="7.5"/><circle cx="872.9" cy="1442.4" r="7.5"/><circle cx="880.6" cy="1442.4" r="7.5"/><circle cx="888.2" cy="1442.4" r="7.5"/><circle cx="895.9" cy="1442.4" r="7.5"/><circle cx="903.6" cy="1442.4" r="7.5"/><circle cx="911.2" cy="1442.4" r="7.5"/><circle cx="918.9" cy="1442.4" r="7.5"/><circle cx="926.5" cy="1442.4" r="7.5"/><circle cx="934.2" cy="1442.4" r="7.5"/><circle cx="941.8" cy="1442.4" r="7.5"/><circle cx="949.5" cy="1442.4" r="7.5"/><circle cx="957.1" cy="1442.4" r="7.5"/><circle cx="964.8" cy="1442.4" r="7.5"/><circle cx="972.4" cy="1442.4" r="7.5"/><circle cx="980.1" cy="1442.4" r="7.5"/><circle cx="987.7" cy="1442.4" r="7.5"/><circle cx="995.4" cy="1442.4" r="7.5"/><circle cx="1003.1" cy="1442.4" r="7.5"/><circle cx="1010.7" cy="1442.4" r="7.5"/><circle cx="1018.4" cy="1442.4" r="7.5"/><circle cx="1033.7" cy="1442.4" r="7.5"/><circle cx="1041.3" cy="1442.4" r="7.5"/><circle cx="1049" cy="1442.4" r="7.5"/><circle cx="1056.6" cy="1442.4" r="7.5"/><circle cx="1064.3" cy="1442.4" r="7.5"/><circle cx="1071.9" cy="1442.4" r="7.5"/><circle cx="1079.6" cy="1442.4" r="7.5"/><circle cx="1087.2" cy="1442.4" r="7.5"/><circle cx="1094.9" cy="1442.4" r="7.5"/><circle cx="1102.6" cy="1442.4" r="7.5"/><circle cx="1110.2" cy="1442.4" r="7.5"/><circle cx="1117.9" cy="1442.4" r="7.5"/><circle cx="1194.4" cy="1442.4" r="7.5"/><circle cx="1202.1" cy="1442.4" r="7.5"/><circle cx="1209.7" cy="1442.4" r="7.5"/><circle cx="1217.4" cy="1442.4" r="7.5"/><circle cx="1225" cy="1442.4" r="7.5"/><circle cx="1232.7" cy="1442.4" r="7.5"/><circle cx="1447" cy="1442.4" r="7.5"/><circle cx="1454.6" cy="1442.4" r="7.5"/><circle cx="1462.3" cy="1442.4" r="7.5"/><circle cx="1470" cy="1442.4" r="7.5"/><circle cx="1477.6" cy="1442.4" r="7.5"/><circle cx="1485.3" cy="1442.4" r="7.5"/><circle cx="1492.9" cy="1442.4" r="7.5"/><circle cx="1500.6" cy="1442.4" r="7.5"/><circle cx="1508.2" cy="1442.4" r="7.5"/><circle cx="1515.9" cy="1442.4" r="7.5"/><circle cx="1523.5" cy="1442.4" r="7.5"/><circle cx="1531.2" cy="1442.4" r="7.5"/><circle cx="1538.8" cy="1442.4" r="7.5"/><circle cx="1546.5" cy="1442.4" r="7.5"/><circle cx="1554.1" cy="1442.4" r="7.5"/><circle cx="1561.8" cy="1442.4" r="7.5"/><circle cx="1569.5" cy="1442.4" r="7.5"/><circle cx="1577.1" cy="1442.4" r="7.5"/><circle cx="1584.8" cy="1442.4" r="7.5"/><circle cx="1760.8" cy="1442.4" r="7.5"/><circle cx="1768.5" cy="1442.4" r="7.5"/><circle cx="1776.1" cy="1442.4" r="7.5"/><circle cx="1783.8" cy="1442.4" r="7.5"/><circle cx="1791.4" cy="1442.4" r="7.5"/><circle cx="1799.1" cy="1442.4" r="7.5"/><circle cx="1806.7" cy="1442.4" r="7.5"/><circle cx="1814.4" cy="1442.4" r="7.5"/><circle cx="1822" cy="1442.4" r="7.5"/><circle cx="1829.7" cy="1442.4" r="7.5"/><circle cx="1875.6" cy="1442.4" r="7.5"/><circle cx="1883.3" cy="1442.4" r="7.5"/><circle cx="1890.9" cy="1442.4" r="7.5"/><circle cx="1898.6" cy="1442.4" r="7.5"/><circle cx="1906.2" cy="1442.4" r="7.5"/><circle cx="1913.9" cy="1442.4" r="7.5"/></g>
<g fill="#ff0000"><circle cx="329.5" cy="1442.4" r="7.5"/><circle cx="337.2" cy="1442.4" r="7.5"/><circle cx="344.8" cy="1442.4" r="7.5"/><circle cx="352.5" cy="1442.4" r="7.5"/><circle cx="360.1" cy="1442.4" r="7.5"/><circle cx="367.8" cy="1442.4" r="7.5"/><circle cx="375.4" cy="1442.4" r="7.5"/><circle cx="383.1" cy="1442.4" r="7.5"/><circle cx="390.7" cy="1442.4" r="7.5"/><circle cx="398.4" cy="1442.4" r="7.5"/><circle cx="406" cy="1442.4" r="7.5"/><circle cx="413.7" cy="1442.4" r="7.5"/><circle cx="421.4" cy="1442.4" r="7.5"/><circle cx="635.7" cy="1442.4" r="7.5"/><circle cx="643.3" cy="1442.4" r="7.5"/><circle cx="651" cy="1442.4" r="7.5"/><circle cx="658.6" cy="1442.4" r="7.5"/><circle cx="666.3" cy="1442.4" r="7.5"/><circle cx="673.9" cy="1442.4" r="7.5"/><circle cx="681.6" cy="1442.4" r="7.5"/><circle cx="689.2" cy="1442.4" r="7.5"/><circle cx="696.9" cy="1442.4" r="7.5"/><circle cx="704.5" cy="1442.4" r="7.5"/><circle cx="765.8" cy="1442.4" r="7.5"/><circle cx="773.4" cy="1442.4" r="7.5"/><circle cx="781.1" cy="1442.4" r="7.5"/><circle cx="788.7" cy="1442.4" r="7.5"/><circle cx="1309.2" cy="1442.4" r="7.5"/><circle cx="1316.9" cy="1442.4" r="7.5"/><circle cx="1324.5" cy="1442.4" r="7.5"/><circle cx="1332.2" cy="1442.4" r="7.5"/><circle cx="1339.8" cy="1442.4" r="7.5"/><circle cx="1347.5" cy="1442.4" r="7.5"/><circle cx="1355.1" cy="1442.4" r="7.5"/><circle cx="1362.8" cy="1442.4" r="7.5"/><circle cx="1370.4" cy="1442.4" r="7.5"/><circle cx="1623" cy="1442.4" r="7.5"/><circle cx="1630.7" cy="1442.4" r="7.5"/><circle cx="1638.3" cy="1442.4" r="7.5"/><circle cx="1646" cy="1442.4" r="7.5"/><circle cx="1653.6" cy="1442.4" r="7.5"/><circle cx="1661.3" cy="1442.4" r="7.5"/><circle cx="1669" cy="1442.4" r="7.5"/><circle cx="1676.6" cy="1442.4" r="7.5"/><circle cx="1684.3" cy="1442.4" r="7.5"/><circle cx="1691.9" cy="1442.4" r="7.5"/><circle cx="1852.7" cy="1442.4" r="7.5"/><circle cx="1860.3" cy="1442.4" r="7.5"/><circle cx="1868" cy="1442.4" r="7.5"/></g>
</g>
<g>
<g fill="#00ff00"><circle cx="536.2" cy="1474.7" r="7.5"/><circle cx="543.8" cy="1474.7" r="7.5"/><circle cx="551.5" cy="1474.7" r="7.5"/><circle cx="559.1" cy="1474.7" r="7.5"/><circle cx="566.8" cy="1474.7" r="7.5"/><circle cx="574.4" cy="1474.7" r="7.5"/><circle cx="582.1" cy="1474.7" r="7.5"/><circle cx="589.7" cy="1474.7" r="7.5"/><circle cx="597.4" cy="1474.7" r="7.5"/><circle cx="605" cy="1474.7" r="7.5"/><circle cx="612.7" cy="1474.7" r="7.5"/><circle cx="620.4" cy="1474.7" r="7.5"/><circle cx="628" cy="1474.7" r="7.5"/><circle cx="635.7" cy="1474.7" r="7.5"/><circle cx="643.3" cy="1474.7" r="7.5"/><circle cx="651" cy="1474.7" r="7.5"/><circle cx="658.6" cy="1474.7" r="7.5"/><circle cx="865.3" cy="1474.7" r="7.5"/><circle cx="872.9" cy="1474.7" r="7.5"/><circle cx="880.6" cy="1474.7" r="7.5"/><circle cx="888.2" cy="1474.7" r="7.5"/><circle cx="895.9" cy="1474.7" r="7.5"/><circle cx="903.6" cy="1474.7" r="7.5"/><circle cx="911.2" cy="1474.7" r="7.5"/><circle cx="918.9" cy="1474.7" r="7.5"/><circle cx="926.5" cy="1474.7" r="7.5"/><circle cx="934.2" cy="1474.7" r="7.5"/><circle cx="941.8" cy="1474.7" r="7.5"/><circle cx="949.5" cy="1474.7" r="7.5"/><circle cx="957.1" cy="1474.7" r="7.5"/><circle cx="964.8" cy="1474.7" r="7.5"/><circle cx="972.4" cy="1474.7" r="7.5"/><circle cx="980.1" cy="1474.7" r="7.5"/><circle cx="987.7" cy="1474.7" r="7.5"/><circle cx="995.4" cy="1474.7" r="7.5"/><circle cx="1003.1" cy="1474.7" r="7.5"/><circle cx="1010.7" cy="1474.7" r="7.5"/><circle cx="1018.4" cy="1474.7" r="7.5"/><circle cx="1026" cy="1474.7" r="7.5"/><circle cx="1033.7" cy="1474.7" r="7.5"/><circle cx="1041.3" cy="1474.7" r="7.5"/><circle cx="1049" cy="1474.7" r="7.5"/><circle cx="1056.6" cy="1474.7" r="7.5"/><circle cx="1064.3" cy="1474.7" r="7.5"/><circle cx="1071.9" cy="1474.7" r="7.5"/><circle cx="1079.6" cy="1474.7" r="7.5"/><circle cx="1087.2" cy="1474.7" r="7.5"/><circle cx="1094.9" cy="1474.7" r="7.5"/><circle cx="1102.6" cy="1474.7" r="7.5"/><circle cx="1110.2" cy="1474.7" r="7.5"/><circle cx="1117.9" cy="1474.7" r="7.5"/><circle cx="1125.5" cy="1474.7" r="7.5"/><circle cx="1133.2" cy="1474.7" r="7.5"/><circle cx="1140.8" cy="1474.7" r="7.5"/><circle cx="1148.5" cy="1474.7" r="7.5"/><circle cx="1156.1" cy="1474.7" r="7.5"/><circle cx="1163.8" cy="1474.7" r="7.5"/><circle cx="1171.4" cy="1474.7" r="7.5"/><circle cx="1179.1" cy="1474.7" r="7.5"/><circle cx="1186.8" cy="1474.7" r="7.5"/><circle cx="1194.4" cy="1474.7" r="7.5"/><circle cx="1202.1" cy="1474.7" r="7.5"/><circle cx="1209.7" cy="1474.7" r="7.5"/><circle cx="1217.4" cy="1474.7" r="7.5"/><circle cx="1225" cy="1474.7" r="7.5"/><circle cx="1232.7" cy="1474.7" r="7.5"/><circle cx="1240.3" cy="1474.7" r="7.5"/><circle cx="1248" cy="1474.7" r="7.5"/><circle cx="1255.6" cy="1474.7" r="7.5"/><circle cx="1263.3" cy="1474.7" r="7.5"/><circle cx="1270.9" cy="1474.7" r="7.5"/><circle cx="1278.6" cy="1474.7" r="7.5"/><circle cx="1286.3" cy="1474.7" r="7.5"/><circle cx="1293.9" cy="1474.7" r="7.5"/><circle cx="1301.6" cy="1474.7" r="7.5"/><circle cx="1309.2" cy="1474.7" r="7.5"/><circle cx="1316.9" cy="1474.7" r="7.5"/><circle cx="1324.5" cy="1474.7" r="7.5"/><circle cx="1508.2" cy="1474.7" r="7.5"/><circle cx="1515.9" cy="1474.7" r="7.5"/><circle cx="1523.5" cy="1474.7" r="7.5"/><circle cx="1531.2" cy="1474.7" r="7.5"/><circle cx="1538.8" cy="1474.7" r="7.5"/><circle cx="1546.5" cy="1474.7" r="7.5"/><circle cx="1554.1" cy="1474.7" r="7.5"/><circle cx="1561.8" cy="1474.7" r="7.5"/><circle cx="1569.5" cy="1474.7" r="7.5"/><circle cx="1577.1" cy="1474.7" r="7.5"/><circle cx="1584.8" cy="1474.7" r="7.5"/><circle cx="1592.4" cy="1474.7" r="7.5"/><circle cx="1600.1" cy="1474.7" r="7.5"/><circle cx="1607.7" cy="1474.7" r="7.5"/><circle cx="1615.4" cy="1474.7" r="7.5"/><circle cx="1623" cy="1474.7" r="7.5"/><circle cx="1630.7" cy="1474.7" r="7.5"/><circle cx="1638.3" cy="1474.7" r="7.5"/><circle cx="1646" cy="1474.7" r="7.5"/><circle cx="1890.9" cy="1474.7" r="7.5"/><circle cx="1898.6" cy="1474.7" r="7.5"/><circle cx="1906.2" cy="1474.7" r="7.5"/><circle cx="1913.9" cy="1474.7" r="7.5"/></g>
<g fill="#000000"><circle cx="666.3" cy="1474.7" r="7.5"/><circle cx="673.9" cy="1474.7" r="7.5"/><circle cx="681.6" cy="1474.7" r="7.5"/><circle cx="1332.2" cy="1474.7" r="7.5"/><circle cx="1339.8" cy="1474.7" r="7.5"/><circle cx="1653.6" cy="1474.7" r="7.5"/></g>
<g fill="#ff0000"><circle cx="406" cy="1474.7" r="7.5"/><circle cx="413.7" cy="1474.7" r="7.5"/><circle cx="421.4" cy="1474.7" r="7.5"/><circle cx="429" cy="1474.7" r="7.5"/><circle cx="436.7" cy="1474.7" r="7.5"/><circle cx="444.3" cy="1474.7" r="7.5"/><circle cx="452" cy="1474.7" r="7.5"/><circle cx="459.6" cy="1474.7" r="7.5"/><circle cx="467.3" cy="1474.7" r="7.5"/><circle cx="474.9" cy="1474.7" r="7.5"/><circle cx="482.6" cy="1474.7" r="7.5"/><circle cx="490.2" cy="1474.7" r="7.5"/><circle cx="497.9" cy="1474.7" r="7.5"/><circle cx="505.5" cy="1474.7" r="7.5"/><circle cx="513.2" cy="1474.7" r="7.5"/><circle cx="520.9" cy="1474.7" r="7.5"/><circle cx="689.2" cy="1474.7" r="7.5"/><circle cx="696.9" cy="1474.7" r="7.5"/><circle cx="704.5" cy="1474.7" r="7.5"/><circle cx="712.2" cy="1474.7" r="7.5"/><circle cx="719.9" cy="1474.7" r="7.5"/><circle cx="727.5" cy="1474.7" r="7.5"/><circle cx="735.2" cy="1474.7" r="7.5"/><circle cx="742.8" cy="1474.7" r="7.5"/><circle cx="750.5" cy="1474.7" r="7.5"/><circle cx="758.1" cy="1474.7" r="7.5"/><circle cx="765.8" cy="1474.7" r="7.5"/><circle cx="773.4" cy="1474.7" r="7.5"/><circle cx="781.1" cy="1474.7" r="7.5"/><circle cx="788.7" cy="1474.7" r="7.5"/><circle cx="796.4" cy="1474.7" r="7.5"/><circle cx="804.1" cy="1474.7" r="7.5"/><circle cx="811.7" cy="1474.7" r="7.5"/><circle cx="819.4" cy="1474.7" r="7.5"/><circle cx="827" cy="1474.7" r="7.5"/><circle cx="834.7" cy="1474.7" r="7.5"/><circle cx="842.3" cy="1474.7" r="7.5"/><circle cx="850" cy="1474.7" r="7.5"/><circle cx="1347.5" cy="1474.7" r="7.5"/><circle cx="1355.1" cy="1474.7" r="7.5"/><circle cx="1362.8" cy="1474.7" r="7.5"/><circle cx="1370.4" cy="1474.7" r="7.5"/><circle cx="1378.1" cy="1474.7" r="7.5"/><circle cx="1385.8" cy="1474.7" r="7.5"/><circle cx="1393.4" cy="1474.7" r="7.5"/><circle cx="1401.1" cy="1474.7" r="7.5"/><circle cx="1408.7" cy="1474.7" r="7.5"/><circle cx="1416.4" cy="1474.7" r="7.5"/><circle cx="1424" cy="1474.7" r="7.5"/><circle cx="1431.7" cy="1474.7" r="7.5"/><circle cx="1439.3" cy="1474.7" r="7.5"/><circle cx="1447" cy="1474.7" r="7.5"/><circle cx="1454.6" cy="1474.7" r="7.5"/><circle cx="1462.3" cy="1474.7" r="7.5"/><circle cx="1470" cy="1474.7" r="7.5"/><circle cx="1477.6" cy="1474.7" r="7.5"/><circle cx="1485.3" cy="1474.7" r="7.5"/><circle cx="1661.3" cy="1474.7" r="7.5"/><circle cx="1669" cy="1474.7" r="7.5"/><circle cx="1676.6" cy="1474.7" r="7.5"/><circle cx="1684.3" cy="1474.7" r="7.5"/><circle cx="1691.9" cy="1474.7" r="7.5"/><circle cx="1699.6" cy="1474.7" r="7.5"/><circle cx="1707.2" cy="1474.7" r="7.5"/><circle cx="1714.9" cy="1474.7" r="7.5"/><circle cx="1722.5" cy="1474.7" r="7.5"/><circle cx="1730.2" cy="1474.7" r="7.5"/><circle cx="1737.8" cy="1474.7" r="7.5"/><circle cx="1745.5" cy="1474.7" r="7.5"/><circle cx="1753.1" cy="1474.7" r="7.5"/><circle cx="1760.8" cy="1474.7" r="7.5"/><circle cx="1768.5" cy="1474.7" r="7.5"/><circle cx="1776.1" cy="1474.7" r="7.5"/><circle cx="1783.8" cy="1474.7" r="7.5"/><circle cx="1791.4" cy="1474.7" r="7.5"/><circle cx="1799.1" cy="1474.7" r="7.5"/><circle cx="1806.7" cy="1474.7" r="7.5"/><circle cx="1814.4" cy="1474.7" r="7.5"/><circle cx="1822" cy="1474.7" r="7.5"/><circle cx="1829.7" cy="1474.7" r="7.5"/><circle cx="1837.3" cy="1474.7" r="7.5"/><circle cx="1845" cy="1474.7" r="7.5"/><circle cx="1852.7" cy="1474.7" r="7.5"/><circle cx="1860.3" cy="1474.7" r="7.5"/><circle cx="1868" cy="1474.7" r="7.5"/><circle cx="1875.6" cy="1474.7" r="7.5"/></g>
<g fill="#ffff00"><circle cx="528.5" cy="1474.7" r="7.5"/><circle cx="857.6" cy="1474.7" r="7.5"/><circle cx="1492.9" cy="1474.7" r="7.5"/><circle cx="1500.6" cy="1474.7" r="7.5"/><circle cx="1883.3" cy="1474.7" r="7.5"/></g>
</g>
<g>
<g fill="#00ff00"><circle cx="0.4" cy="1525.4" r="7.5"/><circle cx="8" cy="1525.4" r="7.5"/><circle cx="15.7" cy="1525.4" r="7.5"/><circle cx="23.3" cy="1525.4" r="7.5"/><circle cx="31" cy="1525.4" r="7.5"/><circle cx="38.7" cy="1525.4" r="7.5"/></g>
<g fill="#ff0000"><circle cx="46.3" cy="1525.4" r="7.5"/><circle cx="54" cy="1525.4" r="7.5"/><circle cx="61.6" cy="1525.4" r="7.5"/></g>
<g fill="#00ff00"><circle cx="69.3" cy="1525.4" r="7.5"/></g>
<g fill="#ff0000"><circle cx="76.9" cy="1525.4" r="7.5"/><circle cx="84.6" cy="1525.4" r="7.5"/></g>
<g fill="#00ff00"><circle cx="92.2" cy="1525.4" r="7.5"/></g>
<g fill="#ff0000"><circle cx="99.9" cy="1525.4" r="7.5"/><circle cx="107.5" cy="1525.4" r="7.5"/><circle cx="115.2" cy="1525.4" r="7.5"/><circle cx="122.8" cy="1525.4" r="7.5"/><circle cx="130.5" cy="1525.4" r="7.5"/><circle cx="138.2" cy="1525.4" r="7.5"/></g>
<g fill="#00ff00"><circle cx="145.8" cy="1525.4" r="7.5"/></g>
<g fill="#ff0000"><circle cx="153.5" cy="1525.4" r="7.5"/><circle cx="161.1" cy="1525.4" r="7.5"/><circle cx="168.8" cy="1525.4" r="7.5"/><circle cx="176.4" cy="1525.4" r="7.5"/><circle cx="184.1" cy="1525.4" r="7.5"/><circle cx="191.7" cy="1525.4" r="7.5"/></g>
<g fill="#00ff00"><circle cx="199.4" cy="1525.4" r="7.5"/><circle cx="207" cy="1525.4" r="7.5"/><circle cx="214.7" cy="1525.4" r="7.5"/><circle cx="222.3" cy="1525.4" r="7.5"/><circle cx="230" cy="1525.4" r="7.5"/><circle cx="237.7" cy="1525.4" r="7.5"/><circle cx="245.3" cy="1525.4" r="7.5"/></g>
<g fill="#ff0000"><circle cx="253" cy="1525.4" r="7.5"/><circle cx="260.6" cy="1525.4" r="7.5"/><circle cx="268.3" cy="1525.4" r="7.5"/><circle cx="275.9" cy="1525.4" r="7.5"/><circle cx="283.6" cy="1525.4" r="7.5"/><circle cx="291.2" cy="1525.4" r="7.5"/><circle cx="298.9" cy="1525.4" r="7.5"/><circle cx="306.5" cy="1525.4" r="7.5"/><circle cx="314.2" cy="1525.4" r="7.5"/><circle cx="321.9" cy="1525.4" r="7.5"/><circle cx="329.5" cy="1525.4" r="7.5"/><circle cx="337.2" cy="1525.4" r="7.5"/></g>
<g fill="#00ff00"><circle cx="344.8" cy="1525.4" r="7.5"/><circle cx="352.5" cy="1525.4" r="7.5"/><circle cx="360.1" cy="1525.4" r="7.5"/><circle cx="367.8" cy="1525.4" r="7.5"/></g>
<g fill="#ff0000"><circle cx="375.4" cy="1525.4" r="7.5"/><circle cx="383.1" cy="1525.4" r="7.5"/><circle cx="390.7" cy="1525.4" r="7.5"/><circle cx="398.4" cy="1525.4" r="7.5"/><circle cx="406" cy="1525.4" r="7.5"/><circle cx="413.7" cy="1525.4" r="7.5"/><circle cx="421.4" cy="1525.4" r="7.5"/></g>
<g fill="#00ff00"><circle cx="429" cy="1525.4" r="7.5"/><circle cx="436.7" cy="1525.4" r="7.5"/><circle cx="444.3" cy="1525.4" r="7.5"/><circle cx="452" cy="1525.4" r="7.5"/><circle cx="459.6" cy="1525.4" r="7.5"/><circle cx="467.3" cy="1525.4" r="7.5"/><circle cx="474.9" cy="1525.4" r="7.5"/></g>
<g fill="#ff0000"><circle cx="482.6" cy="1525.4" r="7.5"/><circle cx="490.2" cy="1525.4" r="7.5"/><circle cx="497.9" cy="1525.4" r="7.5"/><circle cx="505.5" cy="1525.4" r="7.5"/></g>
<g fill="#00ff00"><circle cx="513.2" cy="1525.4" r="7.5"/><circle cx="520.9" cy="1525.4" r="7.5"/></g>
<g fill="#ff0000"><circle cx="528.5" cy="1525.4" r="7.5"/><circle cx="536.2" cy="1525.4" r="7.5"/><circle cx="543.8" cy="1525.4" r="7.5"/><circle cx="551.5" cy="1525.4" r="7.5"/><circle cx="559.1" cy="1525.4" r="7.5"/><circle cx="566.8" cy="1525.4" r="7.5"/></g>
<g fill="#00ff00"><circle cx="574.4" cy="1525.4" r="7.5"/><circle cx="582.1" cy="1525.4" r="7.5"/><circle cx="589.7" cy="1525.4" r="7.5"/><circle cx="597.4" cy="1525.4" r="7.5"/><circle cx="605" cy="1525.4" r="7.5"/></g>
<g fill="#ff0000"><circle cx="612.7" cy="1525.4" r="7.5"/><circle cx="620.4" cy="1525.4" r="7.5"/><circle cx="628" cy="1525.4" r="7.5"/><circle cx="635.7" cy="1525.4" r="7.5"/><circle cx="643.3" cy="1525.4" r="7.5"/><circle cx="651" cy="1525.4" r="7.5"/><circle cx="658.6" cy="1525.4" r="7.5"/></g>
<g fill="#00ff00"><circle cx="666.3" cy="1525.4" r="7.5"/><circle cx="673.9" cy="1525.4" r="7.5"/><circle cx="681.6" cy="1525.4" r="7.5"/><circle cx="689.2" cy="1525.4" r="7.5"/><circle cx="696.9" cy="1525.4" r="7.5"/><circle cx="704.5" cy="1525.4" r="7.5"/></g>
<g fill="#ff0000"><circle cx="712.2" cy="1525.4" r="7.5"/></g>
<g fill="#00ff00"><circle cx="719.9" cy="1525.4" r="7.5"/></g>
<g fill="#ff0000"><circle cx="727.5" cy="1525.4" r="7.5"/><circle cx="735.2" cy="1525.4" r="7.5"/><circle cx="742.8" cy="1525.4" r="7.5"/><circle cx="750.5" cy="1525.4" r="7.5"/><circle cx="758.1" cy="1525.4" r="7.5"/><circle cx="765.8" cy="1525.4" r="7.5"/></g>
<g fill="#00ff00"><circle cx="773.4" cy="1525.4" r="7.5"/><circle cx="781.1" cy="1525.4" r="7.5"/><circle cx="788.7" cy="1525.4" r="7.5"/><circle cx="796.4" cy="1525.4" r="7.5"/><circle cx="804.1" cy="1525.4" r="7.5"/><circle cx="811.7" cy="1525.4" r="7.5"/><circle cx="819.4" cy="1525.4" r="7.5"/><circle cx="827" cy="1525.4" r="7.5"/><circle cx="834.7" cy="1525.4" r="7.5"/><circle cx="842.3" cy="1525.4" r="7.5"/><circle cx="850" cy="1525.4" r="7.5"/><circle cx="857.6" cy="1525.4" r="7.5"/></g>
<g fill="#ff0000"><circle cx="865.3" cy="1525.4" r="7.5"/></g>
<g fill="#00ff00"><circle cx="872.9" cy="1525.4" r="7.5"/><circle cx="880.6" cy="1525.4" r="7.5"/><circle cx="888.2" cy="1525.4" r="7.5"/><circle cx="895.9" cy="1525.4" r="7.5"/><circle cx="903.6" cy="1525.4" r="7.5"/></g>
<g fill="#ff0000"><circle cx="911.2" cy="1525.4" r="7.5"/></g>
<g fill="#00ff00"><circle cx="918.9" cy="1525.4" r="7.5"/><circle cx="926.5" cy="1525.4" r="7.5"/></g>
<g fill="#ff0000"><circle cx="934.2" cy="1525.4" r="7.5"/></g>
<g fill="#00ff00"><circle cx="941.8" cy="1525.4" r="7.5"/><circle cx="949.5" cy="1525.4" r="7.5"/><circle cx="957.1" cy="1525.4" r="7.5"/></g>
<g fill="#ff0000"><circle cx="964.8" cy="1525.4" r="7.5"/></g>
<g fill="#00ff00"><circle cx="972.4" cy="1525.4" r="7.5"/></g>
<g fill="#ff0000"><circle cx="980.1" cy="1525.4" r="7.5"/><circle cx="987.7" cy="1525.4" r="7.5"/><circle cx="995.4" cy="1525.4" r="7.5"/><circle cx="1003.1" cy="1525.4" r="7.5"/><circle cx="1010.7" cy="1525.4" r="7.5"/></g>
<g fill="#00ff00"><circle cx="1018.4" cy="1525.4" r="7.5"/><circle cx="1026" cy="1525.4" r="7.5"/><circle cx="1033.7" cy="1525.4" r="7.5"/><circle cx="1041.3" cy="1525.4" r="7.5"/><circle cx="1049" cy="1525.4" r="7.5"/><circle cx="1056.6" cy="1525.4" r="7.5"/><circle cx="1064.3" cy="1525.4" r="7.5"/></g>
<g fill="#ff0000"><circle cx="1071.9" cy="1525.4" r="7.5"/></g>
<g fill="#00ff00"><circle cx="1079.6" cy="1525.4" r="7.5"/></g>
<g fill="#ff0000"><circle cx="1087.2" cy="1525.4" r="7.5"/><circle cx="1094.9" cy="1525.4" r="7.5"/><circle cx="1102.6" cy="1525.4" r="7.5"/><circle cx="1110.2" cy="1525.4" r="7.5"/><circle cx="1117.9" cy="1525.4" r="7.5"/><circle cx="1125.5" cy="1525.4" r="7.5"/></g>
<g fill="#00ff00"><circle cx="1133.2" cy="1525.4" r="7.5"/><circle cx="1140.8" cy="1525.4" r="7.5"/></g>
<g fill="#ff0000"><circle cx="1148.5" cy="1525.4" r="7.5"/><circle cx="1156.1" cy="1525.4" r="7.5"/></g>
<g fill="#00ff00"><circle cx="1163.8" cy="1525.4" r="7.5"/><circle cx="1171.4" cy="1525.4" r="7.5"/><circle cx="1179.1" cy="1525.4" r="7.5"/><circle cx="1186.8" cy="1525.4" r="7.5"/><circle cx="1194.4" cy="1525.4" r="7.5"/><circle cx="1202.1" cy="1525.4" r="7.5"/><circle cx="1209.7" cy="1525.4" r="7.5"/></g>
<g fill="#ff0000"><circle cx="1217.4" cy="1525.4" r="7.5"/><circle cx="1225" cy="1525.4" r="7.5"/><circle cx="1232.7" cy="1525.4" r="7.5"/><circle cx="1240.3" cy="1525.4" r="7.5"/><circle cx="1248" cy="1525.4" r="7.5"/><circle cx="1255.6" cy="1525.4" r="7.5"/><circle cx="1263.3" cy="1525.4" r="7.5"/><circle cx="1270.9" cy="1525.4" r="7.5"/><circle cx="1278.6" cy="1525.4" r="7.5"/><circle cx="1286.3" cy="1525.4" r="7.5"/><circle cx="1293.9" cy="1525.4" r="7.5"/><circle cx="1301.6" cy="1525.4" r="7.5"/><circle cx="1309.2" cy="1525.4" r="7.5"/><circle cx="1316.9" cy="1525.4" r="7.5"/><circle cx="1324.5" cy="1525.4" r="7.5"/><circle cx="1332.2" cy="1525.4" r="7.5"/><circle cx="1339.8" cy="1525.4" r="7.5"/><circle cx="1347.5" cy="1525.4" r="7.5"/><circle cx="1355.1" cy="1525.4" r="7.5"/></g>
<g fill="#00ff00"><circle cx="1362.8" cy="1525.4" r="7.5"/></g>
<g fill="#ff0000"><circle cx="1370.4" cy="1525.4" r="7.5"/><circle cx="1378.1" cy="1525.4" r="7.5"/><circle cx="1385.8" cy="1525.4" r="7.5"/><circle cx="1393.4" cy="1525.4" r="7.5"/><circle cx="1401.1" cy="1525.4" r="7.5"/></g>
<g fill="#00ff00"><circle cx="1408.7" cy="1525.4" r="7.5"/><circle cx="1416.4" cy="1525.4" r="7.5"/><circle cx="1424" cy="1525.4" r="7.5"/><circle cx="1431.7" cy="1525.4" r="7.5"/><circle cx="1439.3" cy="1525.4" r="7.5"/><circle cx="1447" cy="1525.4" r="7.5"/><circle cx="1454.6" cy="1525.4" r="7.5"/><circle cx="1462.3" cy="1525.4" r="7.5"/><circle cx="1470" cy="1525.4" r="7.5"/><circle cx="1477.6" cy="1525.4" r="7.5"/><circle cx="1485.3" cy="1525.4" r="7.5"/><circle cx="1492.9" cy="1525.4" r="7.5"/><circle cx="1500.6" cy="1525.4" r="7.5"/><circle cx="1508.2" cy="1525.4" r="7.5"/></g>
<g fill="#ff0000"><circle cx="1515.9" cy="1525.4" r="7.5"/><circle cx="1523.5" cy="1525.4" r="7.5"/><circle cx="1531.2" cy="1525.4" r="7.5"/></g>
<g fill="#00ff00"><circle cx="1538.8" cy="1525.4" r="7.5"/><circle cx="1546.5" cy="1525.4" r="7.5"/><circle cx="1554.1" cy="1525.4" r="7.5"/><circle cx="1561.8" cy="1525.4" r="7.5"/><circle cx="1569.5" cy="1525.4" r="7.5"/></g>
<g fill="#ff0000"><circle cx="1577.1" cy="1525.4" r="7.5"/><circle cx="1584.8" cy="1525.4" r="7.5"/><circle cx="1592.4" cy="1525.4" r="7.5"/><circle cx="1600.1" cy="1525.4" r="7.5"/><circle cx="1607.7" cy="1525.4" r="7.5"/><circle cx="1615.4" cy="1525.4" r="7.5"/><circle cx="1623" cy="1525.4" r="7.5"/><circle cx="1630.7" cy="1525.4" r="7.5"/><circle cx="1638.3" cy="1525.4" r="7.5"/><circle cx="1646" cy="1525.4" r="7.5"/><circle cx="1653.6" cy="1525.4" r="7.5"/><circle cx="1661.3" cy="1525.4" r="7.5"/><circle cx="1669" cy="1525.4" r="7.5"/></g>
<g fill="#00ff00"><circle cx="1676.6" cy="1525.4" r="7.5"/><circle cx="1684.3" cy="1525.4" r="7.5"/><circle cx="1691.9" cy="1525.4" r="7.5"/><circle cx="1699.6" cy="1525.4" r="7.5"/><circle cx="1707.2" cy="1525.4" r="7.5"/><circle cx="1714.9" cy="1525.4" r="7.5"/><circle cx="1722.5" cy="1525.4" r="7.5"/><circle cx="1730.2" cy="1525.4" r="7.5"/><circle cx="1737.8" cy="1525.4" r="7.5"/><circle cx="1745.5" cy="1525.4" r="7.5"/><circle cx="1753.1" cy="1525.4" r="7.5"/></g>
<g fill="#ff0000"><circle cx="1760.8" cy="1525.4" r="7.5"/><circle cx="1768.5" cy="1525.4" r="7.5"/></g>
<g fill="#00ff00"><circle cx="1776.1" cy="1525.4" r="7.5"/></g>
<g fill="#ff0000"><circle cx="1783.8" cy="1525.4" r="7.5"/><circle cx="1791.4" cy="1525.4" r="7.5"/></g>
<g fill="#00ff00"><circle cx="1799.1" cy="1525.4" r="7.5"/><circle cx="1806.7" cy="1525.4" r="7.5"/><circle cx="1814.4" cy="1525.4" r="7.5"/><circle cx="1822" cy="1525.4" r="7.5"/></g>
<g fill="#ff0000"><circle cx="1829.7" cy="1525.4" r="7.5"/><circle cx="1837.3" cy="1525.4" r="7.5"/><circle cx="1845" cy="1525.4" r="7.5"/><circle cx="1852.7" cy="1525.4" r="7.5"/><circle cx="1860.3" cy="1525.4" r="7.5"/><circle cx="1868" cy="1525.4" r="7.5"/></g>
<g fill="#00ff00"><circle cx="1875.6" cy="1525.4" r="7.5"/><circle cx="1883.3" cy="1525.4" r="7.5"/><circle cx="1890.9" cy="1525.4" r="7.5"/><circle cx="1898.6" cy="1525.4" r="7.5"/><circle cx="1906.2" cy="1525.4" r="7.5"/><circle cx="1913.9" cy="1525.4" r="7.5"/></g>
<g fill="#ff0000"><circle cx="15.7" cy="1525.4" r="3.4"/><circle cx="23.3" cy="1525.4" r="3.4"/><circle cx="31" cy="1525.4" r="3.4"/><circle cx="38.7" cy="1525.4" r="3.4"/><circle cx="237.7" cy="1525.4" r="3.4"/><circle cx="245.3" cy="1525.4" r="3.4"/><circle cx="467.3" cy="1525.4" r="3.4"/><circle cx="474.9" cy="1525.4" r="3.4"/><circle cx="850" cy="1525.4" r="3.4"/><circle cx="857.6" cy="1525.4" r="3.4"/><circle cx="872.9" cy="1525.4" r="3.4"/><circle cx="880.6" cy="1525.4" r="3.4"/><circle cx="888.2" cy="1525.4" r="3.4"/><circle cx="895.9" cy="1525.4" r="3.4"/><circle cx="903.6" cy="1525.4" r="3.4"/><circle cx="918.9" cy="1525.4" r="3.4"/><circle cx="926.5" cy="1525.4" r="3.4"/><circle cx="941.8" cy="1525.4" r="3.4"/><circle cx="949.5" cy="1525.4" r="3.4"/><circle cx="957.1" cy="1525.4" r="3.4"/><circle cx="1033.7" cy="1525.4" r="3.4"/><circle cx="1041.3" cy="1525.4" r="3.4"/><circle cx="1049" cy="1525.4" r="3.4"/><circle cx="1056.6" cy="1525.4" r="3.4"/><circle cx="1064.3" cy="1525.4" r="3.4"/><circle cx="1171.4" cy="1525.4" r="3.4"/><circle cx="1179.1" cy="1525.4" r="3.4"/><circle cx="1186.8" cy="1525.4" r="3.4"/><circle cx="1194.4" cy="1525.4" r="3.4"/><circle cx="1202.1" cy="1525.4" r="3.4"/><circle cx="1209.7" cy="1525.4" r="3.4"/><circle cx="1477.6" cy="1525.4" r="3.4"/><circle cx="1485.3" cy="1525.4" r="3.4"/><circle cx="1492.9" cy="1525.4" r="3.4"/><circle cx="1500.6" cy="1525.4" r="3.4"/><circle cx="1508.2" cy="1525.4" r="3.4"/><circle cx="1561.8" cy="1525.4" r="3.4"/><circle cx="1569.5" cy="1525.4" r="3.4"/><circle cx="1898.6" cy="1525.4" r="3.4"/><circle cx="1906.2" cy="1525.4" r="3.4"/><circle cx="1913.9" cy="1525.4" r="3.4"/></g>
<g fill="#00ff00"><circle cx="1332.2" cy="1525.4" r="3.4"/><circle cx="1339.8" cy="1525.4" r="3.4"/><circle cx="1347.5" cy="1525.4" r="3.4"/><circle cx="1355.1" cy="1525.4" r="3.4"/><circle cx="1370.4" cy="1525.4" r="3.4"/><circle cx="1378.1" cy="1525.4" r="3.4"/><circle cx="1385.8" cy="1525.4" r="3.4"/><circle cx="1393.4" cy="1525.4" r="3.4"/><circle cx="1401.1" cy="1525.4" r="3.4"/><circle cx="1638.3" cy="1525.4" r="3.4"/><circle cx="1646" cy="1525.4" r="3.4"/><circle cx="1653.6" cy="1525.4" r="3.4"/><circle cx="1661.3" cy="1525.4" r="3.4"/><circle cx="1669" cy="1525.4" r="3.4"/></g>
</g>
<g>
<g fill="#00ff00"><circle cx="0.4" cy="1553.5" r="7.5"/><circle cx="8" cy="1553.5" r="7.5"/><circle cx="15.7" cy="1553.5" r="7.5"/><circle cx="23.3" cy="1553.5" r="7.5"/><circle cx="31" cy="1553.5" r="7.5"/><circle cx="38.7" cy="1553.5" r="7.5"/><circle cx="46.3" cy="1553.5" r="7.5"/><circle cx="54" cy="1553.5" r="7.5"/><circle cx="61.6" cy="1553.5" r="7.5"/><circle cx="69.3" cy="1553.5" r="7.5"/><circle cx="76.9" cy="1553.5" r="7.5"/></g>
<g fill="#ff0000"><circle cx="84.6" cy="1553.5" r="7.5"/></g>
<g fill="#00ff00"><circle cx="92.2" cy="1553.5" r="7.5"/></g>
<g fill="#ff0000"><circle cx="99.9" cy="1553.5" r="7.5"/></g>
<g fill="#00ff00"><circle cx="107.5" cy="1553.5" r="7.5"/></g>
<g fill="#ff0000"><circle cx="115.2" cy="1553.5" r="7.5"/><circle cx="122.8" cy="1553.5" r="7.5"/><circle cx="130.5" cy="1553.5" r="7.5"/><circle cx="138.2" cy="1553.5" r="7.5"/><circle cx="145.8" cy="1553.5" r="7.5"/><circle cx="153.5" cy="1553.5" r="7.5"/><circle cx="161.1" cy="1553.5" r="7.5"/><circle cx="168.8" cy="1553.5" r="7.5"/><circle cx="176.4" cy="1553.5" r="7.5"/><circle cx="184.1" cy="1553.5" r="7.5"/><circle cx="191.7" cy="1553.5" r="7.5"/><circle cx="199.4" cy="1553.5" r="7.5"/><circle cx="207" cy="1553.5" r="7.5"/></g>
<g fill="#00ff00"><circle cx="214.7" cy="1553.5" r="7.5"/><circle cx="222.3" cy="1553.5" r="7.5"/><circle cx="230" cy="1553.5" r="7.5"/><circle cx="237.7" cy="1553.5" r="7.5"/><circle cx="245.3" cy="1553.5" r="7.5"/><circle cx="253" cy="1553.5" r="7.5"/><circle cx="260.6" cy="1553.5" r="7.5"/><circle cx="268.3" cy="1553.5" r="7.5"/></g>
<g fill="#ff0000"><circle cx="275.9" cy="1553.5" r="7.5"/><circle cx="283.6" cy="1553.5" r="7.5"/><circle cx="291.2" cy="1553.5" r="7.5"/><circle cx="298.9" cy="1553.5" r="7.5"/><circle cx="306.5" cy="1553.5" r="7.5"/><circle cx="314.2" cy="1553.5" r="7.5"/><circle cx="321.9" cy="1553.5" r="7.5"/><circle cx="329.5" cy="1553.5" r="7.5"/><circle cx="337.2" cy="1553.5" r="7.5"/><circle cx="344.8" cy="1553.5" r="7.5"/><circle cx="352.5" cy="1553.5" r="7.5"/><circle cx="360.1" cy="1553.5" r="7.5"/><circle cx="367.8" cy="1553.5" r="7.5"/><circle cx="375.4" cy="1553.5" r="7.5"/><circle cx="383.1" cy="1553.5" r="7.5"/><circle cx="390.7" cy="1553.5" r="7.5"/></g>
<g fill="#00ff00"><circle cx="398.4" cy="1553.5" r="7.5"/></g>
<g fill="#ff0000"><circle cx="406" cy="1553.5" r="7.5"/><circle cx="413.7" cy="1553.5" r="7.5"/><circle cx="421.4" cy="1553.5" r="7.5"/><circle cx="429" cy="1553.5" r="7.5"/><circle cx="436.7" cy="1553.5" r="7.5"/></g>
<g fill="#00ff00"><circle cx="444.3" cy="1553.5" r="7.5"/><circle cx="452" cy="1553.5" r="7.5"/><circle cx="459.6" cy="1553.5" r="7.5"/><circle cx="467.3" cy="1553.5" r="7.5"/><circle cx="474.9" cy="1553.5" r="7.5"/><circle cx="482.6" cy="1553.5" r="7.5"/><circle cx="490.2" cy="1553.5" r="7.5"/><circle cx="497.9" cy="1553.5" r="7.5"/><circle cx="505.5" cy="1553.5" r="7.5"/><circle cx="513.2" cy="1553.5" r="7.5"/><circle cx="520.9" cy="1553.5" r="7.5"/></g>
<g fill="#ff0000"><circle cx="528.5" cy="1553.5" r="7.5"/><circle cx="536.2" cy="1553.5" r="7.5"/><circle cx="543.8" cy="1553.5" r="7.5"/><circle cx="551.5" cy="1553.5" r="7.5"/><circle cx="559.1" cy="1553.5" r="7.5"/><circle cx="566.8" cy="1553.5" r="7.5"/><circle cx="574.4" cy="1553.5" r="7.5"/><circle cx="582.1" cy="1553.5" r="7.5"/></g>
<g fill="#00ff00"><circle cx="589.7" cy="1553.5" r="7.5"/><circle cx="597.4" cy="1553.5" r="7.5"/><circle cx="605" cy="1553.5" r="7.5"/><circle cx="612.7" cy="1553.5" r="7.5"/><circle cx="620.4" cy="1553.5" r="7.5"/><circle cx="628" cy="1553.5" r="7.5"/></g>
<g fill="#ff0000"><circle cx="635.7" cy="1553.5" r="7.5"/><circle cx="643.3" cy="1553.5" r="7.5"/><circle cx="651" cy="1553.5" r="7.5"/><circle cx="658.6" cy="1553.5" r="7.5"/><circle cx="666.3" cy="1553.5" r="7.5"/><circle cx="673.9" cy="1553.5" r="7.5"/><circle cx="681.6" cy="1553.5" r="7.5"/><circle cx="689.2" cy="1553.5" r="7.5"/><circle cx="696.9" cy="1553.5" r="7.5"/><circle cx="704.5" cy="1553.5" r="7.5"/></g>
<g fill="#00ff00"><circle cx="712.2" cy="1553.5" r="7.5"/><circle cx="719.9" cy="1553.5" r="7.5"/><circle cx="727.5" cy="1553.5" r="7.5"/><circle cx="735.2" cy="1553.5" r="7.5"/><circle cx="742.8" cy="1553.5" r="7.5"/></g>
<g fill="#ff0000"><circle cx="750.5" cy="1553.5" r="7.5"/><circle cx="758.1" cy="1553.5" r="7.5"/><circle cx="765.8" cy="1553.5" r="7.5"/><circle cx="773.4" cy="1553.5" r="7.5"/><circle cx="781.1" cy="1553.5" r="7.5"/></g>
<g fill="#00ff00"><circle cx="788.7" cy="1553.5" r="7.5"/><circle cx="796.4" cy="1553.5" r="7.5"/><circle cx="804.1" cy="1553.5" r="7.5"/><circle cx="811.7" cy="1553.5" r="7.5"/><circle cx="819.4" cy="1553.5" r="7.5"/><circle cx="827" cy="1553.5" r="7.5"/><circle cx="834.7" cy="1553.5" r="7.5"/><circle cx="842.3" cy="1553.5" r="7.5"/><circle cx="850" cy="1553.5" r="7.5"/><circle cx="857.6" cy="1553.5" r="7.5"/><circle cx="865.3" cy="1553.5" r="7.5"/><circle cx="872.9" cy="1553.5" r="7.5"/><circle cx="880.6" cy="1553.5" r="7.5"/><circle cx="888.2" cy="1553.5" r="7.5"/><circle cx="895.9" cy="1553.5" r="7.5"/><circle cx="903.6" cy="1553.5" r="7.5"/></g>
<g fill="#ff0000"><circle cx="911.2" cy="1553.5" r="7.5"/></g>
<g fill="#00ff00"><circle cx="918.9" cy="1553.5" r="7.5"/><circle cx="926.5" cy="1553.5" r="7.5"/><circle cx="934.2" cy="1553.5" r="7.5"/><circle cx="941.8" cy="1553.5" r="7.5"/><circle cx="949.5" cy="1553.5" r="7.5"/></g>
<g fill="#ff0000"><circle cx="957.1" cy="1553.5" r="7.5"/></g>
<g fill="#00ff00"><circle cx="964.8" cy="1553.5" r="7.5"/><circle cx="972.4" cy="1553.5" r="7.5"/><circle cx="980.1" cy="1553.5" r="7.5"/></g>
<g fill="#ff0000"><circle cx="987.7" cy="1553.5" r="7.5"/><circle cx="995.4" cy="1553.5" r="7.5"/><circle cx="1003.1" cy="1553.5" r="7.5"/><circle cx="1010.7" cy="1553.5" r="7.5"/></g>
<g fill="#00ff00"><circle cx="1018.4" cy="1553.5" r="7.5"/><circle cx="1026" cy="1553.5" r="7.5"/><circle cx="1033.7" cy="1553.5" r="7.5"/><circle cx="1041.3" cy="1553.5" r="7.5"/><circle cx="1049" cy="1553.5" r="7.5"/><circle cx="1056.6" cy="1553.5" r="7.5"/><circle cx="1064.3" cy="1553.5" r="7.5"/><circle cx="1071.9" cy="1553.5" r="7.5"/><circle cx="1079.6" cy="1553.5" r="7.5"/></g>
<g fill="#ff0000"><circle cx="1087.2" cy="1553.5" r="7.5"/><circle cx="1094.9" cy="1553.5" r="7.5"/><circle cx="1102.6" cy="1553.5" r="7.5"/><circle cx="1110.2" cy="1553.5" r="7.5"/><circle cx="1117.9" cy="1553.5" r="7.5"/><circle cx="1125.5" cy="1553.5" r="7.5"/><circle cx="1133.2" cy="1553.5" r="7.5"/><circle cx="1140.8" cy="1553.5" r="7.5"/></g>
<g fill="#00ff00"><circle cx="1148.5" cy="1553.5" r="7.5"/><circle cx="1156.1" cy="1553.5" r="7.5"/><circle cx="1163.8" cy="1553.5" r="7.5"/><circle cx="1171.4" cy="1553.5" r="7.5"/><circle cx="1179.1" cy="1553.5" r="7.5"/><circle cx="1186.8" cy="1553.5" r="7.5"/><circle cx="1194.4" cy="1553.5" r="7.5"/><circle cx="1202.1" cy="1553.5" r="7.5"/><circle cx="1209.7" cy="1553.5" r="7.5"/><circle cx="1217.4" cy="1553.5" r="7.5"/></g>
<g fill="#ff0000"><circle cx="1225" cy="1553.5" r="7.5"/><circle cx="1232.7" cy="1553.5" r="7.5"/><circle cx="1240.3" cy="1553.5" r="7.5"/><circle cx="1248" cy="1553.5" r="7.5"/><circle cx="1255.6" cy="1553.5" r="7.5"/><circle cx="1263.3" cy="1553.5" r="7.5"/><circle cx="1270.9" cy="1553.5" r="7.5"/><circle cx="1278.6" cy="1553.5" r="7.5"/><circle cx="1286.3" cy="1553.5" r="7.5"/><circle cx="1293.9" cy="1553.5" r="7.5"/><circle cx="1301.6" cy="1553.5" r="7.5"/><circle cx="1309.2" cy="1553.5" r="7.5"/><circle cx="1316.9" cy="1553.5" r="7.5"/><circle cx="1324.5" cy="1553.5" r="7.5"/><circle cx="1332.2" cy="1553.5" r="7.5"/><circle cx="1339.8" cy="1553.5" r="7.5"/><circle cx="1347.5" cy="1553.5" r="7.5"/><circle cx="1355.1" cy="1553.5" r="7.5"/><circle cx="1362.8" cy="1553.5" r="7.5"/><circle cx="1370.4" cy="1553.5" r="7.5"/><circle cx="1378.1" cy="1553.5" r="7.5"/><circle cx="1385.8" cy="1553.5" r="7.5"/><circle cx="1393.4" cy="1553.5" r="7.5"/><circle cx="1401.1" cy="1553.5" r="7.5"/></g>
<g fill="#00ff00"><circle cx="1408.7" cy="1553.5" r="7.5"/><circle cx="1416.4" cy="1553.5" r="7.5"/><circle cx="1424" cy="1553.5" r="7.5"/><circle cx="1431.7" cy="1553.5" r="7.5"/><circle cx="1439.3" cy="1553.5" r="7.5"/><circle cx="1447" cy="1553.5" r="7.5"/><circle cx="1454.6" cy="1553.5" r="7.5"/><circle cx="1462.3" cy="1553.5" r="7.5"/><circle cx="1470" cy="1553.5" r="7.5"/><circle cx="1477.6" cy="1553.5" r="7.5"/><circle cx="1485.3" cy="1553.5" r="7.5"/><circle cx="1492.9" cy="1553.5" r="7.5"/><circle cx="1500.6" cy="1553.5" r="7.5"/><circle cx="1508.2" cy="1553.5" r="7.5"/><circle cx="1515.9" cy="1553.5" r="7.5"/><circle cx="1523.5" cy="1553.5" r="7.5"/><circle cx="1531.2" cy="1553.5" r="7.5"/></g>
<g fill="#ff0000"><circle cx="1538.8" cy="1553.5" r="7.5"/></g>
<g fill="#00ff00"><circle cx="1546.5" cy="1553.5" r="7.5"/></g>
<g fill="#ff0000"><circle cx="1554.1" cy="1553.5" r="7.5"/><circle cx="1561.8" cy="1553.5" r="7.5"/><circle cx="1569.5" cy="1553.5" r="7.5"/></g>
<g fill="#00ff00"><circle cx="1577.1" cy="1553.5" r="7.5"/><circle cx="1584.8" cy="1553.5" r="7.5"/></g>
<g fill="#ff0000"><circle cx="1592.4" cy="1553.5" r="7.5"/><circle cx="1600.1" cy="1553.5" r="7.5"/><circle cx="1607.7" cy="1553.5" r="7.5"/><circle cx="1615.4" cy="1553.5" r="7.5"/><circle cx="1623" cy="1553.5" r="7.5"/><circle cx="1630.7" cy="1553.5" r="7.5"/><circle cx="1638.3" cy="1553.5" r="7.5"/><circle cx="1646" cy="1553.5" r="7.5"/><circle cx="1653.6" cy="1553.5" r="7.5"/><circle cx="1661.3" cy="1553.5" r="7.5"/><circle cx="1669" cy="1553.5" r="7.5"/><circle cx="1676.6" cy="1553.5" r="7.5"/><circle cx="1684.3" cy="1553.5" r="7.5"/></g>
<g fill="#00ff00"><circle cx="1691.9" cy="1553.5" r="7.5"/><circle cx="1699.6" cy="1553.5" r="7.5"/><circle cx="1707.2" cy="1553.5" r="7.5"/><circle cx="1714.9" cy="1553.5" r="7.5"/><circle cx="1722.5" cy="1553.5" r="7.5"/><circle cx="1730.2" cy="1553.5" r="7.5"/><circle cx="1737.8" cy="1553.5" r="7.5"/><circle cx="1745.5" cy="1553.5" r="7.5"/><circle cx="1753.1" cy="1553.5" r="7.5"/><circle cx="1760.8" cy="1553.5" r="7.5"/><circle cx="1768.5" cy="1553.5" r="7.5"/><circle cx="1776.1" cy="1553.5" r="7.5"/><circle cx="1783.8" cy="1553.5" r="7.5"/><circle cx="1791.4" cy="1553.5" r="7.5"/><circle cx="1799.1" cy="1553.5" r="7.5"/><circle cx="1806.7" cy="1553.5" r="7.5"/><circle cx="1814.4" cy="1553.5" r="7.5"/></g>
<g fill="#ff0000"><circle cx="1822" cy="1553.5" r="7.5"/><circle cx="1829.7" cy="1553.5" r="7.5"/><circle cx="1837.3" cy="1553.5" r="7.5"/><circle cx="1845" cy="1553.5" r="7.5"/><circle cx="1852.7" cy="1553.5" r="7.5"/><circle cx="1860.3" cy="1553.5" r="7.5"/><circle cx="1868" cy="1553.5" r="7.5"/><circle cx="1875.6" cy="1553.5" r="7.5"/></g>
<g fill="#00ff00"><circle cx="1883.3" cy="1553.5" r="7.5"/><circle cx="1890.9" cy="1553.5" r="7.5"/><circle cx="1898.6" cy="1553.5" r="7.5"/><circle cx="1906.2" cy="1553.5" r="7.5"/><circle cx="1913.9" cy="1553.5" r="7.5"/></g>
<g fill="#ff0000"><circle cx="69.3" cy="1553.5" r="3.4"/><circle cx="253" cy="1553.5" r="3.4"/><circle cx="260.6" cy="1553.5" r="3.4"/><circle cx="880.6" cy="1553.5" r="3.4"/><circle cx="888.2" cy="1553.5" r="3.4"/><circle cx="895.9" cy="1553.5" r="3.4"/><circle cx="903.6" cy="1553.5" r="3.4"/><circle cx="918.9" cy="1553.5" r="3.4"/><circle cx="926.5" cy="1553.5" r="3.4"/><circle cx="934.2" cy="1553.5" r="3.4"/><circle cx="941.8" cy="1553.5" r="3.4"/><circle cx="949.5" cy="1553.5" r="3.4"/><circle cx="964.8" cy="1553.5" r="3.4"/><circle cx="972.4" cy="1553.5" r="3.4"/><circle cx="980.1" cy="1553.5" r="3.4"/><circle cx="1018.4" cy="1553.5" r="3.4"/><circle cx="1026" cy="1553.5" r="3.4"/><circle cx="1033.7" cy="1553.5" r="3.4"/><circle cx="1041.3" cy="1553.5" r="3.4"/><circle cx="1049" cy="1553.5" r="3.4"/><circle cx="1056.6" cy="1553.5" r="3.4"/><circle cx="1064.3" cy="1553.5" r="3.4"/><circle cx="1071.9" cy="1553.5" r="3.4"/><circle cx="1148.5" cy="1553.5" r="3.4"/><circle cx="1156.1" cy="1553.5" r="3.4"/><circle cx="1163.8" cy="1553.5" r="3.4"/><circle cx="1171.4" cy="1553.5" r="3.4"/><circle cx="1179.1" cy="1553.5" r="3.4"/><circle cx="1186.8" cy="1553.5" r="3.4"/><circle cx="1194.4" cy="1553.5" r="3.4"/><circle cx="1202.1" cy="1553.5" r="3.4"/><circle cx="1209.7" cy="1553.5" r="3.4"/><circle cx="1217.4" cy="1553.5" r="3.4"/><circle cx="1492.9" cy="1553.5" r="3.4"/><circle cx="1500.6" cy="1553.5" r="3.4"/><circle cx="1508.2" cy="1553.5" r="3.4"/><circle cx="1515.9" cy="1553.5" r="3.4"/><circle cx="1523.5" cy="1553.5" r="3.4"/><circle cx="1531.2" cy="1553.5" r="3.4"/><circle cx="1546.5" cy="1553.5" r="3.4"/><circle cx="1584.8" cy="1553.5" r="3.4"/><circle cx="1806.7" cy="1553.5" r="3.4"/><circle cx="1913.9" cy="1553.5" r="3.4"/></g>
<g fill="#00ff00"><circle cx="429" cy="1553.5" r="3.4"/><circle cx="1347.5" cy="1553.5" r="3.4"/><circle cx="1355.1" cy="1553.5" r="3.4"/><circle cx="1362.8" cy="1553.5" r="3.4"/><circle cx="1370.4" cy="1553.5" r="3.4"/><circle cx="1378.1" cy="1553.5" r="3.4"/><circle cx="1385.8" cy="1553.5" r="3.4"/><circle cx="1393.4" cy="1553.5" r="3.4"/><circle cx="1401.1" cy="1553.5" r="3.4"/><circle cx="1653.6" cy="1553.5" r="3.4"/><circle cx="1661.3" cy="1553.5" r="3.4"/><circle cx="1669" cy="1553.5" r="3.4"/><circle cx="1676.6" cy="1553.5" r="3.4"/><circle cx="1684.3" cy="1553.5" r="3.4"/></g>
</g>
<g>
<g fill="#00ff00"><circle cx="8" cy="1580.5" r="7.5"/><circle cx="15.7" cy="1580.5" r="7.5"/><circle cx="23.3" cy="1580.5" r="7.5"/><circle cx="31" cy="1580.5" r="7.5"/><circle cx="38.7" cy="1580.5" r="7.5"/><circle cx="46.3" cy="1580.5" r="7.5"/><circle cx="54" cy="1580.5" r="7.5"/><circle cx="61.6" cy="1580.5" r="7.5"/><circle cx="69.3" cy="1580.5" r="7.5"/><circle cx="76.9" cy="1580.5" r="7.5"/><circle cx="84.6" cy="1580.5" r="7.5"/><circle cx="92.2" cy="1580.5" r="7.5"/><circle cx="99.9" cy="1580.5" r="7.5"/><circle cx="107.5" cy="1580.5" r="7.5"/><circle cx="115.2" cy="1580.5" r="7.5"/><circle cx="122.8" cy="1580.5" r="7.5"/><circle cx="130.5" cy="1580.5" r="7.5"/><circle cx="138.2" cy="1580.5" r="7.5"/><circle cx="145.8" cy="1580.5" r="7.5"/><circle cx="153.5" cy="1580.5" r="7.5"/></g>
<g fill="#ff0000"><circle cx="161.1" cy="1580.5" r="7.5"/><circle cx="168.8" cy="1580.5" r="7.5"/><circle cx="176.4" cy="1580.5" r="7.5"/><circle cx="184.1" cy="1580.5" r="7.5"/><circle cx="191.7" cy="1580.5" r="7.5"/><circle cx="199.4" cy="1580.5" r="7.5"/><circle cx="207" cy="1580.5" r="7.5"/><circle cx="214.7" cy="1580.5" r="7.5"/><circle cx="222.3" cy="1580.5" r="7.5"/><circle cx="230" cy="1580.5" r="7.5"/><circle cx="237.7" cy="1580.5" r="7.5"/></g>
<g fill="#00ff00"><circle cx="245.3" cy="1580.5" r="7.5"/><circle cx="253" cy="1580.5" r="7.5"/><circle cx="260.6" cy="1580.5" r="7.5"/><circle cx="268.3" cy="1580.5" r="7.5"/><circle cx="275.9" cy="1580.5" r="7.5"/><circle cx="283.6" cy="1580.5" r="7.5"/><circle cx="291.2" cy="1580.5" r="7.5"/></g>
<g fill="#ff0000"><circle cx="298.9" cy="1580.5" r="7.5"/><circle cx="306.5" cy="1580.5" r="7.5"/><circle cx="314.2" cy="1580.5" r="7.5"/><circle cx="321.9" cy="1580.5" r="7.5"/><circle cx="329.5" cy="1580.5" r="7.5"/><circle cx="337.2" cy="1580.5" r="7.5"/><circle cx="344.8" cy="1580.5" r="7.5"/><circle cx="352.5" cy="1580.5" r="7.5"/><circle cx="360.1" cy="1580.5" r="7.5"/><circle cx="367.8" cy="1580.5" r="7.5"/><circle cx="375.4" cy="1580.5" r="7.5"/><circle cx="383.1" cy="1580.5" r="7.5"/><circle cx="390.7" cy="1580.5" r="7.5"/><circle cx="398.4" cy="1580.5" r="7.5"/><circle cx="406" cy="1580.5" r="7.5"/><circle cx="413.7" cy="1580.5" r="7.5"/><circle cx="421.4" cy="1580.5" r="7.5"/><circle cx="429" cy="1580.5" r="7.5"/><circle cx="436.7" cy="1580.5" r="7.5"/><circle cx="444.3" cy="1580.5" r="7.5"/><circle cx="452" cy="1580.5" r="7.5"/><circle cx="459.6" cy="1580.5" r="7.5"/></g>
<g fill="#00ff00"><circle cx="467.3" cy="1580.5" r="7.5"/><circle cx="474.9" cy="1580.5" r="7.5"/><circle cx="482.6" cy="1580.5" r="7.5"/><circle cx="490.2" cy="1580.5" r="7.5"/><circle cx="497.9" cy="1580.5" r="7.5"/><circle cx="505.5" cy="1580.5" r="7.5"/><circle cx="513.2" cy="1580.5" r="7.5"/><circle cx="520.9" cy="1580.5" r="7.5"/><circle cx="528.5" cy="1580.5" r="7.5"/><circle cx="536.2" cy="1580.5" r="7.5"/><circle cx="543.8" cy="1580.5" r="7.5"/><circle cx="551.5" cy="1580.5" r="7.5"/><circle cx="559.1" cy="1580.5" r="7.5"/><circle cx="566.8" cy="1580.5" r="7.5"/><circle cx="574.4" cy="1580.5" r="7.5"/><circle cx="582.1" cy="1580.5" r="7.5"/><circle cx="589.7" cy="1580.5" r="7.5"/><circle cx="597.4" cy="1580.5" r="7.5"/><circle cx="605" cy="1580.5" r="7.5"/><circle cx="612.7" cy="1580.5" r="7.5"/><circle cx="620.4" cy="1580.5" r="7.5"/><circle cx="628" cy="1580.5" r="7.5"/></g>
<g fill="#ff0000"><circle cx="635.7" cy="1580.5" r="7.5"/><circle cx="643.3" cy="1580.5" r="7.5"/><circle cx="651" cy="1580.5" r="7.5"/><circle cx="658.6" cy="1580.5" r="7.5"/><circle cx="666.3" cy="1580.5" r="7.5"/><circle cx="673.9" cy="1580.5" r="7.5"/><circle cx="681.6" cy="1580.5" r="7.5"/><circle cx="689.2" cy="1580.5" r="7.5"/><circle cx="696.9" cy="1580.5" r="7.5"/><circle cx="704.5" cy="1580.5" r="7.5"/><circle cx="712.2" cy="1580.5" r="7.5"/><circle cx="719.9" cy="1580.5" r="7.5"/><circle cx="727.5" cy="1580.5" r="7.5"/><circle cx="735.2" cy="1580.5" r="7.5"/><circle cx="742.8" cy="1580.5" r="7.5"/><circle cx="750.5" cy="1580.5" r="7.5"/><circle cx="758.1" cy="1580.5" r="7.5"/><circle cx="765.8" cy="1580.5" r="7.5"/><circle cx="773.4" cy="1580.5" r="7.5"/><circle cx="781.1" cy="1580.5" r="7.5"/><circle cx="788.7" cy="1580.5" r="7.5"/></g>
<g fill="#00ff00"><circle cx="796.4" cy="1580.5" r="7.5"/><circle cx="804.1" cy="1580.5" r="7.5"/><circle cx="811.7" cy="1580.5" r="7.5"/><circle cx="819.4" cy="1580.5" r="7.5"/><circle cx="827" cy="1580.5" r="7.5"/><circle cx="834.7" cy="1580.5" r="7.5"/><circle cx="842.3" cy="1580.5" r="7.5"/><circle cx="850" cy="1580.5" r="7.5"/><circle cx="857.6" cy="1580.5" r="7.5"/><circle cx="865.3" cy="1580.5" r="7.5"/><circle cx="872.9" cy="1580.5" r="7.5"/><circle cx="880.6" cy="1580.5" r="7.5"/><circle cx="888.2" cy="1580.5" r="7.5"/><circle cx="895.9" cy="1580.5" r="7.5"/><circle cx="903.6" cy="1580.5" r="7.5"/><circle cx="911.2" cy="1580.5" r="7.5"/><circle cx="918.9" cy="1580.5" r="7.5"/><circle cx="926.5" cy="1580.5" r="7.5"/><circle cx="934.2" cy="1580.5" r="7.5"/><circle cx="941.8" cy="1580.5" r="7.5"/><circle cx="949.5" cy="1580.5" r="7.5"/><circle cx="957.1" cy="1580.5" r="7.5"/><circle cx="964.8" cy="1580.5" r="7.5"/><circle cx="972.4" cy="1580.5" r="7.5"/><circle cx="980.1" cy="1580.5" r="7.5"/><circle cx="987.7" cy="1580.5" r="7.5"/></g>
<g fill="#ff0000"><circle cx="995.4" cy="1580.5" r="7.5"/><circle cx="1003.1" cy="1580.5" r="7.5"/><circle cx="1010.7" cy="1580.5" r="7.5"/></g>
<g fill="#00ff00"><circle cx="1018.4" cy="1580.5" r="7.5"/><circle cx="1026" cy="1580.5" r="7.5"/><circle cx="1033.7" cy="1580.5" r="7.5"/><circle cx="1041.3" cy="1580.5" r="7.5"/><circle cx="1049" cy="1580.5" r="7.5"/><circle cx="1056.6" cy="1580.5" r="7.5"/><circle cx="1064.3" cy="1580.5" r="7.5"/><circle cx="1071.9" cy="1580.5" r="7.5"/><circle cx="1079.6" cy="1580.5" r="7.5"/><circle cx="1087.2" cy="1580.5" r="7.5"/></g>
<g fill="#ff0000"><circle cx="1094.9" cy="1580.5" r="7.5"/><circle cx="1102.6" cy="1580.5" r="7.5"/><circle cx="1110.2" cy="1580.5" r="7.5"/><circle cx="1117.9" cy="1580.5" r="7.5"/><circle cx="1125.5" cy="1580.5" r="7.5"/><circle cx="1133.2" cy="1580.5" r="7.5"/><circle cx="1140.8" cy="1580.5" r="7.5"/><circle cx="1148.5" cy="1580.5" r="7.5"/><circle cx="1156.1" cy="1580.5" r="7.5"/><circle cx="1163.8" cy="1580.5" r="7.5"/><circle cx="1171.4" cy="1580.5" r="7.5"/><circle cx="1179.1" cy="1580.5" r="7.5"/></g>
<g fill="#00ff00"><circle cx="1186.8" cy="1580.5" r="7.5"/><circle cx="1194.4" cy="1580.5" r="7.5"/><circle cx="1202.1" cy="1580.5" r="7.5"/><circle cx="1209.7" cy="1580.5" r="7.5"/><circle cx="1217.4" cy="1580.5" r="7.5"/><circle cx="1225" cy="1580.5" r="7.5"/><circle cx="1232.7" cy="1580.5" r="7.5"/></g>
<g fill="#ff0000"><circle cx="1240.3" cy="1580.5" r="7.5"/><circle cx="1248" cy="1580.5" r="7.5"/><circle cx="1255.6" cy="1580.5" r="7.5"/><circle cx="1263.3" cy="1580.5" r="7.5"/><circle cx="1270.9" cy="1580.5" r="7.5"/><circle cx="1278.6" cy="1580.5" r="7.5"/><circle cx="1286.3" cy="1580.5" r="7.5"/><circle cx="1293.9" cy="1580.5" r="7.5"/><circle cx="1301.6" cy="1580.5" r="7.5"/><circle cx="1309.2" cy="1580.5" r="7.5"/><circle cx="1316.9" cy="1580.5" r="7.5"/><circle cx="1324.5" cy="1580.5" r="7.5"/><circle cx="1332.2" cy="1580.5" r="7.5"/><circle cx="1339.8" cy="1580.5" r="7.5"/><circle cx="1347.5" cy="1580.5" r="7.5"/><circle cx="1355.1" cy="1580.5" r="7.5"/><circle cx="1362.8" cy="1580.5" r="7.5"/><circle cx="1370.4" cy="1580.5" r="7.5"/><circle cx="1378.1" cy="1580.5" r="7.5"/><circle cx="1385.8" cy="1580.5" r="7.5"/><circle cx="1393.4" cy="1580.5" r="7.5"/><circle cx="1401.1" cy="1580.5" r="7.5"/><circle cx="1408.7" cy="1580.5" r="7.5"/><circle cx="1416.4" cy="1580.5" r="7.5"/><circle cx="1424" cy="1580.5" r="7.5"/><circle cx="1431.7" cy="1580.5" r="7.5"/></g>
<g fill="#00ff00"><circle cx="1439.3" cy="1580.5" r="7.5"/><circle cx="1447" cy="1580.5" r="7.5"/><circle cx="1454.6" cy="1580.5" r="7.5"/><circle cx="1462.3" cy="1580.5" r="7.5"/><circle cx="1470" cy="1580.5" r="7.5"/><circle cx="1477.6" cy="1580.5" r="7.5"/><circle cx="1485.3" cy="1580.5" r="7.5"/><circle cx="1492.9" cy="1580.5" r="7.5"/><circle cx="1500.6" cy="1580.5" r="7.5"/><circle cx="1508.2" cy="1580.5" r="7.5"/><circle cx="1515.9" cy="1580.5" r="7.5"/><circle cx="1523.5" cy="1580.5" r="7.5"/><circle cx="1531.2" cy="1580.5" r="7.5"/><circle cx="1538.8" cy="1580.5" r="7.5"/><circle cx="1546.5" cy="1580.5" r="7.5"/><circle cx="1554.1" cy="1580.5" r="7.5"/><circle cx="1561.8" cy="1580.5" r="7.5"/><circle cx="1569.5" cy="1580.5" r="7.5"/><circle cx="1577.1" cy="1580.5" r="7.5"/><circle cx="1584.8" cy="1580.5" r="7.5"/><circle cx="1592.4" cy="1580.5" r="7.5"/></g>
<g fill="#ff0000"><circle cx="1600.1" cy="1580.5" r="7.5"/><circle cx="1607.7" cy="1580.5" r="7.5"/><circle cx="1615.4" cy="1580.5" r="7.5"/><circle cx="1623" cy="1580.5" r="7.5"/><circle cx="1630.7" cy="1580.5" r="7.5"/><circle cx="1638.3" cy="1580.5" r="7.5"/><circle cx="1646" cy="1580.5" r="7.5"/><circle cx="1653.6" cy="1580.5" r="7.5"/><circle cx="1661.3" cy="1580.5" r="7.5"/><circle cx="1669" cy="1580.5" r="7.5"/><circle cx="1676.6" cy="1580.5" r="7.5"/><circle cx="1684.3" cy="1580.5" r="7.5"/><circle cx="1691.9" cy="1580.5" r="7.5"/><circle cx="1699.6" cy="1580.5" r="7.5"/><circle cx="1707.2" cy="1580.5" r="7.5"/><circle cx="1714.9" cy="1580.5" r="7.5"/><circle cx="1722.5" cy="1580.5" r="7.5"/><circle cx="1730.2" cy="1580.5" r="7.5"/></g>
<g fill="#00ff00"><circle cx="1737.8" cy="1580.5" r="7.5"/><circle cx="1745.5" cy="1580.5" r="7.5"/><circle cx="1753.1" cy="1580.5" r="7.5"/><circle cx="1760.8" cy="1580.5" r="7.5"/><circle cx="1768.5" cy="1580.5" r="7.5"/><circle cx="1776.1" cy="1580.5" r="7.5"/><circle cx="1783.8" cy="1580.5" r="7.5"/><circle cx="1791.4" cy="1580.5" r="7.5"/><circle cx="1799.1" cy="1580.5" r="7.5"/><circle cx="1806.7" cy="1580.5" r="7.5"/><circle cx="1814.4" cy="1580.5" r="7.5"/><circle cx="1822" cy="1580.5" r="7.5"/><circle cx="1829.7" cy="1580.5" r="7.5"/><circle cx="1837.3" cy="1580.5" r="7.5"/><circle cx="1845" cy="1580.5" r="7.5"/><circle cx="1852.7" cy="1580.5" r="7.5"/><circle cx="1860.3" cy="1580.5" r="7.5"/><circle cx="1868" cy="1580.5" r="7.5"/><circle cx="1875.6" cy="1580.5" r="7.5"/><circle cx="1883.3" cy="1580.5" r="7.5"/><circle cx="1890.9" cy="1580.5" r="7.5"/><circle cx="1898.6" cy="1580.5" r="7.5"/><circle cx="1906.2" cy="1580.5" r="7.5"/><circle cx="1913.9" cy="1580.5" r="7.5"/></g>
<g fill="#ff0000"><circle cx="92.2" cy="1580.5" r="3.4"/><circle cx="99.9" cy="1580.5" r="3.4"/><circle cx="107.5" cy="1580.5" r="3.4"/><circle cx="115.2" cy="1580.5" r="3.4"/><circle cx="122.8" cy="1580.5" r="3.4"/><circle cx="130.5" cy="1580.5" r="3.4"/><circle cx="138.2" cy="1580.5" r="3.4"/><circle cx="145.8" cy="1580.5" r="3.4"/><circle cx="153.5" cy="1580.5" r="3.4"/><circle cx="260.6" cy="1580.5" r="3.4"/><circle cx="268.3" cy="1580.5" r="3.4"/><circle cx="275.9" cy="1580.5" r="3.4"/><circle cx="283.6" cy="1580.5" r="3.4"/><circle cx="918.9" cy="1580.5" r="3.4"/><circle cx="926.5" cy="1580.5" r="3.4"/><circle cx="934.2" cy="1580.5" r="3.4"/><circle cx="941.8" cy="1580.5" r="3.4"/><circle cx="949.5" cy="1580.5" r="3.4"/><circle cx="957.1" cy="1580.5" r="3.4"/><circle cx="964.8" cy="1580.5" r="3.4"/><circle cx="972.4" cy="1580.5" r="3.4"/><circle cx="980.1" cy="1580.5" r="3.4"/><circle cx="987.7" cy="1580.5" r="3.4"/><circle cx="1018.4" cy="1580.5" r="3.4"/><circle cx="1026" cy="1580.5" r="3.4"/><circle cx="1033.7" cy="1580.5" r="3.4"/><circle cx="1041.3" cy="1580.5" r="3.4"/><circle cx="1049" cy="1580.5" r="3.4"/><circle cx="1056.6" cy="1580.5" r="3.4"/><circle cx="1064.3" cy="1580.5" r="3.4"/><circle cx="1071.9" cy="1580.5" r="3.4"/><circle cx="1079.6" cy="1580.5" r="3.4"/><circle cx="1186.8" cy="1580.5" r="3.4"/><circle cx="1194.4" cy="1580.5" r="3.4"/><circle cx="1202.1" cy="1580.5" r="3.4"/><circle cx="1209.7" cy="1580.5" r="3.4"/><circle cx="1217.4" cy="1580.5" r="3.4"/><circle cx="1225" cy="1580.5" r="3.4"/><circle cx="1232.7" cy="1580.5" r="3.4"/><circle cx="1546.5" cy="1580.5" r="3.4"/><circle cx="1554.1" cy="1580.5" r="3.4"/><circle cx="1561.8" cy="1580.5" r="3.4"/><circle cx="1569.5" cy="1580.5" r="3.4"/><circle cx="1577.1" cy="1580.5" r="3.4"/><circle cx="1584.8" cy="1580.5" r="3.4"/><circle cx="1592.4" cy="1580.5" r="3.4"/></g>
<g fill="#00ff00"><circle cx="1385.8" cy="1580.5" r="3.4"/><circle cx="1393.4" cy="1580.5" r="3.4"/><circle cx="1401.1" cy="1580.5" r="3.4"/><circle cx="1408.7" cy="1580.5" r="3.4"/><circle cx="1416.4" cy="1580.5" r="3.4"/><circle cx="1424" cy="1580.5" r="3.4"/><circle cx="1431.7" cy="1580.5" r="3.4"/></g>
</g>
<g fill="#111" stroke="#fff" stroke-width="2.2" paint-order="stroke" stroke-linejoin="miter"><path d="M16.65 1536.9H38.7V1563H27.9V1546.8H16.65Z"/><circle cx="47.7" cy="1543.2" r="4.5"/><path d="M58.5 1536.9H70L60.3 1563H48.6Z"/></g>
<text x="963.5" y="1209.3" font-size="20.5" fill="#7a7a7a" stroke="#7a7a7a" stroke-width="0.35" textLength="272.6" lengthAdjust="spacingAndGlyphs" text-anchor="middle" >ICE Trading Deluxe Big Point</text>
<clipPath id="cpm"><rect x="0" y="1503.2" width="2222" height="40"/></clipPath>
<text x="963.5" y="1507.6" font-size="20.5" fill="#131722" stroke="#131722" stroke-width="0.35" textLength="270" lengthAdjust="spacingAndGlyphs" text-anchor="middle" clip-path="url(#cpm)">Momentum Status Indikator</text>
<rect x="2" y="125" width="1217" height="33" fill="#fff" fill-opacity="0.55"/>
<rect x="2" y="1197" width="1394.5" height="39.4" fill="#fff" fill-opacity="0.5"/>
<rect x="2" y="1517.6" width="772" height="36.4" fill="#fff" fill-opacity="0.5"/>
<circle cx="26.5" cy="21.7" r="16.5" fill="#ebedf8"/>
<text x="26.6" y="30.2" font-size="23.5" fill="#2a2a72" font-weight="bold" text-anchor="middle" >F</text>
<text x="51.6" y="32.4" font-size="26.4" fill="#131722" stroke="#131722" stroke-width="0.35" textLength="94.2" lengthAdjust="spacingAndGlyphs" >FROSTA</text>
<text x="153.3" y="32.4" font-size="26.4" fill="#131722" stroke="#131722" stroke-width="0.35" textLength="34" lengthAdjust="spacingAndGlyphs" >AG</text>
<text x="212.6" y="32.4" font-size="26.4" fill="#131722" stroke="#131722" stroke-width="0.35" textLength="34.1" lengthAdjust="spacingAndGlyphs" >1M</text>
<text x="269.3" y="32.4" font-size="26.4" fill="#131722" stroke="#131722" stroke-width="0.35" textLength="99.7" lengthAdjust="spacingAndGlyphs" >GETTEX</text>
<rect x="197.6" y="21.3" width="4.8" height="4.8" fill="#131722"/><rect x="255.3" y="21.3" width="4.8" height="4.8" fill="#131722"/>
<text x="384.3" y="30.4" font-size="21.6" fill="#131722" stroke="#131722" stroke-width="0.35" textLength="14.5" lengthAdjust="spacingAndGlyphs" >O</text>
<text x="401" y="30.4" font-size="21.6" fill="#089981" stroke="#089981" stroke-width="0.35" textLength="58.5" lengthAdjust="spacingAndGlyphs" >89,20</text>
<text x="471" y="30.4" font-size="21.6" fill="#131722" stroke="#131722" stroke-width="0.35" textLength="13.8" lengthAdjust="spacingAndGlyphs" >H</text>
<text x="487.3" y="30.4" font-size="21.6" fill="#089981" stroke="#089981" stroke-width="0.35" textLength="58.2" lengthAdjust="spacingAndGlyphs" >97,80</text>
<text x="558" y="30.4" font-size="21.6" fill="#131722" stroke="#131722" stroke-width="0.35" textLength="10" lengthAdjust="spacingAndGlyphs" >L</text>
<text x="570.3" y="30.4" font-size="21.6" fill="#089981" stroke="#089981" stroke-width="0.35" textLength="58.3" lengthAdjust="spacingAndGlyphs" >89,20</text>
<text x="640" y="30.4" font-size="21.6" fill="#131722" stroke="#131722" stroke-width="0.35" textLength="13" lengthAdjust="spacingAndGlyphs" >C</text>
<text x="655.3" y="30.4" font-size="21.6" fill="#089981" stroke="#089981" stroke-width="0.35" textLength="58.3" lengthAdjust="spacingAndGlyphs" >97,00</text>
<text x="725" y="30.4" font-size="21.6" fill="#089981" stroke="#089981" stroke-width="0.35" textLength="57.5" lengthAdjust="spacingAndGlyphs" >+8,40</text>
<text x="790.6" y="30.4" font-size="21.6" fill="#089981" stroke="#089981" stroke-width="0.35" textLength="88.4" lengthAdjust="spacingAndGlyphs" >(+9,48%)</text>
<rect x="9.6" y="51.8" width="123" height="60.6" rx="8.5" fill="#fff" stroke="#f23645" stroke-width="1.3"/>
<text x="71.4" y="78" font-size="21" fill="#f23645" font-weight="bold" textLength="57.3" lengthAdjust="spacingAndGlyphs" text-anchor="middle" >96,80</text>
<text x="71" y="103.7" font-size="18" fill="#f23645" stroke="#f23645" stroke-width="0.35" textLength="83" lengthAdjust="spacingAndGlyphs" text-anchor="middle" >VERKAUF</text>
<text x="148.8" y="87.5" font-size="16" fill="#131722" stroke="#131722" stroke-width="0.35" textLength="33.5" lengthAdjust="spacingAndGlyphs" >1,00</text>
<rect x="198.6" y="51.8" width="96" height="60.6" rx="8.5" fill="#fff" stroke="#2962ff" stroke-width="1.3"/>
<text x="246.6" y="78" font-size="21" fill="#2962ff" font-weight="bold" textLength="57.7" lengthAdjust="spacingAndGlyphs" text-anchor="middle" >97,80</text>
<text x="246" y="103.7" font-size="18" fill="#2962ff" stroke="#2962ff" stroke-width="0.35" textLength="47" lengthAdjust="spacingAndGlyphs" text-anchor="middle" >KAUF</text>
<text x="11" y="149.3" font-size="22" fill="#b4b4b4" stroke="#b4b4b4" stroke-width="0.35" textLength="45.7" lengthAdjust="spacingAndGlyphs" >Croc</text>
<text x="66" y="149.3" font-size="22" fill="#b4b4b4" stroke="#b4b4b4" stroke-width="0.35" textLength="32.3" lengthAdjust="spacingAndGlyphs" >3.0</text>
<text x="105.9" y="149.3" font-size="22" fill="#b4b4b4" stroke="#b4b4b4" stroke-width="0.35" textLength="56.7" lengthAdjust="spacingAndGlyphs" >Chart</text>
<text x="173" y="149.3" font-size="22" fill="#b4b4b4" stroke="#b4b4b4" stroke-width="0.35" textLength="5.6" lengthAdjust="spacingAndGlyphs" >-</text>
<text x="187" y="149.3" font-size="22" fill="#b4b4b4" stroke="#b4b4b4" stroke-width="0.35" textLength="123" lengthAdjust="spacingAndGlyphs" >Professional</text>
<text x="318.5" y="149.3" font-size="22" fill="#b4b4b4" stroke="#b4b4b4" stroke-width="0.35" textLength="123.1" lengthAdjust="spacingAndGlyphs" >Grabberlein</text>
<text x="450.6" y="149.3" font-size="22" fill="#b4b4b4" stroke="#b4b4b4" stroke-width="0.35" textLength="48.4" lengthAdjust="spacingAndGlyphs" >Long</text>
<text x="508" y="149.3" font-size="22" fill="#b4b4b4" stroke="#b4b4b4" stroke-width="0.35" textLength="97.9" lengthAdjust="spacingAndGlyphs" >BB-Kombi</text>
<text x="614.9" y="149.3" font-size="22" fill="#b4b4b4" stroke="#b4b4b4" stroke-width="0.35" textLength="48.4" lengthAdjust="spacingAndGlyphs" >Long</text>
<text x="671" y="149.3" font-size="22" fill="#b4b4b4" stroke="#b4b4b4" stroke-width="0.35" textLength="31.7" lengthAdjust="spacingAndGlyphs" >AW</text>
<text x="710.5" y="149.3" font-size="22" fill="#b4b4b4" stroke="#b4b4b4" stroke-width="0.35" textLength="69.8" lengthAdjust="spacingAndGlyphs" >Rocket</text>
<text x="789.3" y="149.3" font-size="22" fill="#b4b4b4" stroke="#b4b4b4" stroke-width="0.35" textLength="48.4" lengthAdjust="spacingAndGlyphs" >Long</text>
<text x="845.5" y="149.3" font-size="22" fill="#b4b4b4" stroke="#b4b4b4" stroke-width="0.35" textLength="38" lengthAdjust="spacingAndGlyphs" >Red</text>
<text x="891.6" y="149.3" font-size="22" fill="#b4b4b4" stroke="#b4b4b4" stroke-width="0.35" textLength="50.7" lengthAdjust="spacingAndGlyphs" >Devil</text>
<text x="951.3" y="149.3" font-size="22" fill="#b4b4b4" stroke="#b4b4b4" stroke-width="0.35" textLength="48.3" lengthAdjust="spacingAndGlyphs" >Long</text>
<text x="1007.5" y="149.3" font-size="22" fill="#b4b4b4" stroke="#b4b4b4" stroke-width="0.35" textLength="82.2" lengthAdjust="spacingAndGlyphs" >LolliPop</text>
<text x="1097.5" y="149.3" font-size="22" fill="#b4b4b4" stroke="#b4b4b4" stroke-width="0.35" textLength="48.4" lengthAdjust="spacingAndGlyphs" >Long</text>
<text x="1153.8" y="149.3" font-size="22" fill="#b4b4b4" stroke="#b4b4b4" stroke-width="0.35" textLength="23.6" lengthAdjust="spacingAndGlyphs" >on</text>
<text x="1187.5" y="149.3" font-size="22" fill="#b4b4b4" stroke="#b4b4b4" stroke-width="0.35" textLength="23.7" lengthAdjust="spacingAndGlyphs" >on</text>
<g transform="translate(1245.2 141.4)" stroke="#131722" stroke-width="1.7" fill="none" stroke-linecap="round"><path d="M-9.9 5.2Q-12.6 3 -13.9 0.1Q-8 -10.6 4.7 -9.3"/><path d="M10.1 -6.1Q12.8 -3.6 14.2 -0.1Q8 10.8 -4.7 8.8"/><path d="M-4.6 0.6Q-4.4 -4.6 0.6 -4.6"/><path d="M4.7 -0.6Q4.5 4.6 -0.5 4.7"/><path d="M-9.9 10.1L10.4 -10.4"/></g>
<text x="11" y="193.7" font-size="22" fill="#131722" stroke="#131722" stroke-width="0.35" textLength="42" lengthAdjust="spacingAndGlyphs" >EMA</text>
<text x="59.5" y="193.7" font-size="22" fill="#5d5d5d" stroke="#5d5d5d" stroke-width="0.35" textLength="97.5" lengthAdjust="spacingAndGlyphs" >200 close</text>
<text x="171" y="193.7" font-size="22" fill="#388e3c" stroke="#388e3c" stroke-width="0.35" textLength="58" lengthAdjust="spacingAndGlyphs" >49,49</text>
<text x="11" y="237.2" font-size="22" fill="#131722" stroke="#131722" stroke-width="0.35" textLength="42" lengthAdjust="spacingAndGlyphs" >EMA</text>
<text x="59.5" y="237.2" font-size="22" fill="#5d5d5d" stroke="#5d5d5d" stroke-width="0.35" textLength="85" lengthAdjust="spacingAndGlyphs" >12 close</text>
<text x="159.7" y="237.2" font-size="22" fill="#f9b72c" stroke="#f9b72c" stroke-width="0.35" textLength="56.7" lengthAdjust="spacingAndGlyphs" >79,43</text>
<text x="11" y="280.7" font-size="22" fill="#131722" stroke="#131722" stroke-width="0.35" textLength="30.2" lengthAdjust="spacingAndGlyphs" >Vol</text>
<text x="49" y="280.7" font-size="22" fill="#5d5d5d" stroke="#5d5d5d" stroke-width="0.35" textLength="22.8" lengthAdjust="spacingAndGlyphs" >10</text>
<text x="88" y="280.7" font-size="22" fill="#26a69a" stroke="#26a69a" stroke-width="0.35" textLength="62" lengthAdjust="spacingAndGlyphs" >3,34 K</text>
<text x="160.7" y="280.7" font-size="22" fill="#2962ff" stroke="#2962ff" stroke-width="0.35" textLength="63.3" lengthAdjust="spacingAndGlyphs" >4,18 K</text>
<rect x="6.8" y="300.8" width="49.6" height="34.6" rx="4" fill="#fff" stroke="#e0e0e0" stroke-width="1.2"/>
<path d="M24 322.6L31.4 315.2L38.8 322.6" stroke="#131722" stroke-width="2.2" fill="none"/>
<text x="10.7" y="1221.7" font-size="22" fill="#131722" stroke="#131722" stroke-width="0.35" textLength="373.9" lengthAdjust="spacingAndGlyphs" >Croc 3.0 Lochstreifen - Professional</text>
<text x="391.3" y="1221.7" font-size="22" fill="#707070" stroke="#707070" stroke-width="0.35" textLength="28.7" lengthAdjust="spacingAndGlyphs" >off</text>
<g stroke="#1a1a1a" stroke-width="1.25" fill="none"><ellipse cx="443.7" cy="1214.1" rx="5.8" ry="6.1"/><path d="M439.6 1223.3L448.2 1204.9"/></g>
<g stroke="#1a1a1a" stroke-width="1.25" fill="none"><ellipse cx="469.3" cy="1214.1" rx="5.8" ry="6.1"/><path d="M465.2 1223.3L473.8 1204.9"/></g>
<g stroke="#1a1a1a" stroke-width="1.25" fill="none"><ellipse cx="563.3" cy="1214.1" rx="5.8" ry="6.1"/><path d="M559.2 1223.3L567.8 1204.9"/></g>
<g stroke="#1a1a1a" stroke-width="1.25" fill="none"><ellipse cx="589.4" cy="1214.1" rx="5.8" ry="6.1"/><path d="M585.2 1223.3L593.9 1204.9"/></g>
<g stroke="#1a1a1a" stroke-width="1.25" fill="none"><ellipse cx="683.5" cy="1214.1" rx="5.8" ry="6.1"/><path d="M679.4 1223.3L688 1204.9"/></g>
<g stroke="#1a1a1a" stroke-width="1.25" fill="none"><ellipse cx="709.7" cy="1214.1" rx="5.8" ry="6.1"/><path d="M705.6 1223.3L714.2 1204.9"/></g>
<g stroke="#1a1a1a" stroke-width="1.25" fill="none"><ellipse cx="804.5" cy="1214.1" rx="5.8" ry="6.1"/><path d="M800.4 1223.3L809 1204.9"/></g>
<g stroke="#1a1a1a" stroke-width="1.25" fill="none"><ellipse cx="955.9" cy="1214.1" rx="5.8" ry="6.1"/><path d="M951.8 1223.3L960.4 1204.9"/></g>
<g stroke="#1a1a1a" stroke-width="1.25" fill="none"><ellipse cx="981.8" cy="1214.1" rx="5.8" ry="6.1"/><path d="M977.7 1223.3L986.3 1204.9"/></g>
<g stroke="#1a1a1a" stroke-width="1.25" fill="none"><ellipse cx="1007.8" cy="1214.1" rx="5.8" ry="6.1"/><path d="M1003.6 1223.3L1012.2 1204.9"/></g>
<g stroke="#1a1a1a" stroke-width="1.25" fill="none"><ellipse cx="1033.6" cy="1214.1" rx="5.8" ry="6.1"/><path d="M1029.5 1223.3L1038.1 1204.9"/></g>
<g stroke="#1a1a1a" stroke-width="1.25" fill="none"><ellipse cx="1115.2" cy="1214.1" rx="5.8" ry="6.1"/><path d="M1111.1 1223.3L1119.7 1204.9"/></g>
<g stroke="#1a1a1a" stroke-width="1.25" fill="none"><ellipse cx="1141" cy="1214.1" rx="5.8" ry="6.1"/><path d="M1137 1223.3L1145.5 1204.9"/></g>
<g stroke="#1a1a1a" stroke-width="1.25" fill="none"><ellipse cx="1280.3" cy="1214.1" rx="5.8" ry="6.1"/><path d="M1276.2 1223.3L1284.8 1204.9"/></g>
<g stroke="#1a1a1a" stroke-width="1.25" fill="none"><ellipse cx="1306.2" cy="1214.1" rx="5.8" ry="6.1"/><path d="M1302.1 1223.3L1310.7 1204.9"/></g>
<g stroke="#1a1a1a" stroke-width="1.25" fill="none"><ellipse cx="1331.8" cy="1214.1" rx="5.8" ry="6.1"/><path d="M1327.7 1223.3L1336.2 1204.9"/></g>
<g stroke="#1a1a1a" stroke-width="1.25" fill="none"><ellipse cx="1357.6" cy="1214.1" rx="5.8" ry="6.1"/><path d="M1353.5 1223.3L1362.1 1204.9"/></g>
<g stroke="#1a1a1a" stroke-width="1.25" fill="none"><ellipse cx="1382.6" cy="1214.1" rx="5.8" ry="6.1"/><path d="M1378.5 1223.3L1387.1 1204.9"/></g>
<text x="487.5" y="1221.7" font-size="22.6" fill="#008000" stroke="#008000" stroke-width="0.35" textLength="57.5" lengthAdjust="spacingAndGlyphs" >14,00</text>
<text x="608" y="1221.7" font-size="22.6" fill="#00ff00" stroke="#00ff00" stroke-width="0.35" textLength="57.7" lengthAdjust="spacingAndGlyphs" >10,50</text>
<text x="729.4" y="1221.7" font-size="22.6" fill="#ffff00" stroke="#ffff00" stroke-width="0.35" textLength="56.3" lengthAdjust="spacingAndGlyphs" >11,50</text>
<text x="824" y="1221.7" font-size="22.6" fill="#00ff00" stroke="#00ff00" stroke-width="0.35" textLength="56" lengthAdjust="spacingAndGlyphs" >11,50</text>
<text x="893.5" y="1221.7" font-size="22.6" fill="#00ff00" stroke="#00ff00" stroke-width="0.35" textLength="44.5" lengthAdjust="spacingAndGlyphs" >9,50</text>
<text x="1051.5" y="1221.7" font-size="22.6" fill="#00ff00" stroke="#00ff00" stroke-width="0.35" textLength="45.5" lengthAdjust="spacingAndGlyphs" >8,50</text>
<text x="1159" y="1221.7" font-size="22.6" fill="#00ff00" stroke="#00ff00" stroke-width="0.35" textLength="46" lengthAdjust="spacingAndGlyphs" >7,50</text>
<text x="1216.4" y="1221.7" font-size="22.6" fill="#00ff00" stroke="#00ff00" stroke-width="0.35" textLength="45" lengthAdjust="spacingAndGlyphs" >6,50</text>
<text x="964.5" y="1292.6" font-size="19.6" fill="#000" stroke="#000" stroke-width="0.35" textLength="695" lengthAdjust="spacingAndGlyphs" text-anchor="middle" >Von oben: Status / Kerzenfarbe / Wolkenfarbe / Trend / Setter / Welle</text>
<text x="10.7" y="1539.9" font-size="22" fill="#131722" stroke="#131722" stroke-width="0.35" textLength="277.8" lengthAdjust="spacingAndGlyphs" >Croc 3.0 MSI - Professional</text>
<text x="295" y="1539.9" font-size="22" fill="#707070" stroke="#707070" stroke-width="0.35" textLength="28.7" lengthAdjust="spacingAndGlyphs" >off</text>
<text x="340" y="1539.9" font-size="22" fill="#2962ff" stroke="#2962ff" stroke-width="0.35" textLength="57" lengthAdjust="spacingAndGlyphs" >−0,50</text>
<text x="409.7" y="1539.9" font-size="22" fill="#2962ff" stroke="#2962ff" stroke-width="0.35" textLength="54.9" lengthAdjust="spacingAndGlyphs" >−1,50</text>
<text x="477" y="1539.9" font-size="22" fill="#2962ff" stroke="#2962ff" stroke-width="0.35" textLength="57.5" lengthAdjust="spacingAndGlyphs" >−2,50</text>
<g stroke="#1a1a1a" stroke-width="1.25" fill="none"><ellipse cx="553.7" cy="1532.3" rx="5.8" ry="6.1"/><path d="M549.6 1541.5L558.2 1523.1"/></g>
<g stroke="#1a1a1a" stroke-width="1.25" fill="none"><ellipse cx="579" cy="1532.3" rx="5.8" ry="6.1"/><path d="M574.9 1541.5L583.5 1523.1"/></g>
<g stroke="#1a1a1a" stroke-width="1.25" fill="none"><ellipse cx="604.9" cy="1532.3" rx="5.8" ry="6.1"/><path d="M600.8 1541.5L609.4 1523.1"/></g>
<g stroke="#1a1a1a" stroke-width="1.25" fill="none"><ellipse cx="630.4" cy="1532.3" rx="5.8" ry="6.1"/><path d="M626.3 1541.5L634.9 1523.1"/></g>
<g stroke="#1a1a1a" stroke-width="1.25" fill="none"><ellipse cx="656.1" cy="1532.3" rx="5.8" ry="6.1"/><path d="M652 1541.5L660.6 1523.1"/></g>
<g stroke="#1a1a1a" stroke-width="1.25" fill="none"><ellipse cx="681.9" cy="1532.3" rx="5.8" ry="6.1"/><path d="M677.8 1541.5L686.4 1523.1"/></g>
<g stroke="#1a1a1a" stroke-width="1.25" fill="none"><ellipse cx="707.8" cy="1532.3" rx="5.8" ry="6.1"/><path d="M703.6 1541.5L712.2 1523.1"/></g>
<g stroke="#1a1a1a" stroke-width="1.25" fill="none"><ellipse cx="733.4" cy="1532.3" rx="5.8" ry="6.1"/><path d="M729.2 1541.5L737.9 1523.1"/></g>
<g stroke="#1a1a1a" stroke-width="1.25" fill="none"><ellipse cx="758.9" cy="1532.3" rx="5.8" ry="6.1"/><path d="M754.8 1541.5L763.4 1523.1"/></g>
<text x="130.5" y="1622" font-size="20" fill="#131722" font-weight="bold" textLength="49.2" lengthAdjust="spacingAndGlyphs" text-anchor="middle" >2006</text>
<text x="314.1" y="1622" font-size="20" fill="#131722" font-weight="bold" textLength="49.2" lengthAdjust="spacingAndGlyphs" text-anchor="middle" >2008</text>
<text x="497.8" y="1622" font-size="20" fill="#131722" font-weight="bold" textLength="49.2" lengthAdjust="spacingAndGlyphs" text-anchor="middle" >2010</text>
<text x="681.4" y="1622" font-size="20" fill="#131722" font-weight="bold" textLength="49.2" lengthAdjust="spacingAndGlyphs" text-anchor="middle" >2012</text>
<text x="865" y="1622" font-size="20" fill="#131722" font-weight="bold" textLength="49.2" lengthAdjust="spacingAndGlyphs" text-anchor="middle" >2014</text>
<text x="1048.7" y="1622" font-size="20" fill="#131722" font-weight="bold" textLength="49.2" lengthAdjust="spacingAndGlyphs" text-anchor="middle" >2016</text>
<text x="1232.3" y="1622" font-size="20" fill="#131722" font-weight="bold" textLength="49.2" lengthAdjust="spacingAndGlyphs" text-anchor="middle" >2018</text>
<text x="1415.9" y="1622" font-size="20" fill="#131722" font-weight="bold" textLength="49.2" lengthAdjust="spacingAndGlyphs" text-anchor="middle" >2020</text>
<text x="1599.5" y="1622" font-size="20" fill="#131722" font-weight="bold" textLength="49.2" lengthAdjust="spacingAndGlyphs" text-anchor="middle" >2022</text>
<text x="1783.2" y="1622" font-size="20" fill="#131722" font-weight="bold" textLength="49.2" lengthAdjust="spacingAndGlyphs" text-anchor="middle" >2024</text>
<text x="1966.8" y="1622" font-size="20" fill="#131722" font-weight="bold" textLength="49.2" lengthAdjust="spacingAndGlyphs" text-anchor="middle" >2026</text>
<text x="2150.4" y="1622" font-size="20" fill="#131722" font-weight="bold" textLength="49.2" lengthAdjust="spacingAndGlyphs" text-anchor="middle" >2028</text>
<rect x="1868" y="614" width="360" height="171" rx="5" fill="#2c2c2c"/>
<text x="1883.3" y="652" font-size="23" fill="#fff" stroke="#fff" stroke-width="0.35" textLength="82.3" lengthAdjust="spacingAndGlyphs" >ETHUSD</text>
<text x="1972" y="652" font-size="23" fill="#ff9800" stroke="#ff9800" stroke-width="0.35" textLength="198" lengthAdjust="spacingAndGlyphs" >Aufwärts Kreuzend</text>
<text x="2179" y="652" font-size="23" fill="#fff" stroke="#fff" stroke-width="0.35" textLength="92" lengthAdjust="spacingAndGlyphs" >3.025,00</text>
<text x="1883.3" y="688.6" font-size="23" fill="#fff" stroke="#fff" stroke-width="0.35" textLength="181.3" lengthAdjust="spacingAndGlyphs" >BINANCE:ETHUSD</text>
<circle cx="2078.3" cy="681.5" r="3.4" fill="#9e9e9e"/>
<text x="2092.3" y="688.6" font-size="23" fill="#ff9800" stroke="#ff9800" stroke-width="0.35" textLength="86" lengthAdjust="spacingAndGlyphs" >Beendet</text>
<text x="2187" y="688.6" font-size="23" fill="#ff9800" stroke="#ff9800" stroke-width="0.35" textLength="15.6" lengthAdjust="spacingAndGlyphs" >–</text>
<text x="2209" y="688.6" font-size="23" fill="#ff9800" stroke="#ff9800" stroke-width="0.35" textLength="58" lengthAdjust="spacingAndGlyphs" >Alarm</text>
<text x="1883.3" y="724.7" font-size="23" fill="#9e9e9e" stroke="#9e9e9e" stroke-width="0.35" textLength="218" lengthAdjust="spacingAndGlyphs" >Erstellt: Di 15 Jul '25</text>
<text x="2124" y="724.7" font-size="23" fill="#9e9e9e" stroke="#9e9e9e" stroke-width="0.35" textLength="88.6" lengthAdjust="spacingAndGlyphs" >07:41:01</text>
<text x="1883.3" y="761" font-size="23" fill="#9e9e9e" stroke="#9e9e9e" stroke-width="0.35" textLength="322" lengthAdjust="spacingAndGlyphs" >Zuletzt ausgelöst: Di 15 Jul '25</text>
</svg>
</body></html>
